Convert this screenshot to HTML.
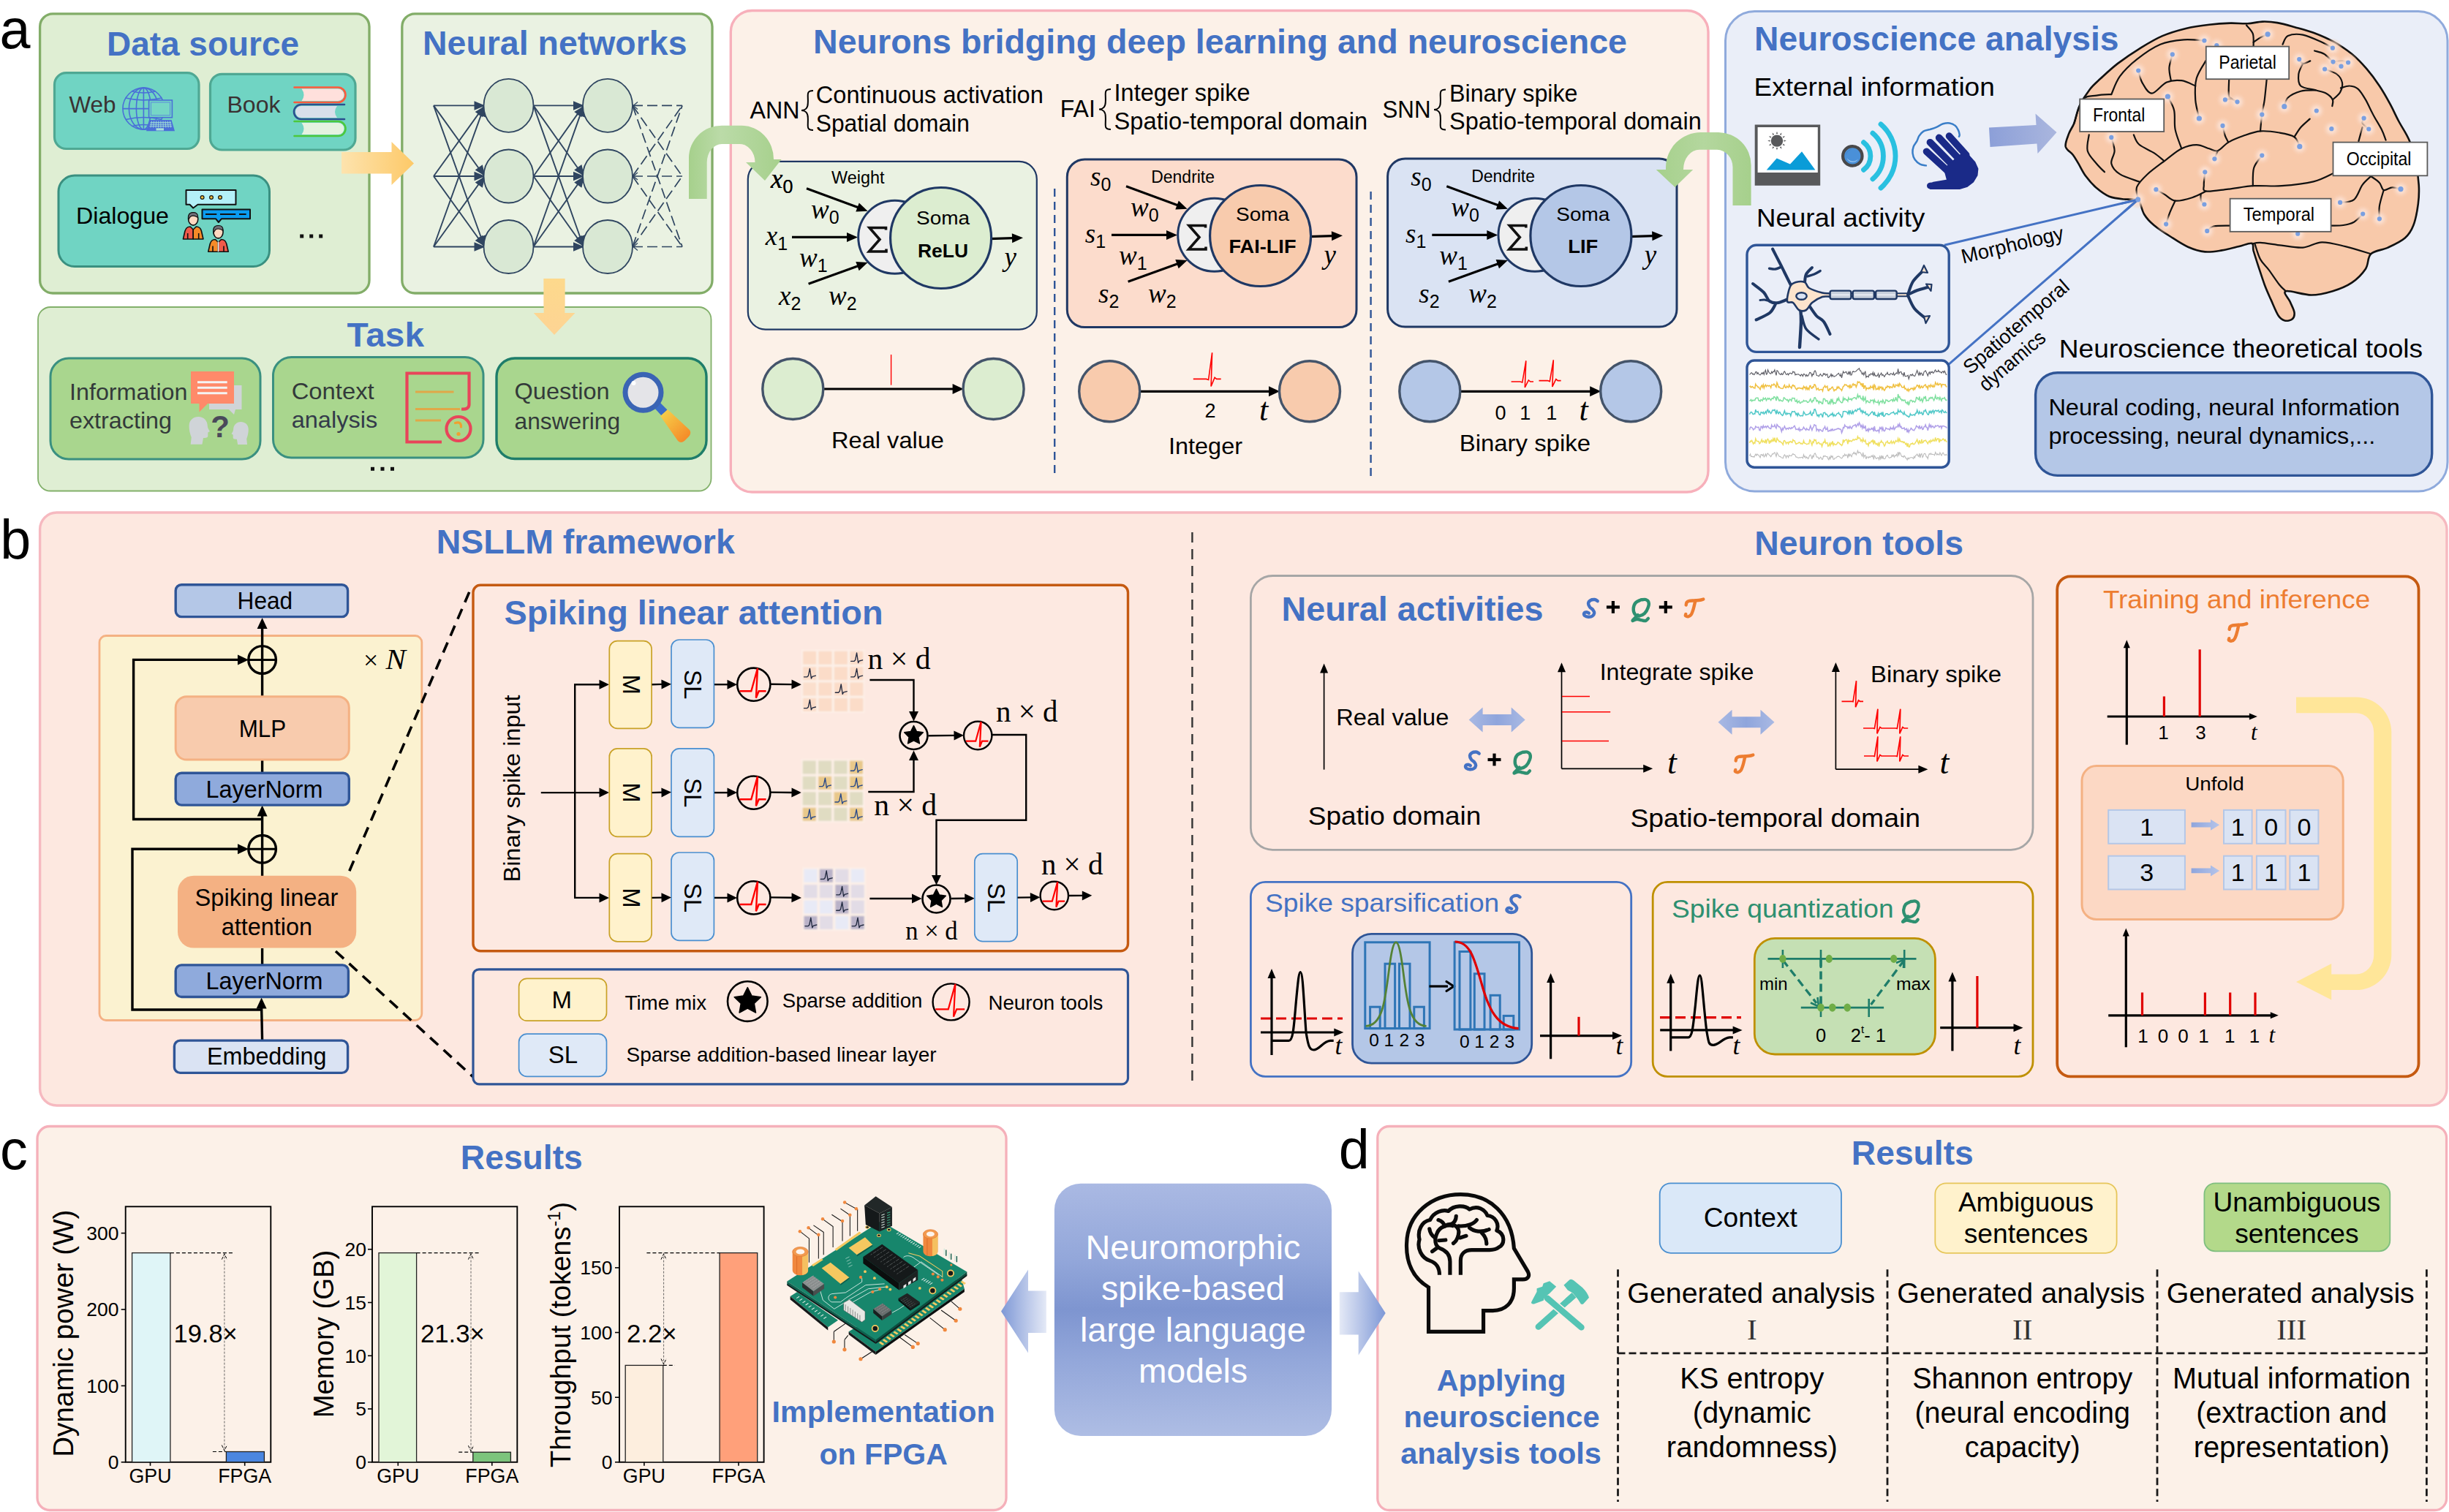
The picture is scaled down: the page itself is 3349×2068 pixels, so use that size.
<!DOCTYPE html>
<html><head><meta charset="utf-8"><title>figure</title>
<style>html,body{margin:0;padding:0;background:#fff;overflow:hidden}svg{display:block}text{white-space:pre}</style></head><body>
<svg width="3349" height="2068" viewBox="0 0 3349 2068" font-family="Liberation Sans, sans-serif">
<defs>
<linearGradient id="gOr" x1="0" x2="1" y1="0" y2="0"><stop offset="0" stop-color="#fde3ae"/><stop offset="1" stop-color="#fdc968"/></linearGradient>
<linearGradient id="gOd" x1="0" x2="0" y1="0" y2="1"><stop offset="0" stop-color="#fdd98c"/><stop offset="1" stop-color="#fdd494"/></linearGradient>
<linearGradient id="gHandle" gradientUnits="userSpaceOnUse" x1="905" y1="563" x2="940" y2="600"><stop offset="0" stop-color="#f6d04a"/><stop offset="1" stop-color="#f58a28"/></linearGradient>
<linearGradient id="gBl" x1="0" x2="1" y1="0" y2="0"><stop offset="0" stop-color="#8c9fd8"/><stop offset="1" stop-color="#aab6de"/></linearGradient>
<radialGradient id="gDot"><stop offset="0" stop-color="#fdeadf" stop-opacity="1"/><stop offset="0.45" stop-color="#fbdccb" stop-opacity="0.85"/><stop offset="1" stop-color="#f8c9aa" stop-opacity="0"/></radialGradient>
<linearGradient id="gGr1" gradientUnits="userSpaceOnUse" x1="942" x2="1068" y1="0" y2="0"><stop offset="0" stop-color="#a6d08c"/><stop offset="0.35" stop-color="#bbdba8"/><stop offset="1" stop-color="#a6d08c"/></linearGradient>
<linearGradient id="gGr2" gradientUnits="userSpaceOnUse" x1="2265" x2="2395" y1="0" y2="0"><stop offset="0" stop-color="#a6d08c"/><stop offset="0.5" stop-color="#b4d79e"/><stop offset="1" stop-color="#a6d08c"/></linearGradient>
<filter id="blr" x="-20%" y="-20%" width="140%" height="140%"><feGaussianBlur stdDeviation="0.9"/></filter>
<linearGradient id="gDA" x1="0" x2="1"><stop offset="0" stop-color="#a9b9e3"/><stop offset="0.5" stop-color="#8fa5dc"/><stop offset="1" stop-color="#a9b9e3"/></linearGradient>
<linearGradient id="gSA" x1="0" x2="1"><stop offset="0" stop-color="#8fa5dc"/><stop offset="1" stop-color="#b4c4ea"/></linearGradient>
<linearGradient id="gCB" x1="0" x2="0" y1="0" y2="1"><stop offset="0" stop-color="#aab9e3"/><stop offset="0.3" stop-color="#93a7da"/><stop offset="0.5" stop-color="#7e95d0"/><stop offset="0.7" stop-color="#93a7da"/><stop offset="1" stop-color="#aebde4"/></linearGradient>
<linearGradient id="gAL" x1="0" x2="1"><stop offset="0" stop-color="#7e98d6"/><stop offset="0.55" stop-color="#b7c5e8"/><stop offset="1" stop-color="#e4e9f6"/></linearGradient>
<linearGradient id="gAR" x1="0" x2="1"><stop offset="0" stop-color="#e4e9f6"/><stop offset="0.45" stop-color="#b7c5e8"/><stop offset="1" stop-color="#7e98d6"/></linearGradient>
</defs>
<text x="-0.5" y="65.8" font-size="75.5" fill="#000">a</text>
<rect x="54.6" y="18.9" width="450.4" height="382.1" fill="#dfeed3" rx="17.5" stroke="#82ad68" stroke-width="3.3"/>
<text x="146.0" y="75.7" font-size="46.5" fill="#4472c4" font-weight="bold" textLength="263.0" lengthAdjust="spacingAndGlyphs">Data source</text>
<rect x="74.5" y="99.7" width="197.5" height="103.8" fill="#70d4c3" rx="16" stroke="#4fa893" stroke-width="3.2"/>
<text x="94.5" y="154.0" font-size="32" fill="#3a3232" textLength="64.0" lengthAdjust="spacingAndGlyphs">Web</text>
<g fill="none" stroke="#4a6fd8" stroke-width="1.6">
<circle cx="196.4" cy="148.6" r="28.5" fill="none"/>
<ellipse cx="196.4" cy="148.6" rx="10.0" ry="28.5" fill="none"/>
<ellipse cx="196.4" cy="148.6" rx="20.0" ry="28.5" fill="none"/>
<line x1="196.4" y1="120.1" x2="196.4" y2="177.1" stroke="#4a6fd8" stroke-width="1.6"/>
<line x1="168.0" y1="148.6" x2="225.0" y2="148.6" stroke="#4a6fd8" stroke-width="1.6"/>
<path d="M172,134 Q196.4,140 221,134" fill="none"/>
<path d="M172,163.5 Q196.4,157.5 221,163.5" fill="none"/>
<path d="M181,125 Q196.4,129 212,125" fill="none"/>
<path d="M181,172.5 Q196.4,168.5 212,172.5" fill="none"/>
</g>
<rect x="203.6" y="137.0" width="31.8" height="23.7" fill="#70d4c3" stroke="#4a6fd8" stroke-width="1.6"/>
<rect x="206.6" y="140.0" width="25.8" height="17.7" fill="#76d6c6" stroke="#5a7fe0" stroke-width="0.8"/>
<polygon points="205.0,164.0 234.5,164.0 239.0,179.3 200.0,179.3" fill="#4a6fd8"/>
<g stroke="#9fdcd6" stroke-width="0.9">
<line x1="207.5" y1="165.5" x2="206.1" y2="174.5" stroke="#9fdcd6" stroke-width="0.9"/>
<line x1="210.6" y1="165.5" x2="209.5" y2="174.5" stroke="#9fdcd6" stroke-width="0.9"/>
<line x1="213.7" y1="165.5" x2="213.0" y2="174.5" stroke="#9fdcd6" stroke-width="0.9"/>
<line x1="216.8" y1="165.5" x2="216.5" y2="174.5" stroke="#9fdcd6" stroke-width="0.9"/>
<line x1="219.9" y1="165.5" x2="219.9" y2="174.5" stroke="#9fdcd6" stroke-width="0.9"/>
<line x1="223.0" y1="165.5" x2="223.3" y2="174.5" stroke="#9fdcd6" stroke-width="0.9"/>
<line x1="226.1" y1="165.5" x2="226.8" y2="174.5" stroke="#9fdcd6" stroke-width="0.9"/>
<line x1="229.2" y1="165.5" x2="230.2" y2="174.5" stroke="#9fdcd6" stroke-width="0.9"/>
<line x1="232.3" y1="165.5" x2="233.7" y2="174.5" stroke="#9fdcd6" stroke-width="0.9"/>
<line x1="205.5" y1="167.5" x2="234.0" y2="167.5" stroke="#9fdcd6" stroke-width="0.9"/>
<line x1="204.9" y1="170.1" x2="234.6" y2="170.1" stroke="#9fdcd6" stroke-width="0.9"/>
<line x1="204.3" y1="172.7" x2="235.2" y2="172.7" stroke="#9fdcd6" stroke-width="0.9"/>
</g>
<rect x="213.5" y="175.3" width="10.5" height="3.2" fill="#a8e0d8"/>
<rect x="287.5" y="101.3" width="198.5" height="103.7" fill="#70d4c3" rx="16" stroke="#4fa893" stroke-width="3.2"/>
<text x="310.5" y="154.3" font-size="32" fill="#3a3232" textLength="73.0" lengthAdjust="spacingAndGlyphs">Book</text>
<path d="M412.5,121.5 Q418.5,129.75 412.5,138 L462.25,138 A8.25,8.25 0 0 0 462.25,121.5 Z" fill="#ffe0dc"/>
<path d="M402.5,119.5 L462.25,119.5 A10.25,10.25 0 0 1 462.25,140 L402.5,140" fill="none" stroke="#ff5a3c" stroke-width="2.6" stroke-linecap="round"/>
<path d="M461,145 Q455,153.0 461,161 L412.0,161 A8.0,8.0 0 0 1 412.0,145 Z" fill="#d8dfea"/>
<path d="M471,143 L412.0,143 A10.0,10.0 0 0 0 412.0,163 L471,163" fill="none" stroke="#2a4f8f" stroke-width="2.6" stroke-linecap="round"/>
<path d="M412.5,168 Q418.5,176.0 412.5,184 L462.5,184 A8.0,8.0 0 0 0 462.5,168 Z" fill="#e4f2e0"/>
<path d="M402.5,166 L462.5,166 A10.0,10.0 0 0 1 462.5,186 L402.5,186" fill="none" stroke="#4cc83c" stroke-width="2.6" stroke-linecap="round"/>
<rect x="80.0" y="240.0" width="288.5" height="124.5" fill="#70d4c3" rx="22" stroke="#3a9080" stroke-width="3"/>
<text x="104.0" y="305.5" font-size="32" fill="#000" textLength="127.0" lengthAdjust="spacingAndGlyphs">Dialogue</text>
<path d="M254.5,260 H322.5 V279.8 H270.5 L264.2,284.5 L259.5,279.8 H254.5 Z" fill="#b4f0f8" stroke="#111" stroke-width="2" stroke-linejoin="round"/>
<circle cx="276.6" cy="270.0" r="2.4" fill="#f8c040" stroke="#111" stroke-width="1.2"/>
<circle cx="289.0" cy="270.0" r="2.4" fill="#f8c040" stroke="#111" stroke-width="1.2"/>
<circle cx="301.0" cy="270.0" r="2.4" fill="#f8c040" stroke="#111" stroke-width="1.2"/>
<path d="M276.5,286.5 H342 V299.2 H303 L298.9,304 L295,299.2 H276.5 Z" fill="#0a9cf0" stroke="#111" stroke-width="2" stroke-linejoin="round"/>
<line x1="281.0" y1="293.0" x2="296.3" y2="293.0" stroke="#111" stroke-width="2"/>
<line x1="301.0" y1="293.0" x2="322.3" y2="293.0" stroke="#111" stroke-width="2"/>
<line x1="327.0" y1="293.0" x2="336.6" y2="293.0" stroke="#111" stroke-width="2"/>
<path d="M250.45,327 L252.95,316 Q254.45,310 260.2,310 L264.2,314 L264.2,327 Z" fill="#f05a4a" stroke="#111" stroke-width="1.6" stroke-linejoin="round"/>
<path d="M277.95,327 L275.45,316 Q273.95,310 268.2,310 L264.2,314 L264.2,327 Z" fill="#f58a28" stroke="#111" stroke-width="1.6" stroke-linejoin="round"/>
<line x1="256.7" y1="327.0" x2="256.7" y2="319.0" stroke="#111" stroke-width="1.6"/>
<line x1="271.7" y1="327.0" x2="271.7" y2="319.0" stroke="#111" stroke-width="1.6"/>
<ellipse cx="264.2" cy="299.5" rx="6.6" ry="8.6" fill="#ffd8c0" stroke="#111" stroke-width="1.6"/>
<path d="M257.59999999999997,300.5 Q256.2,290.5 264.2,290.7 Q271.2,290.5 270.59999999999997,297.5 Q264.2,293.5 260.2,296.5 Z" fill="#707078" stroke="#111" stroke-width="1.2"/>
<path d="M284.75,344.3 L287.25,333.5 Q288.75,327.5 294.5,327.5 L298.5,331.5 L298.5,344.3 Z" fill="#f58a28" stroke="#111" stroke-width="1.6" stroke-linejoin="round"/>
<path d="M312.25,344.3 L309.75,333.5 Q308.25,327.5 302.5,327.5 L298.5,331.5 L298.5,344.3 Z" fill="#f05a4a" stroke="#111" stroke-width="1.6" stroke-linejoin="round"/>
<line x1="291.0" y1="344.3" x2="291.0" y2="336.5" stroke="#111" stroke-width="1.6"/>
<line x1="306.0" y1="344.3" x2="306.0" y2="336.5" stroke="#111" stroke-width="1.6"/>
<line x1="298.5" y1="330.5" x2="298.5" y2="344.3" stroke="#e8f4f4" stroke-width="1.6"/>
<ellipse cx="298.5" cy="317.3" rx="6.6" ry="8.6" fill="#ffd8c0" stroke="#111" stroke-width="1.6"/>
<path d="M291.9,318.3 Q290.5,308.3 298.5,308.5 Q305.5,308.3 304.9,315.3 Q298.5,311.3 294.5,314.3 Z" fill="#707078" stroke="#111" stroke-width="1.2"/>
<rect x="410.2" y="320.5" width="5.0" height="5.0" fill="#111"/>
<rect x="423.2" y="320.5" width="5.0" height="5.0" fill="#111"/>
<rect x="436.2" y="320.5" width="5.0" height="5.0" fill="#111"/>
<rect x="549.8" y="18.9" width="424.2" height="382.1" fill="#eaf2e2" rx="17.5" stroke="#82ad68" stroke-width="3.3"/>
<text x="578.0" y="74.5" font-size="46.5" fill="#4472c4" font-weight="bold" textLength="361.5" lengthAdjust="spacingAndGlyphs">Neural networks</text>
<polygon points="467.0,208.0 535.5,208.0 535.5,194.0 566.0,223.5 535.5,253.0 535.5,237.5 467.0,237.5" fill="url(#gOr)"/>
<g stroke="#2f4560" stroke-width="1.5" fill="none">
<line x1="593.0" y1="144.4" x2="662.5" y2="144.4" stroke="#2f4560" stroke-width="1.9"/>
<line x1="729.5" y1="144.4" x2="798.0" y2="144.4" stroke="#2f4560" stroke-width="1.9"/>
<line x1="865.0" y1="144.4" x2="933.0" y2="144.4" stroke="#2f4560" stroke-width="1.7" stroke-dasharray="14 6"/>
<line x1="593.0" y1="144.4" x2="662.5" y2="241.0" stroke="#2f4560" stroke-width="1.9"/>
<line x1="729.5" y1="144.4" x2="798.0" y2="241.0" stroke="#2f4560" stroke-width="1.9"/>
<line x1="865.0" y1="144.4" x2="933.0" y2="241.0" stroke="#2f4560" stroke-width="1.7" stroke-dasharray="14 6"/>
<line x1="593.0" y1="144.4" x2="662.5" y2="337.5" stroke="#2f4560" stroke-width="1.9"/>
<line x1="729.5" y1="144.4" x2="798.0" y2="337.5" stroke="#2f4560" stroke-width="1.9"/>
<line x1="865.0" y1="144.4" x2="933.0" y2="337.5" stroke="#2f4560" stroke-width="1.7" stroke-dasharray="14 6"/>
<line x1="593.0" y1="241.0" x2="662.5" y2="144.4" stroke="#2f4560" stroke-width="1.9"/>
<line x1="729.5" y1="241.0" x2="798.0" y2="144.4" stroke="#2f4560" stroke-width="1.9"/>
<line x1="865.0" y1="241.0" x2="933.0" y2="144.4" stroke="#2f4560" stroke-width="1.7" stroke-dasharray="14 6"/>
<line x1="593.0" y1="241.0" x2="662.5" y2="241.0" stroke="#2f4560" stroke-width="1.9"/>
<line x1="729.5" y1="241.0" x2="798.0" y2="241.0" stroke="#2f4560" stroke-width="1.9"/>
<line x1="865.0" y1="241.0" x2="933.0" y2="241.0" stroke="#2f4560" stroke-width="1.7" stroke-dasharray="14 6"/>
<line x1="593.0" y1="241.0" x2="662.5" y2="337.5" stroke="#2f4560" stroke-width="1.9"/>
<line x1="729.5" y1="241.0" x2="798.0" y2="337.5" stroke="#2f4560" stroke-width="1.9"/>
<line x1="865.0" y1="241.0" x2="933.0" y2="337.5" stroke="#2f4560" stroke-width="1.7" stroke-dasharray="14 6"/>
<line x1="593.0" y1="337.5" x2="662.5" y2="144.4" stroke="#2f4560" stroke-width="1.9"/>
<line x1="729.5" y1="337.5" x2="798.0" y2="144.4" stroke="#2f4560" stroke-width="1.9"/>
<line x1="865.0" y1="337.5" x2="933.0" y2="144.4" stroke="#2f4560" stroke-width="1.7" stroke-dasharray="14 6"/>
<line x1="593.0" y1="337.5" x2="662.5" y2="241.0" stroke="#2f4560" stroke-width="1.9"/>
<line x1="729.5" y1="337.5" x2="798.0" y2="241.0" stroke="#2f4560" stroke-width="1.9"/>
<line x1="865.0" y1="337.5" x2="933.0" y2="241.0" stroke="#2f4560" stroke-width="1.7" stroke-dasharray="14 6"/>
<line x1="593.0" y1="337.5" x2="662.5" y2="337.5" stroke="#2f4560" stroke-width="1.9"/>
<line x1="729.5" y1="337.5" x2="798.0" y2="337.5" stroke="#2f4560" stroke-width="1.9"/>
<line x1="865.0" y1="337.5" x2="933.0" y2="337.5" stroke="#2f4560" stroke-width="1.7" stroke-dasharray="14 6"/>
</g>
<polygon points="663.5,144.4 648.5,150.7 648.5,138.2" fill="#2f4560"/>
<polygon points="663.5,144.4 659.8,160.2 649.7,152.9" fill="#2f4560"/>
<polygon points="663.5,144.4 664.3,160.6 652.5,156.4" fill="#2f4560"/>
<ellipse cx="695.5" cy="144.4" rx="34.0" ry="36.5" fill="#d9e8d4" stroke="#2f4560" stroke-width="1.8"/>
<polygon points="663.5,241.0 649.7,232.5 659.8,225.2" fill="#2f4560"/>
<polygon points="663.5,241.0 648.5,247.2 648.5,234.8" fill="#2f4560"/>
<polygon points="663.5,241.0 659.8,256.8 649.7,249.5" fill="#2f4560"/>
<ellipse cx="695.5" cy="241.0" rx="34.0" ry="36.5" fill="#d9e8d4" stroke="#2f4560" stroke-width="1.8"/>
<polygon points="663.5,337.5 652.5,325.5 664.3,321.3" fill="#2f4560"/>
<polygon points="663.5,337.5 649.7,329.0 659.8,321.7" fill="#2f4560"/>
<polygon points="663.5,337.5 648.5,343.8 648.5,331.2" fill="#2f4560"/>
<ellipse cx="695.5" cy="337.5" rx="34.0" ry="36.5" fill="#d9e8d4" stroke="#2f4560" stroke-width="1.8"/>
<polygon points="799.0,144.4 784.0,150.7 784.0,138.2" fill="#2f4560"/>
<polygon points="799.0,144.4 795.4,160.3 785.2,153.0" fill="#2f4560"/>
<polygon points="799.0,144.4 799.9,160.6 788.1,156.4" fill="#2f4560"/>
<ellipse cx="831.0" cy="144.4" rx="34.0" ry="36.5" fill="#d9e8d4" stroke="#2f4560" stroke-width="1.8"/>
<polygon points="799.0,241.0 785.2,232.4 795.4,225.1" fill="#2f4560"/>
<polygon points="799.0,241.0 784.0,247.2 784.0,234.8" fill="#2f4560"/>
<polygon points="799.0,241.0 795.4,256.8 785.2,249.6" fill="#2f4560"/>
<ellipse cx="831.0" cy="241.0" rx="34.0" ry="36.5" fill="#d9e8d4" stroke="#2f4560" stroke-width="1.8"/>
<polygon points="799.0,337.5 788.1,325.5 799.9,321.3" fill="#2f4560"/>
<polygon points="799.0,337.5 785.2,328.9 795.4,321.7" fill="#2f4560"/>
<polygon points="799.0,337.5 784.0,343.8 784.0,331.2" fill="#2f4560"/>
<ellipse cx="831.0" cy="337.5" rx="34.0" ry="36.5" fill="#d9e8d4" stroke="#2f4560" stroke-width="1.8"/>
<path d="M872,139.4 L866,144.4 L872,149.4" fill="none" stroke="#2f4560" stroke-width="1.3"/>
<path d="M872,236 L866,241 L872,246" fill="none" stroke="#2f4560" stroke-width="1.3"/>
<path d="M872,332.5 L866,337.5 L872,342.5" fill="none" stroke="#2f4560" stroke-width="1.3"/>
<polygon points="743.6,381.0 772.4,381.0 772.4,428.0 786.5,428.0 758.0,458.0 729.8,428.0 743.6,428.0" fill="url(#gOd)"/>
<g>
<rect x="52.0" y="420.0" width="920.5" height="251.5" fill="#dfeed3" rx="17" stroke="#82b06a" stroke-width="1.8"/>
</g>
<polygon points="743.6,381.0 772.4,381.0 772.4,428.0 786.5,428.0 758.0,458.0 729.8,428.0 743.6,428.0" fill="url(#gOd)"/>
<text x="474.5" y="474.0" font-size="46.5" fill="#4472c4" font-weight="bold" textLength="105.5" lengthAdjust="spacingAndGlyphs">Task</text>
<rect x="69.0" y="490.0" width="287.0" height="138.0" fill="#a9d68e" rx="25" stroke="#3a9080" stroke-width="3"/>
<text x="95.0" y="546.5" font-size="31.5" fill="#333a3a" textLength="161.5" lengthAdjust="spacingAndGlyphs">Information</text>
<text x="95.0" y="585.5" font-size="31.5" fill="#333a3a" textLength="140.0" lengthAdjust="spacingAndGlyphs">extracting</text>
<polygon points="286.0,527.0 330.5,527.0 330.5,560.0 322.0,560.0 320.0,567.0 313.0,560.0 286.0,560.0" fill="#d0d4d8"/>
<polygon points="261.0,508.0 320.0,508.0 320.0,552.0 284.0,552.0 272.5,563.5 272.5,552.0 261.0,552.0" fill="#ff8a6a"/>
<line x1="270.0" y1="522.7" x2="310.7" y2="522.7" stroke="#f4f4f4" stroke-width="3"/>
<line x1="270.0" y1="530.2" x2="310.7" y2="530.2" stroke="#f4f4f4" stroke-width="3"/>
<line x1="270.0" y1="537.7" x2="310.7" y2="537.7" stroke="#f4f4f4" stroke-width="3"/>
<path transform="translate(256.5,570) scale(1.05,1.05)" d="M2,12 C2,4 8,0 14,0 C21,0 26,5 26,12 C26,14 27,16 29,19 L26.5,20.5 L26.5,25 C26.5,27 25,27.5 22,27.5 L20.5,27.5 L19,36 L4,36 L5,27 C3,22 2,17 2,12 Z" fill="#d0d4d8"/>
<path transform="translate(341.5,577) scale(-0.86,0.86)" d="M2,12 C2,4 8,0 14,0 C21,0 26,5 26,12 C26,14 27,16 29,19 L26.5,20.5 L26.5,25 C26.5,27 25,27.5 22,27.5 L20.5,27.5 L19,36 L4,36 L5,27 C3,22 2,17 2,12 Z" fill="#d0d4d8"/>
<text x="301.0" y="597.5" font-size="42" fill="#4a4a5a" font-weight="bold" text-anchor="middle">?</text>
<rect x="373.5" y="488.5" width="287.5" height="137.5" fill="#a9d68e" rx="25" stroke="#3a9080" stroke-width="3"/>
<text x="398.7" y="546.0" font-size="31.5" fill="#333a3a" textLength="113.0" lengthAdjust="spacingAndGlyphs">Context</text>
<text x="398.7" y="584.7" font-size="31.5" fill="#333a4a" textLength="117.5" lengthAdjust="spacingAndGlyphs">analysis</text>
<path d="M604,604.5 H556.5 V510.5 H641.5 V553 Q641.5,560.5 631,559.5" fill="none" stroke="#e8455a" stroke-width="4.2" stroke-linejoin="miter"/>
<line x1="568.0" y1="536.0" x2="620.5" y2="536.0" stroke="#e0a848" stroke-width="3.2"/>
<line x1="568.0" y1="559.5" x2="629.0" y2="559.5" stroke="#e0a848" stroke-width="3.2"/>
<line x1="568.0" y1="575.0" x2="603.0" y2="575.0" stroke="#e0a848" stroke-width="3.2"/>
<circle cx="627.0" cy="586.5" r="16.5" fill="#a9d68e" stroke="#e8455a" stroke-width="4.2"/>
<path d="M622.5,578.5 Q631,576 630.5,584" fill="none" stroke="#f0a030" stroke-width="3.2" stroke-linecap="round"/>
<circle cx="627.0" cy="593.5" r="2.6" fill="#f0a030"/>
<rect x="507.0" y="638.8" width="5.0" height="5.0" fill="#111"/>
<rect x="520.5" y="638.8" width="5.0" height="5.0" fill="#111"/>
<rect x="534.0" y="638.8" width="5.0" height="5.0" fill="#111"/>
<rect x="679.0" y="490.0" width="287.0" height="137.5" fill="#a9d68e" rx="25" stroke="#1e7d6a" stroke-width="3.4"/>
<text x="703.6" y="546.0" font-size="31.5" fill="#333a3a" textLength="130.0" lengthAdjust="spacingAndGlyphs">Question</text>
<text x="703.6" y="586.5" font-size="31.5" fill="#333a3a" textLength="144.5" lengthAdjust="spacingAndGlyphs">answering</text>
<polygon points="893.0,556.0 901.0,549.0 915.0,563.0 907.0,571.0" fill="#3a6cc8"/>
<path d="M903,569 L913,560 L943,588 Q946,592 942,597 L936,603 Q931,607 927,603 Z" fill="url(#gHandle)"/>
<circle cx="879.5" cy="536.8" r="24.5" fill="#e4e4e8" stroke="#3a64b4" stroke-width="7"/>
<circle cx="866.5" cy="524.0" r="3.0" fill="#fff"/>
<rect x="999.3" y="14.5" width="1336.7" height="658.5" fill="#fcf1e8" rx="29" stroke="#f7b0bb" stroke-width="3.4"/>
<text x="1112.0" y="73.1" font-size="46.5" fill="#4472c4" font-weight="bold" textLength="1113.0" lengthAdjust="spacingAndGlyphs">Neurons bridging deep learning and neuroscience</text>
<text x="1025.5" y="162.0" font-size="32.5" fill="#000" textLength="68.0" lengthAdjust="spacingAndGlyphs">ANN</text>
<path d="M1112,124 C1101.6,124 1105.6,130 1104.8,141.0 C1104.8,148.0 1100.8,151.0 1096,151.0 C1100.8,151.0 1104.8,154.0 1104.8,161.0 C1105.6,172 1101.6,178 1112,178" fill="none" stroke="#000" stroke-width="2"/>
<text x="1115.8" y="141.3" font-size="32.5" fill="#000" textLength="311.0" lengthAdjust="spacingAndGlyphs">Continuous activation</text>
<text x="1115.8" y="180.3" font-size="32.5" fill="#000" textLength="210.0" lengthAdjust="spacingAndGlyphs">Spatial domain</text>
<text x="1449.8" y="159.5" font-size="32.5" fill="#000" textLength="48.0" lengthAdjust="spacingAndGlyphs">FAI</text>
<path d="M1519,122 C1508.6,122 1512.6,128 1511.8,139.5 C1511.8,146.5 1507.8,149.5 1503,149.5 C1507.8,149.5 1511.8,152.5 1511.8,159.5 C1512.6,171 1508.6,177 1519,177" fill="none" stroke="#000" stroke-width="2"/>
<text x="1523.6" y="138.0" font-size="32.5" fill="#000" textLength="186.0" lengthAdjust="spacingAndGlyphs">Integer spike</text>
<text x="1523.6" y="177.4" font-size="32.5" fill="#000" textLength="346.5" lengthAdjust="spacingAndGlyphs">Spatio-temporal domain</text>
<text x="1890.5" y="160.7" font-size="32.5" fill="#000" textLength="66.0" lengthAdjust="spacingAndGlyphs">SNN</text>
<path d="M1977,122.5 C1966.6,122.5 1970.6,128.5 1969.8,140.0 C1969.8,147.0 1965.8,150.0 1961,150.0 C1965.8,150.0 1969.8,153.0 1969.8,160.0 C1970.6,171.5 1966.6,177.5 1977,177.5" fill="none" stroke="#000" stroke-width="2"/>
<text x="1982.0" y="138.6" font-size="32.5" fill="#000" textLength="175.5" lengthAdjust="spacingAndGlyphs">Binary spike</text>
<text x="1982.0" y="177.4" font-size="32.5" fill="#000" textLength="344.7" lengthAdjust="spacingAndGlyphs">Spatio-temporal domain</text>
<g transform="translate(0,3)">
<rect x="1022.8" y="217.9" width="395.0" height="229.7" fill="#eaf2e2" rx="24" stroke="#1f3864" stroke-width="2.2"/>
<line x1="1103.0" y1="254.8" x2="1173.5" y2="280.8" stroke="#000" stroke-width="3.2"/>
<polygon points="1186.6,285.7 1170.3,286.6 1174.8,274.4" fill="#000"/>
<line x1="1083.0" y1="321.4" x2="1159.0" y2="321.4" stroke="#000" stroke-width="3.2"/>
<polygon points="1173.0,321.4 1158.0,327.9 1158.0,314.9" fill="#000"/>
<line x1="1105.6" y1="385.2" x2="1173.4" y2="360.7" stroke="#000" stroke-width="3.2"/>
<polygon points="1186.6,356.0 1174.7,367.2 1170.3,355.0" fill="#000"/>
<line x1="1353.0" y1="323.6" x2="1385.0" y2="322.6" stroke="#000" stroke-width="3.2"/>
<polygon points="1399.0,322.2 1384.2,329.2 1383.8,316.2" fill="#000"/>
<circle cx="1223.7" cy="321.3" r="50.0" fill="#efefef" stroke="#1f3864" stroke-width="3"/>
<circle cx="1286.6" cy="322.5" r="69.0" fill="#dcedd0" stroke="#1f3864" stroke-width="3.2"/>
<path d="M1211.5,311.5 L1211.5,308.5 H1189 L1203,324.5 L1188.5,341 H1212 L1212,337.5" fill="none" stroke="#111" stroke-width="3.6" stroke-linejoin="miter"/>
<text x="1289.5" y="304.0" font-size="26.5" fill="#000" text-anchor="middle" textLength="73.0" lengthAdjust="spacingAndGlyphs">Soma</text>
<text x="1289.5" y="349.0" font-size="25" fill="#000" font-weight="bold" text-anchor="middle" textLength="69.0" lengthAdjust="spacingAndGlyphs">ReLU</text>
<text x="1054.0" y="254.3" font-size="37" fill="#000" font-family="Liberation Serif, serif" font-style="italic">x<tspan font-size="25" dy="7.0" font-style="normal" font-family="Liberation Sans, sans-serif">0</tspan></text>
<text x="1046.8" y="332.0" font-size="37" fill="#000" font-family="Liberation Serif, serif" font-style="italic">x<tspan font-size="25" dy="7.0" font-style="normal" font-family="Liberation Sans, sans-serif">1</tspan></text>
<text x="1065.0" y="414.0" font-size="37" fill="#000" font-family="Liberation Serif, serif" font-style="italic">x<tspan font-size="25" dy="7.0" font-style="normal" font-family="Liberation Sans, sans-serif">2</tspan></text>
<text x="1109.0" y="296.4" font-size="37" fill="#000" font-family="Liberation Serif, serif" font-style="italic">w<tspan font-size="25" dy="7.0" font-style="normal" font-family="Liberation Sans, sans-serif">0</tspan></text>
<text x="1093.0" y="362.0" font-size="37" fill="#000" font-family="Liberation Serif, serif" font-style="italic">w<tspan font-size="25" dy="7.0" font-style="normal" font-family="Liberation Sans, sans-serif">1</tspan></text>
<text x="1133.0" y="414.0" font-size="37" fill="#000" font-family="Liberation Serif, serif" font-style="italic">w<tspan font-size="25" dy="7.0" font-style="normal" font-family="Liberation Sans, sans-serif">2</tspan></text>
<text x="1373.5" y="360.7" font-size="37" fill="#000" font-family="Liberation Serif, serif" font-style="italic">y</text>
</g>
<text x="1137.0" y="251.0" font-size="23.5" fill="#000" textLength="72.5" lengthAdjust="spacingAndGlyphs">Weight</text>
<rect x="1459.3" y="217.9" width="395.7" height="229.7" fill="#fcdccc" rx="24" stroke="#1f3864" stroke-width="3"/>
<line x1="1540.0" y1="254.8" x2="1610.5" y2="280.8" stroke="#000" stroke-width="3.2"/>
<polygon points="1623.6,285.7 1607.3,286.6 1611.8,274.4" fill="#000"/>
<line x1="1520.0" y1="321.4" x2="1596.0" y2="321.4" stroke="#000" stroke-width="3.2"/>
<polygon points="1610.0,321.4 1595.0,327.9 1595.0,314.9" fill="#000"/>
<line x1="1542.6" y1="385.2" x2="1610.4" y2="360.7" stroke="#000" stroke-width="3.2"/>
<polygon points="1623.6,356.0 1611.7,367.2 1607.3,355.0" fill="#000"/>
<line x1="1790.0" y1="323.6" x2="1822.0" y2="322.6" stroke="#000" stroke-width="3.2"/>
<polygon points="1836.0,322.2 1821.2,329.2 1820.8,316.2" fill="#000"/>
<circle cx="1660.7" cy="321.3" r="50.0" fill="#efefef" stroke="#1f3864" stroke-width="3"/>
<circle cx="1723.6" cy="322.5" r="69.0" fill="#f8cbad" stroke="#1f3864" stroke-width="3.2"/>
<path d="M1648.5,311.5 L1648.5,308.5 H1626 L1640,324.5 L1625.5,341 H1649 L1649,337.5" fill="none" stroke="#111" stroke-width="3.6" stroke-linejoin="miter"/>
<text x="1726.5" y="302.4" font-size="26.5" fill="#000" text-anchor="middle" textLength="73.0" lengthAdjust="spacingAndGlyphs">Soma</text>
<text x="1726.5" y="346.4" font-size="26" fill="#000" font-weight="bold" text-anchor="middle" textLength="92.0" lengthAdjust="spacingAndGlyphs">FAI-LIF</text>
<text x="1491.0" y="254.3" font-size="37" fill="#000" font-family="Liberation Serif, serif" font-style="italic">s<tspan font-size="25" dy="7.0" font-style="normal" font-family="Liberation Sans, sans-serif">0</tspan></text>
<text x="1483.8" y="332.0" font-size="37" fill="#000" font-family="Liberation Serif, serif" font-style="italic">s<tspan font-size="25" dy="7.0" font-style="normal" font-family="Liberation Sans, sans-serif">1</tspan></text>
<text x="1502.0" y="414.0" font-size="37" fill="#000" font-family="Liberation Serif, serif" font-style="italic">s<tspan font-size="25" dy="7.0" font-style="normal" font-family="Liberation Sans, sans-serif">2</tspan></text>
<text x="1546.0" y="296.4" font-size="37" fill="#000" font-family="Liberation Serif, serif" font-style="italic">w<tspan font-size="25" dy="7.0" font-style="normal" font-family="Liberation Sans, sans-serif">0</tspan></text>
<text x="1530.0" y="362.0" font-size="37" fill="#000" font-family="Liberation Serif, serif" font-style="italic">w<tspan font-size="25" dy="7.0" font-style="normal" font-family="Liberation Sans, sans-serif">1</tspan></text>
<text x="1570.0" y="414.0" font-size="37" fill="#000" font-family="Liberation Serif, serif" font-style="italic">w<tspan font-size="25" dy="7.0" font-style="normal" font-family="Liberation Sans, sans-serif">2</tspan></text>
<text x="1810.5" y="360.7" font-size="37" fill="#000" font-family="Liberation Serif, serif" font-style="italic">y</text>
<text x="1574.3" y="249.5" font-size="23.5" fill="#000" textLength="86.7" lengthAdjust="spacingAndGlyphs">Dendrite</text>
<rect x="1897.6" y="217.0" width="395.4" height="230.0" fill="#dae3f3" rx="24" stroke="#1f3864" stroke-width="3"/>
<line x1="1978.3" y1="254.8" x2="2048.8" y2="280.8" stroke="#000" stroke-width="3.2"/>
<polygon points="2061.9,285.7 2045.6,286.6 2050.1,274.4" fill="#000"/>
<line x1="1958.3" y1="321.4" x2="2034.3" y2="321.4" stroke="#000" stroke-width="3.2"/>
<polygon points="2048.3,321.4 2033.3,327.9 2033.3,314.9" fill="#000"/>
<line x1="1980.9" y1="385.2" x2="2048.7" y2="360.7" stroke="#000" stroke-width="3.2"/>
<polygon points="2061.9,356.0 2050.0,367.2 2045.6,355.0" fill="#000"/>
<line x1="2228.3" y1="323.6" x2="2260.3" y2="322.6" stroke="#000" stroke-width="3.2"/>
<polygon points="2274.3,322.2 2259.5,329.2 2259.1,316.2" fill="#000"/>
<circle cx="2099.0" cy="321.3" r="50.0" fill="#efefef" stroke="#1f3864" stroke-width="3"/>
<circle cx="2161.9" cy="322.5" r="69.0" fill="#b4c7e7" stroke="#1f3864" stroke-width="3.2"/>
<path d="M2086.8,311.5 L2086.8,308.5 H2064.3 L2078.3,324.5 L2063.8,341 H2087.3 L2087.3,337.5" fill="none" stroke="#111" stroke-width="3.6" stroke-linejoin="miter"/>
<text x="2164.8" y="302.4" font-size="26.5" fill="#000" text-anchor="middle" textLength="73.0" lengthAdjust="spacingAndGlyphs">Soma</text>
<text x="2164.8" y="346.4" font-size="25" fill="#000" font-weight="bold" text-anchor="middle" textLength="41.0" lengthAdjust="spacingAndGlyphs">LIF</text>
<text x="1929.3" y="254.3" font-size="37" fill="#000" font-family="Liberation Serif, serif" font-style="italic">s<tspan font-size="25" dy="7.0" font-style="normal" font-family="Liberation Sans, sans-serif">0</tspan></text>
<text x="1922.1" y="332.0" font-size="37" fill="#000" font-family="Liberation Serif, serif" font-style="italic">s<tspan font-size="25" dy="7.0" font-style="normal" font-family="Liberation Sans, sans-serif">1</tspan></text>
<text x="1940.3" y="414.0" font-size="37" fill="#000" font-family="Liberation Serif, serif" font-style="italic">s<tspan font-size="25" dy="7.0" font-style="normal" font-family="Liberation Sans, sans-serif">2</tspan></text>
<text x="1984.3" y="296.4" font-size="37" fill="#000" font-family="Liberation Serif, serif" font-style="italic">w<tspan font-size="25" dy="7.0" font-style="normal" font-family="Liberation Sans, sans-serif">0</tspan></text>
<text x="1968.3" y="362.0" font-size="37" fill="#000" font-family="Liberation Serif, serif" font-style="italic">w<tspan font-size="25" dy="7.0" font-style="normal" font-family="Liberation Sans, sans-serif">1</tspan></text>
<text x="2008.3" y="414.0" font-size="37" fill="#000" font-family="Liberation Serif, serif" font-style="italic">w<tspan font-size="25" dy="7.0" font-style="normal" font-family="Liberation Sans, sans-serif">2</tspan></text>
<text x="2248.8" y="360.7" font-size="37" fill="#000" font-family="Liberation Serif, serif" font-style="italic">y</text>
<text x="2012.3" y="248.5" font-size="23.5" fill="#000" textLength="86.7" lengthAdjust="spacingAndGlyphs">Dendrite</text>
<line x1="1442.2" y1="258.0" x2="1442.2" y2="650.0" stroke="#2f5597" stroke-width="2.4" stroke-dasharray="11 7"/>
<line x1="1874.6" y1="262.0" x2="1874.6" y2="652.0" stroke="#2f5597" stroke-width="2.4" stroke-dasharray="11 7"/>
<line x1="1126.3" y1="532.0" x2="1303.6" y2="532.0" stroke="#000" stroke-width="3.2"/>
<polygon points="1317.6,532.0 1302.6,539.0 1302.6,525.0" fill="#000"/>
<circle cx="1084.3" cy="532.0" r="41.5" fill="#dcedd0" stroke="#44546a" stroke-width="3.4"/>
<circle cx="1358.6" cy="532.0" r="41.5" fill="#dcedd0" stroke="#44546a" stroke-width="3.4"/>
<line x1="1218.6" y1="485.0" x2="1218.6" y2="526.6" stroke="#ff0000" stroke-width="1.4"/>
<text x="1137.0" y="612.9" font-size="32" fill="#000" textLength="154.0" lengthAdjust="spacingAndGlyphs">Real value</text>
<line x1="1559.2" y1="535.3" x2="1736.0" y2="535.3" stroke="#000" stroke-width="3.2"/>
<polygon points="1750.0,535.3 1735.0,542.3 1735.0,528.3" fill="#000"/>
<circle cx="1517.2" cy="535.3" r="41.5" fill="#f8cbad" stroke="#44546a" stroke-width="3.4"/>
<circle cx="1791.0" cy="535.3" r="41.5" fill="#f8cbad" stroke="#44546a" stroke-width="3.4"/>
<path d="M1631.8,518.4 H1649.6 L1652.6,519.4 L1657.6,482.3 L1656.1,528.5 L1661.1,516.4 L1663.6,518.4 H1669.7" fill="none" stroke="#ff0000" stroke-width="1.6" stroke-linejoin="miter"/>
<text x="1655.0" y="570.5" font-size="27" fill="#000" text-anchor="middle">2</text>
<text x="1722.0" y="575.0" font-size="44" fill="#000" font-family="Liberation Serif, serif" font-style="italic">t</text>
<text x="1598.0" y="621.0" font-size="32" fill="#000" textLength="101.0" lengthAdjust="spacingAndGlyphs">Integer</text>
<line x1="1997.3" y1="535.3" x2="2175.2" y2="535.3" stroke="#000" stroke-width="3.2"/>
<polygon points="2189.2,535.3 2174.2,542.3 2174.2,528.3" fill="#000"/>
<circle cx="1955.3" cy="535.3" r="41.5" fill="#b4c7e7" stroke="#44546a" stroke-width="3.4"/>
<circle cx="2230.2" cy="535.3" r="41.5" fill="#b4c7e7" stroke="#44546a" stroke-width="3.4"/>
<path d="M2066.6,522 H2078.8 L2081.8,523 L2086.8,493.4 L2085.3,530 L2090.3,520 L2092.8,522 H2097" fill="none" stroke="#ff0000" stroke-width="1.6" stroke-linejoin="miter"/>
<path d="M2104.5,520.6 H2116.3 L2119.3,521.6 L2124.3,492.3 L2122.8,529 L2127.8,518.6 L2130.3,520.6 H2134.6" fill="none" stroke="#ff0000" stroke-width="1.6" stroke-linejoin="miter"/>
<text x="2051.9" y="573.9" font-size="27" fill="#000" text-anchor="middle">0</text>
<text x="2085.7" y="573.9" font-size="27" fill="#000" text-anchor="middle">1</text>
<text x="2121.7" y="573.9" font-size="27" fill="#000" text-anchor="middle">1</text>
<text x="2159.5" y="575.0" font-size="44" fill="#000" font-family="Liberation Serif, serif" font-style="italic">t</text>
<text x="1995.7" y="617.2" font-size="32" fill="#000" textLength="179.3" lengthAdjust="spacingAndGlyphs">Binary spike</text>
<rect x="2359.5" y="15.5" width="987.5" height="656.5" fill="#eaeef8" rx="40" stroke="#8faadc" stroke-width="3"/>
<text x="2399.0" y="68.8" font-size="46.5" fill="#4472c4" font-weight="bold" textLength="498.6" lengthAdjust="spacingAndGlyphs">Neuroscience analysis</text>
<text x="2398.5" y="131.3" font-size="34.5" fill="#000" textLength="329.3" lengthAdjust="spacingAndGlyphs">External information</text>
<text x="2402.0" y="310.0" font-size="34.5" fill="#000" textLength="230.3" lengthAdjust="spacingAndGlyphs">Neural activity</text>
<rect x="2399.7" y="170.5" width="89.5" height="83.3" fill="#58595b"/>
<rect x="2403.6" y="174.0" width="82.2" height="62.0" fill="#fff"/>
<polygon points="2415.7,232.5 2429.7,216.4 2448.0,224.5 2464.0,207.3 2482.4,232.5" fill="#0a9cd8"/>
<circle cx="2430.0" cy="192.6" r="8.2" fill="#58595b"/>
<polygon points="2442.8,192.6 2439.5,191.5 2439.5,193.7" fill="#58595b"/>
<polygon points="2441.1,199.0 2438.8,196.4 2437.7,198.4" fill="#58595b"/>
<polygon points="2436.4,203.7 2435.8,200.3 2433.8,201.4" fill="#58595b"/>
<polygon points="2430.0,205.4 2431.1,202.1 2428.9,202.1" fill="#58595b"/>
<polygon points="2423.6,203.7 2426.2,201.4 2424.2,200.3" fill="#58595b"/>
<polygon points="2418.9,199.0 2422.3,198.4 2421.2,196.4" fill="#58595b"/>
<polygon points="2417.2,192.6 2420.5,193.7 2420.5,191.5" fill="#58595b"/>
<polygon points="2418.9,186.2 2421.2,188.8 2422.3,186.8" fill="#58595b"/>
<polygon points="2423.6,181.5 2424.2,184.9 2426.2,183.8" fill="#58595b"/>
<polygon points="2430.0,179.8 2428.9,183.1 2431.1,183.1" fill="#58595b"/>
<polygon points="2436.4,181.5 2433.8,183.8 2435.8,184.9" fill="#58595b"/>
<polygon points="2441.1,186.2 2437.7,186.8 2438.8,188.8" fill="#58595b"/>
<circle cx="2533.3" cy="213.4" r="13.2" fill="#4a90d8" stroke="#48484a" stroke-width="4.2"/>
<path d="M2525.5,216 A8.5,8.5 0 0 0 2541,217.5 A10,10 0 0 1 2525.5,216 Z" fill="#a0c8f0"/>
<path d="M2524,213 A9.5,9.5 0 0 1 2533,204 A12,12 0 0 0 2524,213Z" fill="#3a78c0"/>
<path d="M2548.5,194.7 A23.5,23.5 0 0 1 2548.5,232.3" fill="none" stroke="#29c0e0" stroke-width="6.8" stroke-linecap="round"/>
<path d="M2560.9,182.2 A41,41 0 0 1 2560.9,244.8" fill="none" stroke="#29c0e0" stroke-width="6.8" stroke-linecap="round"/>
<path d="M2572.0,169.9 A57.5,57.5 0 0 1 2572.0,257.1" fill="none" stroke="#29c0e0" stroke-width="6.8" stroke-linecap="round"/>
<g stroke-linecap="round" stroke-linejoin="round">
<line x1="2634.5" y1="207.2" x2="2666.2" y2="236.3" stroke="#1a2a88" stroke-width="9.6" stroke-linecap="round"/>
<line x1="2639.4" y1="194.7" x2="2670.7" y2="226.4" stroke="#1a2a88" stroke-width="9.6" stroke-linecap="round"/>
<line x1="2651.6" y1="188.4" x2="2679.7" y2="218.3" stroke="#1a2a88" stroke-width="9.6" stroke-linecap="round"/>
<line x1="2665.5" y1="186.1" x2="2688.7" y2="212.0" stroke="#1a2a88" stroke-width="9.6" stroke-linecap="round"/>
<line x1="2639.3" y1="254.0" x2="2670.7" y2="251.5" stroke="#1a2a88" stroke-width="8.6" stroke-linecap="round"/>
<polygon points="2659.0,231.3 2673.4,218.3 2685.1,208.4 2692.3,212.9 2700.4,221.9 2704.4,230.9 2703.5,239.8 2698.1,248.8 2689.6,255.1 2679.7,258.1 2640.2,258.1 2636.6,256.0 2643.8,249.7 2663.1,246.4" fill="#1a2a88" stroke="#1a2a88" stroke-width="2"/>
<path d="M2633.9,226.4 C2632.5,226.1 2628.3,225.9 2625.8,224.6 C2623.2,223.2 2620.3,220.8 2618.6,218.3 C2616.9,215.7 2615.8,212.3 2615.5,209.3 C2615.2,206.3 2615.8,203.0 2616.8,200.3 C2617.8,197.6 2620.0,195.5 2621.3,193.1 C2622.6,190.7 2622.9,188.2 2624.4,185.9 C2625.9,183.7 2627.8,181.1 2630.3,179.6 C2632.7,178.2 2636.3,177.9 2639.3,177.0 C2642.3,176.0 2645.3,175.1 2648.2,173.8 C2651.2,172.5 2654.2,170.2 2657.2,169.3 C2660.2,168.4 2663.5,168.0 2666.2,168.4 C2668.9,168.8 2671.5,170.0 2673.4,171.6 C2675.4,173.1 2676.8,175.8 2677.9,177.9 C2678.9,179.9 2679.5,182.6 2679.7,184.1 C2679.9,185.6 2679.1,186.4 2679.0,186.8" fill="none" stroke="#3a7ec8" stroke-width="2.5"/>
</g>
<polygon points="2720.0,174.5 2784.5,171.0 2783.5,155.5 2812.5,181.0 2786.5,210.0 2785.5,196.5 2721.5,201.0" fill="url(#gBl)"/>
<line x1="2923.7" y1="273.0" x2="2658.9" y2="335.3" stroke="#4472c4" stroke-width="3"/>
<line x1="2923.7" y1="273.0" x2="2664.5" y2="498.7" stroke="#4472c4" stroke-width="3"/>
<rect x="2389.0" y="335.3" width="276.2" height="146.1" fill="#eaeef8" rx="13" stroke="#2f5597" stroke-width="3.4"/>
<rect x="2389.0" y="493.0" width="276.2" height="146.2" fill="#ffffff" rx="10" stroke="#2f5597" stroke-width="3.4"/>
<g stroke="#1f3864" fill="none" stroke-linecap="round" stroke-linejoin="round">
<path d="M2450.0,392.0 C2448.3,388.7 2442.8,377.7 2440.0,372.0 C2437.2,366.3 2435.7,363.2 2433.0,358.0 C2430.3,352.8 2425.5,343.4 2424.0,340.5" fill="none" stroke="#1f3864" stroke-width="4"/>
<path d="M2436.0,365.0 C2434.7,365.5 2430.8,367.6 2428.0,368.0 C2425.2,368.4 2420.9,367.3 2419.5,367.2" fill="none" stroke="#1f3864" stroke-width="3.4"/>
<path d="M2468.0,386.0 C2468.3,384.2 2468.3,378.3 2470.0,375.0 C2471.7,371.7 2476.7,367.5 2478.0,366.0" fill="none" stroke="#1f3864" stroke-width="4"/>
<path d="M2472.0,378.0 C2473.5,377.5 2478.1,376.2 2481.0,375.0 C2483.9,373.8 2487.8,371.3 2489.2,370.6" fill="none" stroke="#1f3864" stroke-width="3.4"/>
<path d="M2447.0,408.0 C2444.5,409.0 2436.5,413.3 2432.0,414.0 C2427.5,414.7 2423.3,414.3 2420.0,412.0 C2416.7,409.7 2415.8,404.0 2412.0,400.0 C2408.2,396.0 2399.5,390.0 2397.0,388.0" fill="none" stroke="#1f3864" stroke-width="4"/>
<path d="M2420.0,412.0 C2418.8,411.7 2415.2,410.2 2413.0,410.0 C2410.8,409.8 2408.0,410.4 2407.0,410.5" fill="none" stroke="#1f3864" stroke-width="3"/>
<path d="M2428.0,416.0 C2426.7,418.0 2424.4,424.4 2420.0,428.0 C2415.6,431.6 2404.6,435.8 2401.5,437.4" fill="none" stroke="#1f3864" stroke-width="4"/>
<path d="M2462.0,420.0 C2462.2,423.3 2463.2,430.8 2463.0,440.0 C2462.8,449.2 2461.3,469.2 2461.0,475.0" fill="none" stroke="#1f3864" stroke-width="4.4"/>
<path d="M2464.0,432.0 C2465.0,435.0 2466.2,444.7 2470.0,450.0 C2473.8,455.3 2484.2,461.6 2487.0,463.9" fill="none" stroke="#1f3864" stroke-width="3.4"/>
<path d="M2474.0,418.0 C2475.7,420.3 2480.7,428.3 2484.0,432.0 C2487.3,435.7 2490.9,435.8 2494.0,440.0 C2497.1,444.2 2501.2,454.2 2502.6,457.0" fill="none" stroke="#1f3864" stroke-width="4"/>
</g>
<path d="M2448.0,392.0 C2450.0,387.7 2452.7,387.0 2456.0,386.0 C2459.3,385.0 2465.0,384.7 2468.0,386.0 C2471.0,387.3 2470.0,391.6 2474.0,394.0 C2478.0,396.4 2487.2,399.2 2492.0,400.5 C2496.8,401.8 2501.2,400.7 2503.0,401.5 C2504.8,402.3 2504.8,404.8 2503.0,405.5 C2501.2,406.2 2496.2,404.6 2492.0,406.0 C2487.8,407.4 2481.7,411.0 2478.0,414.0 C2474.3,417.0 2473.0,422.3 2470.0,424.0 C2467.0,425.7 2463.0,425.7 2460.0,424.0 C2457.0,422.3 2454.7,416.0 2452.0,414.0 C2449.3,412.0 2444.7,415.7 2444.0,412.0 C2443.3,408.3 2446.0,396.3 2448.0,392.0 Z" fill="#fce4cc" stroke="#1f3864" stroke-width="2.6"/>
<ellipse cx="2463.5" cy="405.0" rx="7.2" ry="4.8" fill="#dae3f3" stroke="#1f3864" stroke-width="2.4"/>
<line x1="2503.0" y1="403.3" x2="2611.0" y2="403.3" stroke="#1f3864" stroke-width="6"/>
<line x1="2503.0" y1="403.3" x2="2611.0" y2="403.3" stroke="#fce4cc" stroke-width="2"/>
<rect x="2502.6" y="397.6" width="28.8" height="11.4" fill="#c8d0dc" rx="2.5" stroke="#1f3864" stroke-width="2.4"/>
<line x1="2504.6" y1="403.3" x2="2529.4" y2="403.3" stroke="#eef1f6" stroke-width="1.6"/>
<rect x="2533.7" y="397.6" width="29.2" height="11.4" fill="#c8d0dc" rx="2.5" stroke="#1f3864" stroke-width="2.4"/>
<line x1="2535.7" y1="403.3" x2="2560.9" y2="403.3" stroke="#eef1f6" stroke-width="1.6"/>
<rect x="2565.1" y="397.6" width="28.6" height="11.4" fill="#c8d0dc" rx="2.5" stroke="#1f3864" stroke-width="2.4"/>
<line x1="2567.1" y1="403.3" x2="2591.7" y2="403.3" stroke="#eef1f6" stroke-width="1.6"/>
<g stroke="#1f3864" fill="none" stroke-linecap="round" stroke-linejoin="round">
<path d="M2609.0,403.0 C2610.2,400.0 2612.5,390.5 2616.0,385.0 C2619.5,379.5 2627.7,372.5 2630.0,370.0" fill="none" stroke="#1f3864" stroke-width="4"/>
<path d="M2611.0,402.0 C2612.8,401.2 2617.8,398.5 2622.0,397.0 C2626.2,395.5 2633.7,393.7 2636.0,393.0" fill="none" stroke="#1f3864" stroke-width="4"/>
<path d="M2609.0,404.0 C2610.5,407.0 2613.8,416.7 2618.0,422.0 C2622.2,427.3 2631.3,433.7 2634.0,436.0" fill="none" stroke="#1f3864" stroke-width="4"/>
</g>
<polygon points="2627.0,372.0 2631.0,363.0 2636.0,373.0" fill="#fce4cc" stroke="#1f3864" stroke-width="2.2" stroke-linejoin="round"/>
<polygon points="2634.0,388.5 2641.5,389.0 2640.5,398.0" fill="#fce4cc" stroke="#1f3864" stroke-width="2.2" stroke-linejoin="round"/>
<polygon points="2631.0,433.0 2639.0,432.0 2633.5,442.0" fill="#fce4cc" stroke="#1f3864" stroke-width="2.2" stroke-linejoin="round"/>
<polyline points="2392.5,512.3 2393.5,511.4 2394.6,510.0 2395.6,509.9 2396.7,512.0 2397.7,511.2 2398.8,512.6 2399.8,511.2 2400.8,508.7 2401.9,508.5 2402.9,511.5 2404.0,509.7 2405.0,511.5 2406.0,512.6 2407.1,512.8 2408.1,511.6 2409.2,510.0 2410.2,511.4 2411.3,509.2 2412.3,512.3 2413.3,508.7 2414.4,506.1 2415.4,512.1 2416.5,511.4 2417.5,505.7 2418.5,508.2 2419.6,510.1 2420.6,510.7 2421.7,511.3 2422.7,508.4 2423.8,510.3 2424.8,508.1 2425.8,508.5 2426.9,505.8 2427.9,509.8 2429.0,513.4 2430.0,506.7 2431.0,507.3 2432.1,508.9 2433.1,511.3 2434.2,511.8 2435.2,512.5 2436.3,510.6 2437.3,512.4 2438.3,511.8 2439.4,508.8 2440.4,507.9 2441.5,510.0 2442.5,512.3 2443.5,512.3 2444.6,510.9 2445.6,512.8 2446.7,511.0 2447.7,510.3 2448.8,510.3 2449.8,511.4 2450.8,511.1 2451.9,508.0 2452.9,509.1 2454.0,508.8 2455.0,512.9 2456.0,511.7 2457.1,512.6 2458.1,511.7 2459.2,511.7 2460.2,512.5 2461.3,513.2 2462.3,514.3 2463.3,512.1 2464.4,512.7 2465.4,514.6 2466.5,511.5 2467.5,511.7 2468.5,512.5 2469.6,514.8 2470.6,512.5 2471.7,514.4 2472.7,514.1 2473.8,511.8 2474.8,509.4 2475.8,509.6 2476.9,511.1 2477.9,514.7 2479.0,511.5 2480.0,512.4 2481.0,508.1 2482.1,506.9 2483.1,508.6 2484.2,513.3 2485.2,513.7 2486.3,513.9 2487.3,514.6 2488.3,513.0 2489.4,511.4 2490.4,513.1 2491.5,514.3 2492.5,514.1 2493.5,510.8 2494.6,512.1 2495.6,511.0 2496.7,513.5 2497.7,512.2 2498.8,511.6 2499.8,516.3 2500.8,516.6 2501.9,514.7 2502.9,514.3 2504.0,511.5 2505.0,515.0 2506.0,512.6 2507.1,514.3 2508.1,515.3 2509.2,514.3 2510.2,514.3 2511.3,513.3 2512.3,511.9 2513.3,511.6 2514.4,510.4 2515.4,512.8 2516.5,514.4 2517.5,511.8 2518.5,516.8 2519.6,511.9 2520.6,508.0 2521.7,510.1 2522.7,509.7 2523.8,508.8 2524.8,508.4 2525.8,511.1 2526.9,511.9 2527.9,508.7 2529.0,511.9 2530.0,507.7 2531.0,513.1 2532.1,512.8 2533.1,508.8 2534.2,507.8 2535.2,508.7 2536.3,508.5 2537.3,508.3 2538.3,507.6 2539.4,506.5 2540.4,505.2 2541.5,504.8 2542.5,503.8 2543.5,506.9 2544.6,507.1 2545.6,509.9 2546.7,511.9 2547.7,509.6 2548.8,513.0 2549.8,510.2 2550.8,507.6 2551.9,516.1 2552.9,514.6 2554.0,514.5 2555.0,515.8 2556.0,512.4 2557.1,513.1 2558.1,511.0 2559.2,511.2 2560.2,512.6 2561.3,509.2 2562.3,514.3 2563.3,510.4 2564.4,514.3 2565.4,513.8 2566.5,514.5 2567.5,513.4 2568.5,511.0 2569.6,516.7 2570.6,513.0 2571.7,512.0 2572.7,510.2 2573.8,513.6 2574.8,512.4 2575.8,513.4 2576.9,515.3 2577.9,513.4 2579.0,511.6 2580.0,511.7 2581.0,509.3 2582.1,512.3 2583.1,512.5 2584.2,512.8 2585.2,510.8 2586.3,511.1 2587.3,511.6 2588.3,512.6 2589.4,509.8 2590.4,513.3 2591.5,512.2 2592.5,510.7 2593.5,509.9 2594.6,511.1 2595.6,504.3 2596.7,511.2 2597.7,509.2 2598.8,508.7 2599.8,508.4 2600.8,511.7 2601.9,511.2 2602.9,514.2 2604.0,509.2 2605.0,514.1 2606.0,514.9 2607.1,514.3 2608.1,514.2 2609.2,513.3 2610.2,518.4 2611.3,515.1 2612.3,512.6 2613.3,512.4 2614.4,513.8 2615.4,511.7 2616.5,513.7 2617.5,514.1 2618.5,514.6 2619.6,512.1 2620.6,509.4 2621.7,506.5 2622.7,510.2 2623.8,513.0 2624.8,509.3 2625.8,512.9 2626.9,510.2 2627.9,510.3 2629.0,513.3 2630.0,513.2 2631.0,508.7 2632.1,507.9 2633.1,506.9 2634.2,509.1 2635.2,511.3 2636.3,514.0 2637.3,510.8 2638.3,508.9 2639.4,511.7 2640.4,508.5 2641.5,509.5 2642.5,508.3 2643.5,510.4 2644.6,509.7 2645.6,507.2 2646.7,505.9 2647.7,508.7 2648.8,507.8 2649.8,508.4 2650.8,506.3 2651.9,508.6 2652.9,508.5 2654.0,508.9 2655.0,510.3 2656.0,508.5 2657.1,507.8 2658.1,509.9 2659.2,507.4 2660.2,509.4 2661.3,512.5 2662.3,511.9" fill="none" stroke="#5a5a62" stroke-width="1.1"/>
<polyline points="2392.5,529.1 2393.5,528.2 2394.6,530.0 2395.6,529.0 2396.7,528.7 2397.7,530.5 2398.8,530.4 2399.8,531.0 2400.8,525.3 2401.9,527.5 2402.9,527.9 2404.0,529.6 2405.0,529.3 2406.0,531.2 2407.1,532.8 2408.1,528.9 2409.2,527.1 2410.2,529.7 2411.3,526.2 2412.3,530.7 2413.3,527.9 2414.4,526.3 2415.4,528.7 2416.5,527.3 2417.5,527.2 2418.5,528.2 2419.6,527.2 2420.6,527.9 2421.7,530.3 2422.7,526.2 2423.8,526.6 2424.8,526.8 2425.8,525.1 2426.9,525.9 2427.9,528.2 2429.0,529.6 2430.0,523.2 2431.0,525.5 2432.1,529.8 2433.1,529.0 2434.2,530.7 2435.2,530.9 2436.3,531.3 2437.3,531.5 2438.3,531.2 2439.4,528.1 2440.4,526.6 2441.5,530.4 2442.5,530.5 2443.5,528.1 2444.6,529.2 2445.6,530.0 2446.7,526.4 2447.7,529.1 2448.8,529.2 2449.8,531.1 2450.8,527.7 2451.9,526.5 2452.9,528.0 2454.0,527.5 2455.0,530.5 2456.0,531.7 2457.1,532.9 2458.1,530.7 2459.2,531.2 2460.2,530.2 2461.3,531.2 2462.3,530.9 2463.3,531.6 2464.4,530.8 2465.4,532.2 2466.5,528.5 2467.5,530.3 2468.5,529.4 2469.6,532.4 2470.6,529.4 2471.7,532.7 2472.7,530.9 2473.8,532.9 2474.8,527.8 2475.8,527.5 2476.9,530.8 2477.9,531.3 2479.0,528.9 2480.0,529.7 2481.0,525.9 2482.1,526.1 2483.1,528.6 2484.2,533.0 2485.2,532.0 2486.3,531.0 2487.3,533.6 2488.3,533.5 2489.4,532.6 2490.4,532.4 2491.5,532.7 2492.5,534.8 2493.5,530.0 2494.6,529.3 2495.6,527.4 2496.7,530.0 2497.7,529.0 2498.8,528.1 2499.8,533.9 2500.8,534.4 2501.9,531.7 2502.9,532.5 2504.0,531.4 2505.0,529.6 2506.0,529.2 2507.1,532.2 2508.1,534.6 2509.2,532.9 2510.2,533.6 2511.3,532.7 2512.3,529.1 2513.3,530.9 2514.4,529.0 2515.4,530.9 2516.5,532.0 2517.5,532.4 2518.5,534.2 2519.6,531.5 2520.6,528.5 2521.7,528.0 2522.7,525.9 2523.8,526.6 2524.8,526.2 2525.8,527.4 2526.9,528.9 2527.9,527.7 2529.0,530.1 2530.0,525.9 2531.0,530.2 2532.1,529.5 2533.1,526.1 2534.2,524.8 2535.2,527.0 2536.3,525.7 2537.3,526.2 2538.3,529.4 2539.4,526.6 2540.4,522.0 2541.5,523.2 2542.5,522.3 2543.5,523.1 2544.6,526.0 2545.6,524.9 2546.7,529.0 2547.7,524.0 2548.8,531.9 2549.8,527.8 2550.8,527.7 2551.9,533.0 2552.9,530.5 2554.0,531.1 2555.0,531.8 2556.0,530.0 2557.1,531.4 2558.1,528.1 2559.2,530.1 2560.2,530.3 2561.3,527.7 2562.3,533.5 2563.3,526.4 2564.4,528.1 2565.4,532.8 2566.5,531.9 2567.5,532.3 2568.5,529.5 2569.6,533.6 2570.6,529.0 2571.7,530.4 2572.7,529.2 2573.8,532.6 2574.8,530.2 2575.8,532.7 2576.9,534.1 2577.9,532.5 2579.0,529.5 2580.0,530.1 2581.0,527.9 2582.1,529.0 2583.1,528.5 2584.2,530.7 2585.2,528.8 2586.3,529.3 2587.3,530.3 2588.3,528.9 2589.4,524.9 2590.4,529.5 2591.5,529.5 2592.5,526.2 2593.5,526.8 2594.6,527.8 2595.6,525.6 2596.7,529.2 2597.7,524.4 2598.8,526.2 2599.8,527.5 2600.8,529.6 2601.9,529.7 2602.9,530.0 2604.0,527.8 2605.0,531.8 2606.0,531.3 2607.1,532.9 2608.1,534.3 2609.2,531.8 2610.2,535.0 2611.3,532.6 2612.3,532.7 2613.3,531.1 2614.4,531.7 2615.4,531.1 2616.5,533.3 2617.5,530.1 2618.5,532.4 2619.6,530.2 2620.6,528.6 2621.7,526.7 2622.7,527.5 2623.8,529.7 2624.8,526.3 2625.8,530.9 2626.9,529.5 2627.9,528.0 2629.0,530.4 2630.0,529.7 2631.0,527.6 2632.1,526.6 2633.1,526.1 2634.2,529.5 2635.2,528.8 2636.3,532.0 2637.3,527.2 2638.3,527.2 2639.4,529.3 2640.4,526.1 2641.5,528.1 2642.5,529.1 2643.5,526.9 2644.6,529.4 2645.6,528.4 2646.7,523.0 2647.7,525.0 2648.8,526.4 2649.8,524.1 2650.8,526.6 2651.9,525.9 2652.9,524.5 2654.0,525.4 2655.0,528.8 2656.0,525.6 2657.1,525.7 2658.1,526.0 2659.2,526.4 2660.2,526.0 2661.3,528.5 2662.3,529.4" fill="none" stroke="#f0c040" stroke-width="1.5"/>
<polyline points="2392.5,548.5 2393.5,547.6 2394.6,546.5 2395.6,548.8 2396.7,547.4 2397.7,547.6 2398.8,547.2 2399.8,547.5 2400.8,544.9 2401.9,544.3 2402.9,544.3 2404.0,544.2 2405.0,547.9 2406.0,547.8 2407.1,548.9 2408.1,546.5 2409.2,547.1 2410.2,548.1 2411.3,544.4 2412.3,546.2 2413.3,545.4 2414.4,544.4 2415.4,547.7 2416.5,546.1 2417.5,544.6 2418.5,546.1 2419.6,544.8 2420.6,546.1 2421.7,547.6 2422.7,545.3 2423.8,544.6 2424.8,545.4 2425.8,542.7 2426.9,543.0 2427.9,544.2 2429.0,548.0 2430.0,542.6 2431.0,543.3 2432.1,546.6 2433.1,548.1 2434.2,546.7 2435.2,548.0 2436.3,548.1 2437.3,548.9 2438.3,548.1 2439.4,543.9 2440.4,544.4 2441.5,545.9 2442.5,546.2 2443.5,547.5 2444.6,546.5 2445.6,549.4 2446.7,547.5 2447.7,546.0 2448.8,546.7 2449.8,548.3 2450.8,544.5 2451.9,544.6 2452.9,544.7 2454.0,544.6 2455.0,548.8 2456.0,549.3 2457.1,547.1 2458.1,550.8 2459.2,549.5 2460.2,548.4 2461.3,551.4 2462.3,551.5 2463.3,549.7 2464.4,549.8 2465.4,549.7 2466.5,547.5 2467.5,548.5 2468.5,548.7 2469.6,548.1 2470.6,548.5 2471.7,550.4 2472.7,550.3 2473.8,549.6 2474.8,547.3 2475.8,545.7 2476.9,548.8 2477.9,550.3 2479.0,547.7 2480.0,548.3 2481.0,544.0 2482.1,543.7 2483.1,545.2 2484.2,548.9 2485.2,547.7 2486.3,549.0 2487.3,551.6 2488.3,548.9 2489.4,550.3 2490.4,550.0 2491.5,552.3 2492.5,552.3 2493.5,545.5 2494.6,545.3 2495.6,545.9 2496.7,548.8 2497.7,547.9 2498.8,547.9 2499.8,551.9 2500.8,552.4 2501.9,549.4 2502.9,552.0 2504.0,545.7 2505.0,549.8 2506.0,547.0 2507.1,552.2 2508.1,550.6 2509.2,551.5 2510.2,551.6 2511.3,549.2 2512.3,545.6 2513.3,547.5 2514.4,544.3 2515.4,547.7 2516.5,548.9 2517.5,550.2 2518.5,550.9 2519.6,550.5 2520.6,544.1 2521.7,547.0 2522.7,544.9 2523.8,545.8 2524.8,547.3 2525.8,546.8 2526.9,548.8 2527.9,543.9 2529.0,546.5 2530.0,546.3 2531.0,545.2 2532.1,547.3 2533.1,545.3 2534.2,544.7 2535.2,544.0 2536.3,543.8 2537.3,544.4 2538.3,545.8 2539.4,543.7 2540.4,539.8 2541.5,543.5 2542.5,541.7 2543.5,541.2 2544.6,545.0 2545.6,545.2 2546.7,546.9 2547.7,541.4 2548.8,547.9 2549.8,546.0 2550.8,543.5 2551.9,550.6 2552.9,548.4 2554.0,548.2 2555.0,549.9 2556.0,550.5 2557.1,550.6 2558.1,547.0 2559.2,548.0 2560.2,547.4 2561.3,547.2 2562.3,550.8 2563.3,546.7 2564.4,549.7 2565.4,550.1 2566.5,550.2 2567.5,550.6 2568.5,548.3 2569.6,553.1 2570.6,550.5 2571.7,548.7 2572.7,548.5 2573.8,550.8 2574.8,547.1 2575.8,549.1 2576.9,551.8 2577.9,551.0 2579.0,546.8 2580.0,547.6 2581.0,547.3 2582.1,549.2 2583.1,549.3 2584.2,548.4 2585.2,547.7 2586.3,546.7 2587.3,546.8 2588.3,548.8 2589.4,545.6 2590.4,548.4 2591.5,547.5 2592.5,543.1 2593.5,547.0 2594.6,548.5 2595.6,539.0 2596.7,543.4 2597.7,542.6 2598.8,545.8 2599.8,545.8 2600.8,547.9 2601.9,546.7 2602.9,548.2 2604.0,547.2 2605.0,547.1 2606.0,550.7 2607.1,550.6 2608.1,552.2 2609.2,548.8 2610.2,554.4 2611.3,550.8 2612.3,547.6 2613.3,547.4 2614.4,547.8 2615.4,549.7 2616.5,548.5 2617.5,549.0 2618.5,550.0 2619.6,548.3 2620.6,543.5 2621.7,543.8 2622.7,545.8 2623.8,546.7 2624.8,542.4 2625.8,548.2 2626.9,547.5 2627.9,545.4 2629.0,549.7 2630.0,546.7 2631.0,543.4 2632.1,544.7 2633.1,541.8 2634.2,548.3 2635.2,547.3 2636.3,547.8 2637.3,547.7 2638.3,544.4 2639.4,545.0 2640.4,543.4 2641.5,544.6 2642.5,543.6 2643.5,545.5 2644.6,547.7 2645.6,545.5 2646.7,541.0 2647.7,544.6 2648.8,545.9 2649.8,543.5 2650.8,543.8 2651.9,546.6 2652.9,543.4 2654.0,546.1 2655.0,548.1 2656.0,544.7 2657.1,544.9 2658.1,544.9 2659.2,543.6 2660.2,546.3 2661.3,547.6 2662.3,546.6" fill="none" stroke="#80e0a0" stroke-width="1.5"/>
<polyline points="2392.5,566.7 2393.5,564.4 2394.6,563.5 2395.6,563.8 2396.7,566.2 2397.7,566.6 2398.8,565.8 2399.8,566.0 2400.8,560.2 2401.9,563.4 2402.9,563.6 2404.0,562.7 2405.0,565.3 2406.0,567.3 2407.1,567.5 2408.1,563.8 2409.2,563.9 2410.2,565.3 2411.3,563.7 2412.3,566.3 2413.3,564.9 2414.4,562.9 2415.4,565.3 2416.5,561.3 2417.5,560.3 2418.5,563.9 2419.6,562.2 2420.6,564.4 2421.7,565.6 2422.7,563.8 2423.8,561.2 2424.8,560.9 2425.8,561.5 2426.9,560.3 2427.9,563.1 2429.0,566.4 2430.0,560.7 2431.0,564.5 2432.1,565.8 2433.1,563.4 2434.2,563.8 2435.2,566.5 2436.3,566.8 2437.3,568.4 2438.3,567.7 2439.4,564.6 2440.4,561.7 2441.5,565.7 2442.5,567.0 2443.5,564.8 2444.6,566.4 2445.6,565.5 2446.7,565.4 2447.7,565.7 2448.8,568.9 2449.8,565.1 2450.8,562.7 2451.9,563.2 2452.9,563.3 2454.0,562.6 2455.0,564.3 2456.0,567.1 2457.1,565.5 2458.1,568.6 2459.2,565.3 2460.2,567.2 2461.3,568.7 2462.3,569.0 2463.3,568.4 2464.4,568.8 2465.4,568.7 2466.5,563.1 2467.5,564.6 2468.5,566.4 2469.6,567.7 2470.6,567.0 2471.7,567.0 2472.7,566.6 2473.8,566.0 2474.8,565.2 2475.8,563.0 2476.9,567.5 2477.9,568.3 2479.0,564.6 2480.0,565.1 2481.0,559.9 2482.1,559.7 2483.1,562.2 2484.2,566.2 2485.2,568.8 2486.3,567.4 2487.3,569.8 2488.3,567.5 2489.4,566.5 2490.4,566.2 2491.5,567.9 2492.5,571.0 2493.5,564.7 2494.6,564.6 2495.6,564.2 2496.7,567.0 2497.7,566.2 2498.8,567.4 2499.8,570.0 2500.8,569.8 2501.9,567.9 2502.9,567.9 2504.0,566.3 2505.0,567.4 2506.0,565.0 2507.1,569.1 2508.1,566.9 2509.2,568.9 2510.2,568.8 2511.3,566.9 2512.3,565.6 2513.3,565.5 2514.4,564.3 2515.4,566.7 2516.5,566.8 2517.5,568.9 2518.5,570.9 2519.6,569.4 2520.6,562.7 2521.7,562.8 2522.7,562.6 2523.8,563.0 2524.8,563.0 2525.8,563.9 2526.9,566.0 2527.9,562.5 2529.0,565.8 2530.0,561.1 2531.0,565.2 2532.1,566.1 2533.1,562.2 2534.2,565.5 2535.2,562.8 2536.3,562.0 2537.3,560.7 2538.3,562.7 2539.4,561.8 2540.4,559.2 2541.5,559.7 2542.5,559.8 2543.5,558.4 2544.6,562.6 2545.6,561.5 2546.7,564.8 2547.7,561.9 2548.8,564.1 2549.8,564.7 2550.8,563.2 2551.9,567.0 2552.9,566.3 2554.0,566.3 2555.0,568.7 2556.0,567.7 2557.1,566.8 2558.1,565.1 2559.2,564.3 2560.2,563.0 2561.3,564.3 2562.3,567.9 2563.3,563.1 2564.4,568.0 2565.4,568.2 2566.5,568.0 2567.5,569.4 2568.5,565.6 2569.6,569.9 2570.6,565.7 2571.7,566.4 2572.7,564.6 2573.8,568.5 2574.8,563.3 2575.8,569.4 2576.9,569.3 2577.9,567.8 2579.0,565.8 2580.0,565.8 2581.0,565.7 2582.1,567.2 2583.1,567.3 2584.2,566.6 2585.2,565.7 2586.3,564.6 2587.3,564.4 2588.3,564.5 2589.4,563.4 2590.4,565.6 2591.5,566.8 2592.5,565.0 2593.5,564.6 2594.6,566.1 2595.6,560.6 2596.7,563.3 2597.7,563.6 2598.8,561.3 2599.8,563.6 2600.8,563.5 2601.9,565.3 2602.9,566.8 2604.0,563.5 2605.0,567.0 2606.0,567.5 2607.1,567.9 2608.1,569.3 2609.2,569.0 2610.2,570.6 2611.3,569.6 2612.3,566.0 2613.3,567.7 2614.4,567.5 2615.4,567.9 2616.5,567.3 2617.5,567.0 2618.5,568.1 2619.6,565.0 2620.6,565.2 2621.7,561.0 2622.7,564.0 2623.8,566.0 2624.8,562.9 2625.8,565.2 2626.9,565.0 2627.9,563.9 2629.0,567.2 2630.0,566.7 2631.0,562.0 2632.1,562.4 2633.1,560.5 2634.2,563.4 2635.2,565.1 2636.3,567.1 2637.3,567.2 2638.3,562.7 2639.4,564.5 2640.4,562.3 2641.5,564.9 2642.5,562.5 2643.5,561.2 2644.6,565.1 2645.6,562.5 2646.7,561.2 2647.7,561.4 2648.8,562.6 2649.8,561.7 2650.8,560.9 2651.9,563.9 2652.9,563.0 2654.0,561.9 2655.0,564.5 2656.0,560.5 2657.1,561.8 2658.1,564.0 2659.2,564.4 2660.2,562.7 2661.3,564.1 2662.3,564.9" fill="none" stroke="#50c8c8" stroke-width="1.5"/>
<polyline points="2392.5,587.9 2393.5,584.3 2394.6,584.0 2395.6,585.0 2396.7,585.7 2397.7,587.9 2398.8,586.6 2399.8,586.5 2400.8,583.1 2401.9,584.1 2402.9,584.6 2404.0,584.3 2405.0,584.3 2406.0,588.5 2407.1,588.6 2408.1,583.3 2409.2,583.5 2410.2,585.7 2411.3,582.2 2412.3,584.8 2413.3,583.9 2414.4,582.9 2415.4,585.0 2416.5,583.1 2417.5,582.6 2418.5,584.4 2419.6,585.3 2420.6,586.3 2421.7,586.5 2422.7,581.4 2423.8,583.6 2424.8,583.4 2425.8,583.5 2426.9,581.0 2427.9,584.1 2429.0,585.8 2430.0,580.5 2431.0,581.7 2432.1,583.6 2433.1,583.5 2434.2,584.3 2435.2,586.7 2436.3,590.3 2437.3,585.8 2438.3,587.9 2439.4,585.2 2440.4,583.0 2441.5,585.7 2442.5,587.3 2443.5,585.8 2444.6,585.8 2445.6,586.9 2446.7,584.8 2447.7,585.5 2448.8,586.6 2449.8,584.8 2450.8,585.8 2451.9,584.8 2452.9,583.6 2454.0,582.4 2455.0,584.7 2456.0,587.5 2457.1,587.1 2458.1,586.9 2459.2,588.0 2460.2,585.6 2461.3,589.3 2462.3,587.3 2463.3,587.9 2464.4,587.7 2465.4,586.5 2466.5,584.1 2467.5,586.0 2468.5,587.1 2469.6,588.4 2470.6,586.0 2471.7,587.5 2472.7,587.7 2473.8,588.3 2474.8,585.4 2475.8,582.4 2476.9,585.7 2477.9,588.4 2479.0,585.1 2480.0,583.9 2481.0,580.9 2482.1,581.5 2483.1,581.6 2484.2,588.9 2485.2,587.1 2486.3,587.4 2487.3,589.8 2488.3,587.4 2489.4,587.6 2490.4,588.6 2491.5,589.9 2492.5,590.0 2493.5,586.3 2494.6,585.6 2495.6,583.4 2496.7,587.7 2497.7,587.1 2498.8,584.9 2499.8,589.9 2500.8,589.8 2501.9,588.5 2502.9,589.3 2504.0,587.3 2505.0,589.0 2506.0,586.8 2507.1,588.7 2508.1,588.5 2509.2,587.2 2510.2,587.7 2511.3,587.2 2512.3,586.1 2513.3,586.7 2514.4,586.0 2515.4,586.9 2516.5,586.7 2517.5,587.7 2518.5,592.0 2519.6,589.2 2520.6,584.7 2521.7,585.4 2522.7,581.3 2523.8,583.1 2524.8,583.4 2525.8,583.4 2526.9,585.8 2527.9,584.0 2529.0,585.6 2530.0,583.0 2531.0,585.0 2532.1,586.1 2533.1,583.7 2534.2,582.3 2535.2,582.0 2536.3,581.5 2537.3,580.8 2538.3,583.8 2539.4,582.0 2540.4,579.7 2541.5,581.8 2542.5,578.1 2543.5,580.1 2544.6,583.6 2545.6,581.9 2546.7,585.6 2547.7,581.6 2548.8,585.5 2549.8,585.1 2550.8,582.0 2551.9,589.3 2552.9,589.1 2554.0,586.9 2555.0,589.8 2556.0,586.3 2557.1,587.9 2558.1,587.7 2559.2,585.7 2560.2,587.1 2561.3,585.6 2562.3,590.2 2563.3,583.0 2564.4,589.0 2565.4,589.0 2566.5,589.7 2567.5,588.7 2568.5,588.2 2569.6,590.9 2570.6,584.9 2571.7,586.3 2572.7,584.5 2573.8,588.5 2574.8,585.0 2575.8,588.8 2576.9,589.7 2577.9,588.5 2579.0,585.2 2580.0,586.2 2581.0,586.8 2582.1,586.5 2583.1,587.0 2584.2,587.9 2585.2,584.5 2586.3,586.7 2587.3,585.6 2588.3,586.9 2589.4,583.3 2590.4,587.5 2591.5,586.0 2592.5,583.9 2593.5,583.9 2594.6,583.9 2595.6,580.7 2596.7,583.3 2597.7,579.8 2598.8,584.2 2599.8,583.3 2600.8,586.1 2601.9,585.8 2602.9,586.0 2604.0,585.0 2605.0,587.8 2606.0,587.2 2607.1,586.2 2608.1,591.4 2609.2,587.6 2610.2,591.1 2611.3,588.4 2612.3,588.0 2613.3,585.6 2614.4,586.6 2615.4,588.1 2616.5,588.3 2617.5,588.8 2618.5,586.8 2619.6,585.5 2620.6,582.4 2621.7,583.4 2622.7,584.0 2623.8,585.7 2624.8,581.9 2625.8,586.1 2626.9,585.2 2627.9,583.5 2629.0,587.4 2630.0,587.0 2631.0,583.8 2632.1,583.6 2633.1,581.0 2634.2,584.4 2635.2,584.4 2636.3,588.9 2637.3,584.9 2638.3,580.6 2639.4,584.0 2640.4,581.5 2641.5,584.6 2642.5,582.9 2643.5,583.0 2644.6,585.1 2645.6,584.6 2646.7,582.1 2647.7,582.9 2648.8,582.6 2649.8,581.9 2650.8,582.3 2651.9,584.4 2652.9,583.0 2654.0,582.5 2655.0,585.7 2656.0,582.7 2657.1,582.5 2658.1,582.7 2659.2,583.1 2660.2,583.8 2661.3,584.0 2662.3,585.6" fill="none" stroke="#b0a0e8" stroke-width="1.5"/>
<polyline points="2392.5,605.7 2393.5,603.3 2394.6,603.8 2395.6,602.5 2396.7,604.9 2397.7,607.2 2398.8,605.3 2399.8,606.2 2400.8,600.1 2401.9,602.8 2402.9,603.5 2404.0,603.6 2405.0,603.7 2406.0,606.8 2407.1,605.9 2408.1,603.9 2409.2,601.2 2410.2,604.7 2411.3,602.9 2412.3,604.5 2413.3,605.3 2414.4,601.2 2415.4,606.6 2416.5,601.9 2417.5,600.4 2418.5,602.2 2419.6,606.7 2420.6,603.0 2421.7,604.6 2422.7,601.9 2423.8,603.5 2424.8,600.0 2425.8,603.7 2426.9,598.6 2427.9,604.1 2429.0,604.7 2430.0,598.5 2431.0,601.8 2432.1,601.9 2433.1,604.2 2434.2,603.5 2435.2,604.9 2436.3,605.2 2437.3,606.5 2438.3,608.2 2439.4,602.8 2440.4,602.5 2441.5,604.0 2442.5,606.8 2443.5,605.2 2444.6,605.0 2445.6,607.1 2446.7,604.2 2447.7,604.8 2448.8,603.6 2449.8,604.8 2450.8,605.4 2451.9,601.4 2452.9,602.8 2454.0,602.8 2455.0,605.1 2456.0,607.3 2457.1,607.0 2458.1,606.2 2459.2,606.1 2460.2,604.9 2461.3,605.4 2462.3,607.0 2463.3,606.2 2464.4,607.5 2465.4,606.6 2466.5,602.7 2467.5,606.1 2468.5,606.2 2469.6,607.0 2470.6,607.7 2471.7,607.3 2472.7,606.9 2473.8,606.9 2474.8,601.6 2475.8,602.4 2476.9,605.9 2477.9,608.8 2479.0,604.1 2480.0,605.3 2481.0,601.3 2482.1,602.4 2483.1,601.7 2484.2,607.1 2485.2,606.8 2486.3,605.3 2487.3,605.1 2488.3,607.1 2489.4,607.5 2490.4,606.8 2491.5,610.6 2492.5,607.5 2493.5,604.7 2494.6,605.2 2495.6,601.8 2496.7,606.5 2497.7,605.9 2498.8,605.5 2499.8,610.3 2500.8,609.7 2501.9,606.4 2502.9,609.6 2504.0,605.8 2505.0,607.3 2506.0,603.4 2507.1,608.8 2508.1,606.5 2509.2,608.1 2510.2,608.3 2511.3,607.8 2512.3,606.5 2513.3,604.7 2514.4,605.7 2515.4,605.9 2516.5,608.0 2517.5,607.9 2518.5,609.4 2519.6,608.0 2520.6,601.2 2521.7,604.4 2522.7,602.5 2523.8,601.8 2524.8,601.2 2525.8,602.1 2526.9,607.3 2527.9,601.9 2529.0,603.8 2530.0,602.5 2531.0,603.3 2532.1,603.8 2533.1,602.4 2534.2,601.0 2535.2,602.0 2536.3,601.5 2537.3,600.5 2538.3,601.3 2539.4,601.2 2540.4,597.1 2541.5,599.5 2542.5,598.8 2543.5,599.3 2544.6,603.1 2545.6,601.7 2546.7,604.2 2547.7,600.1 2548.8,603.5 2549.8,603.9 2550.8,602.1 2551.9,607.0 2552.9,607.6 2554.0,606.7 2555.0,609.6 2556.0,605.1 2557.1,606.2 2558.1,604.9 2559.2,603.1 2560.2,604.3 2561.3,601.3 2562.3,607.9 2563.3,602.4 2564.4,605.9 2565.4,607.8 2566.5,606.6 2567.5,608.7 2568.5,606.2 2569.6,610.7 2570.6,605.2 2571.7,605.3 2572.7,602.8 2573.8,605.0 2574.8,605.2 2575.8,607.3 2576.9,610.1 2577.9,608.6 2579.0,605.0 2580.0,604.8 2581.0,603.3 2582.1,606.2 2583.1,605.6 2584.2,606.6 2585.2,605.0 2586.3,603.1 2587.3,606.5 2588.3,605.1 2589.4,603.6 2590.4,606.6 2591.5,604.9 2592.5,602.6 2593.5,603.7 2594.6,604.0 2595.6,599.8 2596.7,603.6 2597.7,600.4 2598.8,603.8 2599.8,603.5 2600.8,604.6 2601.9,603.9 2602.9,605.5 2604.0,604.4 2605.0,605.8 2606.0,607.9 2607.1,606.4 2608.1,610.8 2609.2,606.3 2610.2,611.3 2611.3,611.2 2612.3,607.6 2613.3,606.8 2614.4,607.3 2615.4,606.0 2616.5,607.5 2617.5,607.6 2618.5,606.8 2619.6,604.8 2620.6,603.3 2621.7,601.1 2622.7,604.9 2623.8,606.9 2624.8,602.1 2625.8,605.7 2626.9,606.2 2627.9,600.9 2629.0,605.8 2630.0,605.1 2631.0,602.7 2632.1,603.0 2633.1,602.1 2634.2,603.4 2635.2,605.2 2636.3,606.9 2637.3,604.3 2638.3,603.1 2639.4,605.3 2640.4,602.0 2641.5,603.9 2642.5,603.1 2643.5,600.9 2644.6,603.2 2645.6,603.0 2646.7,598.5 2647.7,602.8 2648.8,601.1 2649.8,599.9 2650.8,600.0 2651.9,605.2 2652.9,601.1 2654.0,602.9 2655.0,602.1 2656.0,601.6 2657.1,600.0 2658.1,600.8 2659.2,602.8 2660.2,601.4 2661.3,603.6 2662.3,604.6" fill="none" stroke="#f0e060" stroke-width="1.5"/>
<polyline points="2392.5,623.6 2393.5,620.9 2394.6,624.6 2395.6,624.2 2396.7,624.8 2397.7,624.4 2398.8,625.3 2399.8,623.1 2400.8,621.2 2401.9,623.0 2402.9,621.0 2404.0,622.3 2405.0,622.3 2406.0,624.1 2407.1,625.9 2408.1,621.7 2409.2,621.8 2410.2,623.4 2411.3,621.2 2412.3,625.1 2413.3,623.8 2414.4,620.9 2415.4,624.2 2416.5,620.9 2417.5,620.0 2418.5,621.6 2419.6,622.3 2420.6,623.3 2421.7,624.7 2422.7,622.8 2423.8,620.7 2424.8,621.0 2425.8,619.9 2426.9,618.9 2427.9,621.1 2429.0,624.3 2430.0,619.0 2431.0,620.7 2432.1,622.8 2433.1,624.2 2434.2,624.4 2435.2,624.9 2436.3,626.1 2437.3,626.3 2438.3,626.8 2439.4,623.6 2440.4,621.9 2441.5,623.2 2442.5,626.3 2443.5,623.2 2444.6,623.4 2445.6,625.7 2446.7,622.5 2447.7,623.0 2448.8,623.5 2449.8,623.6 2450.8,621.8 2451.9,620.6 2452.9,621.7 2454.0,621.5 2455.0,622.7 2456.0,625.1 2457.1,625.1 2458.1,625.8 2459.2,626.4 2460.2,625.8 2461.3,625.9 2462.3,626.0 2463.3,625.3 2464.4,625.7 2465.4,626.6 2466.5,621.9 2467.5,625.2 2468.5,624.0 2469.6,626.6 2470.6,625.0 2471.7,626.3 2472.7,627.5 2473.8,625.1 2474.8,622.6 2475.8,622.1 2476.9,624.1 2477.9,627.8 2479.0,623.3 2480.0,625.1 2481.0,620.7 2482.1,619.9 2483.1,621.6 2484.2,625.1 2485.2,625.1 2486.3,625.5 2487.3,627.8 2488.3,627.0 2489.4,625.2 2490.4,626.1 2491.5,628.3 2492.5,628.0 2493.5,623.7 2494.6,624.5 2495.6,623.2 2496.7,624.2 2497.7,624.7 2498.8,624.4 2499.8,627.4 2500.8,628.8 2501.9,625.0 2502.9,627.7 2504.0,623.3 2505.0,625.3 2506.0,623.8 2507.1,628.3 2508.1,628.3 2509.2,626.4 2510.2,626.2 2511.3,626.1 2512.3,624.4 2513.3,624.4 2514.4,623.9 2515.4,624.6 2516.5,625.7 2517.5,626.4 2518.5,626.8 2519.6,625.7 2520.6,623.1 2521.7,623.9 2522.7,621.1 2523.8,623.3 2524.8,622.2 2525.8,622.1 2526.9,626.5 2527.9,620.3 2529.0,623.8 2530.0,621.3 2531.0,623.0 2532.1,624.6 2533.1,620.7 2534.2,620.7 2535.2,618.6 2536.3,620.7 2537.3,619.6 2538.3,622.2 2539.4,619.8 2540.4,616.3 2541.5,619.6 2542.5,618.4 2543.5,619.0 2544.6,619.9 2545.6,622.2 2546.7,624.2 2547.7,618.9 2548.8,625.5 2549.8,622.8 2550.8,622.4 2551.9,627.9 2552.9,624.7 2554.0,625.1 2555.0,626.5 2556.0,624.5 2557.1,625.5 2558.1,625.1 2559.2,623.3 2560.2,624.7 2561.3,622.7 2562.3,628.5 2563.3,623.2 2564.4,625.0 2565.4,627.1 2566.5,627.1 2567.5,626.0 2568.5,625.9 2569.6,628.6 2570.6,624.3 2571.7,627.6 2572.7,622.8 2573.8,627.6 2574.8,623.5 2575.8,627.4 2576.9,627.7 2577.9,627.4 2579.0,624.6 2580.0,623.5 2581.0,622.5 2582.1,624.8 2583.1,626.0 2584.2,626.3 2585.2,625.5 2586.3,625.4 2587.3,622.3 2588.3,624.3 2589.4,622.1 2590.4,625.2 2591.5,623.0 2592.5,623.5 2593.5,621.4 2594.6,624.0 2595.6,618.2 2596.7,622.5 2597.7,618.8 2598.8,620.1 2599.8,622.7 2600.8,624.3 2601.9,624.2 2602.9,625.5 2604.0,623.3 2605.0,624.4 2606.0,626.7 2607.1,626.7 2608.1,629.1 2609.2,626.2 2610.2,627.8 2611.3,626.3 2612.3,626.0 2613.3,625.7 2614.4,625.7 2615.4,626.0 2616.5,627.3 2617.5,624.3 2618.5,626.2 2619.6,622.9 2620.6,622.5 2621.7,621.1 2622.7,623.2 2623.8,624.6 2624.8,620.1 2625.8,626.1 2626.9,621.4 2627.9,620.5 2629.0,625.6 2630.0,624.0 2631.0,620.9 2632.1,620.1 2633.1,621.0 2634.2,624.9 2635.2,624.8 2636.3,627.5 2637.3,622.8 2638.3,620.4 2639.4,621.6 2640.4,620.0 2641.5,621.5 2642.5,621.2 2643.5,621.5 2644.6,621.8 2645.6,622.7 2646.7,618.5 2647.7,620.4 2648.8,622.2 2649.8,620.6 2650.8,621.7 2651.9,622.2 2652.9,619.1 2654.0,621.5 2655.0,623.1 2656.0,620.5 2657.1,619.1 2658.1,620.8 2659.2,622.5 2660.2,622.4 2661.3,621.4 2662.3,622.9" fill="none" stroke="#bbbbbb" stroke-width="1.1"/>
<text x="0.0" y="0.0" font-size="27.5" fill="#000" textLength="143.0" lengthAdjust="spacingAndGlyphs" transform="translate(2684.5,360.5) rotate(-13.4)">Morphology</text>
<text x="0.0" y="0.0" font-size="27.5" fill="#000" textLength="181.0" lengthAdjust="spacingAndGlyphs" transform="translate(2694.5,513) rotate(-40.7)">Spatiotemporal</text>
<text x="0.0" y="0.0" font-size="27.5" fill="#000" textLength="110.0" lengthAdjust="spacingAndGlyphs" transform="translate(2716,536.5) rotate(-40.7)">dynamics</text>
<text x="2815.8" y="489.3" font-size="34.6" fill="#000" textLength="497.4" lengthAdjust="spacingAndGlyphs">Neuroscience theoretical tools</text>
<rect x="2783.6" y="509.7" width="542.1" height="140.7" fill="#b4c7e7" rx="30" stroke="#2f5597" stroke-width="3.4"/>
<text x="2801.4" y="567.5" font-size="30.5" fill="#000" textLength="480.5" lengthAdjust="spacingAndGlyphs">Neural coding, neural Information</text>
<text x="2801.4" y="607.2" font-size="30.5" fill="#000" textLength="446.8" lengthAdjust="spacingAndGlyphs">processing, neural dynamics,...</text>
<path d="M2824.7,200.4 C2823.8,195.5 2827.2,188.3 2829.1,182.9 C2831.0,177.6 2833.9,174.7 2836.4,168.4 C2838.8,162.1 2840.0,152.9 2843.6,145.1 C2847.3,137.4 2853.3,128.1 2858.2,121.8 C2863.0,115.5 2866.4,113.1 2872.7,107.3 C2879.0,101.5 2886.8,94.0 2896.0,86.9 C2905.2,79.9 2917.8,71.4 2928.0,65.1 C2938.2,58.8 2946.9,53.5 2957.1,49.1 C2967.3,44.7 2978.5,41.5 2989.1,38.9 C2999.8,36.3 3010.9,34.9 3021.1,33.7 C3031.3,32.5 3041.5,31.9 3050.2,31.6 C3058.9,31.4 3066.2,32.6 3073.5,32.2 C3080.8,31.9 3087.1,29.8 3093.9,29.6 C3100.6,29.4 3107.0,29.8 3114.2,31.1 C3121.5,32.3 3129.3,34.6 3137.5,36.9 C3145.7,39.2 3155.0,41.5 3163.7,44.7 C3172.4,48.0 3181.1,51.5 3189.9,56.4 C3198.6,61.2 3208.3,67.5 3216.1,73.8 C3223.8,80.1 3230.1,86.9 3236.4,94.2 C3242.7,101.5 3248.6,109.5 3253.9,117.5 C3259.2,125.5 3264.1,134.2 3268.4,142.2 C3272.8,150.2 3275.7,157.2 3280.1,165.5 C3284.4,173.7 3290.7,182.4 3294.6,191.7 C3298.5,200.9 3301.2,210.6 3303.3,220.8 C3305.5,230.9 3307.1,243.1 3307.7,252.8 C3308.3,262.5 3308.0,269.7 3306.8,278.9 C3305.6,288.2 3303.4,300.3 3300.4,308.0 C3297.4,315.8 3294.6,320.4 3288.8,325.5 C3283.0,330.6 3273.3,335.0 3265.5,338.6 C3257.8,342.2 3247.3,342.5 3242.2,347.3 C3237.2,352.2 3239.3,361.1 3235.0,367.7 C3230.6,374.2 3223.6,381.5 3216.1,386.6 C3208.5,391.7 3199.1,395.4 3189.9,398.2 C3180.7,401.0 3171.4,403.5 3160.8,403.5 C3150.1,403.5 3130.7,396.7 3125.9,398.2 C3121.0,399.8 3129.7,407.9 3131.7,412.8 C3133.6,417.6 3137.0,423.4 3137.5,427.3 C3138.0,431.3 3136.8,434.8 3134.6,436.6 C3132.4,438.5 3127.6,439.2 3124.4,438.4 C3121.3,437.6 3118.8,436.4 3115.7,431.7 C3112.5,426.9 3108.7,416.9 3105.5,409.9 C3102.3,402.8 3099.7,397.3 3096.8,389.5 C3093.9,381.7 3090.6,371.1 3088.0,363.3 C3085.5,355.6 3083.1,348.0 3081.6,343.0 C3080.2,337.9 3082.6,333.7 3079.3,332.8 C3076.0,331.8 3068.6,335.5 3061.9,337.1 C3055.1,338.7 3046.3,341.2 3038.6,342.4 C3030.8,343.6 3023.1,345.2 3015.3,344.4 C3007.5,343.6 2999.8,341.1 2992.0,337.7 C2984.3,334.3 2976.5,329.0 2968.8,324.0 C2961.0,319.1 2951.5,313.1 2945.5,308.0 C2939.4,303.0 2935.5,298.6 2932.4,293.5 C2929.2,288.4 2928.0,281.0 2926.6,277.5 C2925.1,274.0 2927.3,273.4 2923.7,272.5 C2920.0,271.7 2911.3,273.2 2904.7,272.5 C2898.2,271.9 2890.7,271.3 2884.4,268.8 C2878.1,266.2 2872.3,261.7 2866.9,257.1 C2861.6,252.5 2856.5,246.7 2852.4,241.1 C2848.2,235.5 2845.1,228.5 2842.2,223.7 C2839.3,218.8 2837.8,215.9 2834.9,212.0 C2832.0,208.1 2825.7,205.2 2824.7,200.4 Z" fill="#f8c9aa" stroke="#111" stroke-width="2.6" stroke-linejoin="round"/>
<g fill="none" stroke="#111" stroke-width="2.2" stroke-linecap="round" stroke-linejoin="round">
<path d="M3079.9,333.6 C3081.7,333.4 3084.3,331.6 3091.0,331.9 C3097.6,332.2 3110.3,334.6 3120.0,335.7 C3129.7,336.8 3139.9,339.3 3149.1,338.6 C3158.4,337.9 3165.6,331.6 3175.3,331.3 C3185.0,331.1 3196.2,334.5 3207.3,337.1 C3218.5,339.8 3236.4,345.6 3242.2,347.3" fill="none"/>
<path d="M3083.7,334.2 C3084.9,337.6 3087.8,348.8 3091.0,354.6 C3094.1,360.4 3098.2,363.3 3102.6,369.1 C3107.0,375.0 3113.3,384.7 3117.1,389.5 C3121.0,394.4 3124.4,396.8 3125.9,398.2" fill="none"/>
<path d="M2923.7,272.5 C2923.4,269.7 2920.0,261.4 2922.2,255.7 C2924.4,249.9 2930.0,244.5 2936.7,238.2 C2943.5,231.9 2955.2,223.7 2962.9,217.8 C2970.7,212.0 2976.5,206.6 2983.3,203.3 C2990.1,200.0 2997.4,198.1 3003.7,198.1 C3010.0,198.1 3016.3,201.9 3021.1,203.3 C3026.0,204.7 3028.4,207.7 3032.8,206.2 C3037.1,204.8 3041.5,198.0 3047.3,194.6 C3053.1,191.2 3060.4,188.4 3067.7,185.8 C3074.9,183.3 3082.7,180.2 3091.0,179.4 C3099.2,178.7 3109.4,180.2 3117.1,181.5 C3124.9,182.8 3132.9,184.1 3137.5,187.3 C3142.1,190.4 3143.6,198.2 3144.8,200.4" fill="none"/>
<path d="M3028.4,217.3 C3029.1,215.4 3032.0,208.1 3032.8,206.2" fill="none"/>
<path d="M3015.3,235.3 C3015.1,238.2 3013.6,248.4 3013.8,252.8 C3014.1,257.1 3011.2,260.5 3016.8,261.5 C3022.3,262.5 3036.4,259.8 3047.3,258.6 C3058.2,257.4 3070.1,254.9 3082.2,254.2 C3094.3,253.5 3106.5,255.2 3120.0,254.2 C3133.6,253.2 3151.8,251.3 3163.7,248.4 C3175.6,245.5 3186.7,238.7 3191.3,236.8" fill="none"/>
<path d="M3016.8,261.5 C3013.6,262.9 3004.9,268.0 2997.8,270.2 C2990.8,272.4 2980.9,275.3 2974.6,274.6 C2968.3,273.9 2964.4,268.4 2960.0,265.9 C2955.7,263.3 2950.3,260.3 2948.4,259.2" fill="none"/>
<path d="M2974.6,274.6 C2973.4,277.2 2969.4,285.3 2967.3,290.6 C2965.2,295.9 2962.9,303.9 2962.1,306.6" fill="none"/>
<path d="M3009.5,265.9 C3009.6,267.3 3009.2,272.3 3010.1,274.6 C3010.9,276.9 3013.7,278.7 3014.4,279.5" fill="none"/>
<path d="M3093.3,212.6 C3091.4,215.4 3084.3,222.6 3082.2,229.5 C3080.1,236.4 3081.0,250.1 3080.8,254.2" fill="none"/>
<path d="M3018.2,315.9 C3019.7,314.8 3021.6,310.7 3026.9,309.5 C3032.3,308.3 3046.3,308.8 3050.2,308.6" fill="none"/>
<path d="M3231.2,292.6 C3229.2,294.5 3223.4,301.1 3219.0,303.7 C3214.5,306.2 3209.8,307.2 3204.4,308.0 C3199.1,308.9 3189.9,308.5 3187.0,308.6" fill="none"/>
<path d="M3242.2,241.1 C3240.3,243.1 3234.5,247.4 3230.6,252.8 C3226.7,258.1 3224.1,269.1 3219.0,273.1 C3213.9,277.2 3203.2,276.3 3200.1,276.9" fill="none"/>
<path d="M3242.2,241.1 C3244.2,242.6 3251.0,246.7 3253.9,249.9 C3256.8,253.0 3256.8,259.0 3259.7,260.0 C3262.6,261.1 3267.5,256.5 3271.3,256.3 C3275.2,256.0 3281.0,258.2 3283.0,258.6" fill="none"/>
<path d="M3259.7,260.0 C3258.7,263.7 3254.9,275.3 3253.9,281.9 C3252.9,288.4 3253.9,296.4 3253.9,299.3" fill="none"/>
<path d="M2887.3,187.9 C2888.0,190.9 2891.6,200.2 2891.6,206.2 C2891.6,212.2 2886.1,218.3 2887.3,223.7 C2888.5,229.0 2892.6,234.1 2898.9,238.2 C2905.2,242.3 2920.7,246.7 2925.1,248.4" fill="none"/>
<path d="M2856.7,184.4 C2856.4,188.0 2853.0,199.7 2854.7,206.2 C2856.4,212.8 2863.0,218.8 2866.9,223.7 C2870.8,228.5 2876.1,233.4 2878.0,235.3" fill="none"/>
<path d="M2917.8,184.4 C2919.0,186.6 2920.5,193.4 2925.1,197.5 C2929.7,201.6 2939.9,205.5 2945.5,209.1 C2951.1,212.8 2956.4,217.6 2958.6,219.3" fill="none"/>
<path d="M2836.4,168.4 C2838.3,163.1 2842.9,142.7 2848.0,136.4 C2853.1,130.1 2860.4,131.8 2866.9,130.6 C2873.5,129.3 2883.9,129.3 2887.3,129.1" fill="none"/>
<path d="M2887.3,129.1 C2889.2,125.0 2893.1,112.4 2898.9,104.4 C2904.7,96.4 2913.0,88.4 2922.2,81.1 C2931.4,73.8 2943.5,65.2 2954.2,60.7 C2964.9,56.3 2976.2,55.2 2986.2,54.3 C2996.2,53.5 3009.7,55.3 3014.4,55.5" fill="none"/>
<path d="M2924.2,96.5 C2925.1,99.3 2926.4,107.9 2929.5,113.1 C2932.5,118.3 2937.0,127.7 2942.6,127.7 C2948.1,127.6 2956.1,115.4 2962.9,112.5 C2969.7,109.6 2976.8,109.4 2983.3,110.2 C2989.8,111.0 2999.1,116.3 3002.2,117.5" fill="none"/>
<path d="M2970.8,74.4 C2970.1,77.5 2966.8,86.8 2966.4,92.7 C2966.1,98.7 2968.4,107.3 2968.8,110.2" fill="none"/>
<path d="M2964.4,132.0 C2965.8,135.2 2971.4,143.4 2973.1,150.9 C2974.8,158.4 2972.9,168.4 2974.6,177.1 C2976.3,185.8 2981.8,198.9 2983.3,203.3" fill="none"/>
<path d="M3016.8,82.6 C3014.6,86.7 3006.1,98.3 3003.7,107.3 C3001.2,116.3 3001.6,127.3 3002.2,136.4 C3002.8,145.5 3006.6,157.7 3007.4,162.0" fill="none"/>
<path d="M3048.2,108.7 C3048.1,112.4 3047.3,126.2 3047.9,130.6 C3048.5,134.9 3049.7,133.5 3051.7,134.9 C3053.6,136.4 3058.2,138.6 3059.5,139.3" fill="none"/>
<path d="M3051.7,134.9 C3050.2,135.2 3044.4,136.1 3042.9,136.4" fill="none"/>
<path d="M3099.7,108.7 C3099.2,113.3 3097.8,128.4 3096.8,136.4 C3095.7,144.4 3094.2,149.6 3093.3,156.7 C3092.3,163.9 3091.3,175.7 3091.0,179.4" fill="none"/>
<path d="M3039.5,171.9 C3040.0,174.2 3041.6,182.1 3042.9,185.8 C3044.3,189.6 3046.6,193.1 3047.3,194.6" fill="none"/>
<path d="M3072.0,34.5 C3073.5,36.5 3079.2,41.3 3080.8,46.2 C3082.4,51.0 3081.5,60.7 3081.6,63.6" fill="none"/>
<path d="M3081.6,57.8 C3083.2,56.8 3087.7,53.3 3091.0,51.4 C3094.2,49.6 3099.4,47.5 3101.1,46.8" fill="none"/>
<path d="M3121.5,60.7 C3122.7,58.8 3124.2,51.3 3128.8,49.1 C3133.4,46.9 3141.4,46.2 3149.1,47.6 C3156.9,49.1 3168.5,54.8 3175.3,57.8 C3182.1,60.8 3187.5,64.4 3189.9,65.7" fill="none"/>
<path d="M3165.1,69.5 C3167.3,70.2 3174.0,71.3 3178.2,73.8 C3182.5,76.3 3186.6,81.8 3190.5,84.6 C3194.3,87.4 3199.7,89.7 3201.5,90.7" fill="none"/>
<path d="M3190.5,84.6 C3192.5,84.4 3199.5,83.3 3203.0,83.4 C3206.4,83.6 3209.8,85.1 3211.1,85.5" fill="none"/>
<path d="M3144.2,81.1 C3145.0,82.1 3146.6,86.5 3149.1,86.9 C3151.7,87.3 3157.6,84.0 3159.3,83.4" fill="none"/>
<path d="M3149.1,86.9 C3148.2,89.3 3143.8,96.4 3143.3,101.5 C3142.8,106.6 3142.4,113.8 3146.2,117.5 C3150.1,121.1 3160.8,121.6 3166.6,123.3 C3172.4,125.0 3177.3,125.5 3181.1,127.7 C3185.0,129.8 3188.5,133.5 3189.9,136.4 C3191.2,139.3 3189.4,143.7 3189.3,145.1" fill="none"/>
<path d="M3179.1,94.5 C3181.9,95.6 3191.7,98.4 3195.7,101.5 C3199.7,104.6 3202.2,109.0 3203.0,113.1 C3203.7,117.2 3202.2,122.3 3200.1,126.2 C3197.9,130.1 3191.6,134.7 3189.9,136.4" fill="none"/>
<path d="M3123.8,145.7 C3124.7,143.7 3125.0,137.0 3128.8,133.5 C3132.5,130.0 3139.9,126.4 3146.2,124.7 C3152.5,123.0 3163.2,123.5 3166.6,123.3" fill="none"/>
<path d="M3200.9,120.4 C3203.0,119.9 3209.2,117.2 3213.2,117.5 C3217.1,117.7 3221.2,118.7 3224.8,121.8 C3228.4,125.0 3231.6,130.6 3235.0,136.4 C3238.4,142.2 3241.5,150.0 3245.2,156.7 C3248.8,163.5 3253.9,171.3 3256.8,177.1 C3259.7,182.9 3261.6,189.2 3262.6,191.7" fill="none"/>
<path d="M3232.6,161.7 C3232.3,162.8 3229.5,165.9 3230.6,168.4 C3231.7,170.9 3237.9,175.2 3239.3,176.5" fill="none"/>
<path d="M3230.6,174.2 C3229.7,177.4 3226.2,190.0 3225.4,193.1" fill="none"/>
<path d="M3158.7,162.6 C3156.7,164.5 3149.8,170.1 3146.2,174.2 C3142.7,178.3 3139.0,185.1 3137.5,187.3" fill="none"/>
</g>
<circle cx="3014.4" cy="55.5" r="13.5" fill="url(#gDot)"/>
<circle cx="3031.3" cy="62.2" r="13.5" fill="url(#gDot)"/>
<circle cx="3101.1" cy="46.8" r="13.5" fill="url(#gDot)"/>
<circle cx="3189.9" cy="65.7" r="13.5" fill="url(#gDot)"/>
<circle cx="3190.5" cy="84.6" r="13.5" fill="url(#gDot)"/>
<circle cx="3201.5" cy="90.7" r="13.5" fill="url(#gDot)"/>
<circle cx="3211.1" cy="85.5" r="13.5" fill="url(#gDot)"/>
<circle cx="3144.2" cy="81.1" r="13.5" fill="url(#gDot)"/>
<circle cx="3179.1" cy="94.5" r="13.5" fill="url(#gDot)"/>
<circle cx="2924.2" cy="96.5" r="13.5" fill="url(#gDot)"/>
<circle cx="2970.8" cy="74.4" r="13.5" fill="url(#gDot)"/>
<circle cx="2964.4" cy="132.0" r="13.5" fill="url(#gDot)"/>
<circle cx="3007.4" cy="162.0" r="13.5" fill="url(#gDot)"/>
<circle cx="3042.9" cy="136.4" r="13.5" fill="url(#gDot)"/>
<circle cx="3059.5" cy="139.3" r="13.5" fill="url(#gDot)"/>
<circle cx="3093.3" cy="156.7" r="13.5" fill="url(#gDot)"/>
<circle cx="3123.8" cy="145.7" r="13.5" fill="url(#gDot)"/>
<circle cx="3167.8" cy="151.5" r="13.5" fill="url(#gDot)"/>
<circle cx="3188.4" cy="176.2" r="13.5" fill="url(#gDot)"/>
<circle cx="3039.5" cy="171.9" r="13.5" fill="url(#gDot)"/>
<circle cx="3144.8" cy="200.4" r="13.5" fill="url(#gDot)"/>
<circle cx="3232.6" cy="161.7" r="13.5" fill="url(#gDot)"/>
<circle cx="3239.3" cy="176.5" r="13.5" fill="url(#gDot)"/>
<circle cx="2887.3" cy="187.9" r="13.5" fill="url(#gDot)"/>
<circle cx="3028.4" cy="217.3" r="13.5" fill="url(#gDot)"/>
<circle cx="3015.3" cy="235.3" r="13.5" fill="url(#gDot)"/>
<circle cx="3093.3" cy="212.6" r="13.5" fill="url(#gDot)"/>
<circle cx="2948.4" cy="259.2" r="13.5" fill="url(#gDot)"/>
<circle cx="3014.4" cy="279.5" r="13.5" fill="url(#gDot)"/>
<circle cx="2962.1" cy="306.6" r="13.5" fill="url(#gDot)"/>
<circle cx="3018.2" cy="315.9" r="13.5" fill="url(#gDot)"/>
<circle cx="3142.2" cy="319.7" r="13.5" fill="url(#gDot)"/>
<circle cx="3200.1" cy="276.9" r="13.5" fill="url(#gDot)"/>
<circle cx="3231.2" cy="292.6" r="13.5" fill="url(#gDot)"/>
<circle cx="3253.9" cy="299.3" r="13.5" fill="url(#gDot)"/>
<circle cx="3283.0" cy="258.6" r="13.5" fill="url(#gDot)"/>
<circle cx="2923.7" cy="272.5" r="13.5" fill="url(#gDot)"/>
<circle cx="3014.4" cy="55.5" r="3.1" fill="#7a9fe0"/>
<circle cx="3031.3" cy="62.2" r="3.1" fill="#7a9fe0"/>
<circle cx="3101.1" cy="46.8" r="3.6" fill="#7a9fe0"/>
<circle cx="3189.9" cy="65.7" r="3.1" fill="#7a9fe0"/>
<circle cx="3190.5" cy="84.6" r="3.1" fill="#7a9fe0"/>
<circle cx="3201.5" cy="90.7" r="3.1" fill="#7a9fe0"/>
<circle cx="3211.1" cy="85.5" r="3.1" fill="#7a9fe0"/>
<circle cx="3144.2" cy="81.1" r="3.1" fill="#7a9fe0"/>
<circle cx="3179.1" cy="94.5" r="3.1" fill="#7a9fe0"/>
<circle cx="2924.2" cy="96.5" r="3.1" fill="#7a9fe0"/>
<circle cx="2970.8" cy="74.4" r="3.1" fill="#7a9fe0"/>
<circle cx="2964.4" cy="132.0" r="3.6" fill="#7a9fe0"/>
<circle cx="3007.4" cy="162.0" r="3.6" fill="#7a9fe0"/>
<circle cx="3042.9" cy="136.4" r="3.1" fill="#7a9fe0"/>
<circle cx="3059.5" cy="139.3" r="3.1" fill="#7a9fe0"/>
<circle cx="3093.3" cy="156.7" r="3.1" fill="#7a9fe0"/>
<circle cx="3123.8" cy="145.7" r="3.6" fill="#7a9fe0"/>
<circle cx="3167.8" cy="151.5" r="3.1" fill="#7a9fe0"/>
<circle cx="3188.4" cy="176.2" r="3.1" fill="#7a9fe0"/>
<circle cx="3039.5" cy="171.9" r="3.1" fill="#7a9fe0"/>
<circle cx="3144.8" cy="200.4" r="3.6" fill="#7a9fe0"/>
<circle cx="3232.6" cy="161.7" r="3.1" fill="#7a9fe0"/>
<circle cx="3239.3" cy="176.5" r="3.1" fill="#7a9fe0"/>
<circle cx="2887.3" cy="187.9" r="3.1" fill="#7a9fe0"/>
<circle cx="3028.4" cy="217.3" r="3.1" fill="#7a9fe0"/>
<circle cx="3015.3" cy="235.3" r="3.1" fill="#7a9fe0"/>
<circle cx="3093.3" cy="212.6" r="3.1" fill="#7a9fe0"/>
<circle cx="2948.4" cy="259.2" r="3.1" fill="#7a9fe0"/>
<circle cx="3014.4" cy="279.5" r="3.1" fill="#7a9fe0"/>
<circle cx="2962.1" cy="306.6" r="3.1" fill="#7a9fe0"/>
<circle cx="3018.2" cy="315.9" r="3.1" fill="#7a9fe0"/>
<circle cx="3142.2" cy="319.7" r="3.1" fill="#7a9fe0"/>
<circle cx="3200.1" cy="276.9" r="3.1" fill="#7a9fe0"/>
<circle cx="3231.2" cy="292.6" r="3.1" fill="#7a9fe0"/>
<circle cx="3253.9" cy="299.3" r="3.1" fill="#7a9fe0"/>
<circle cx="3283.0" cy="258.6" r="3.6" fill="#7a9fe0"/>
<circle cx="2923.7" cy="272.5" r="3.1" fill="#7a9fe0"/>
<rect x="2844.2" y="135.5" width="115.0" height="44.5" fill="#fff" stroke="#5a5a5a" stroke-width="1.8"/>
<text x="2862.0" y="165.5" font-size="25.5" fill="#000" textLength="71.3" lengthAdjust="spacingAndGlyphs">Frontal</text>
<rect x="3016.8" y="63.6" width="113.4" height="44.6" fill="#fff" stroke="#5a5a5a" stroke-width="1.8"/>
<text x="3034.2" y="94.0" font-size="25.5" fill="#000" textLength="78.6" lengthAdjust="spacingAndGlyphs">Parietal</text>
<rect x="3190.5" y="194.6" width="128.9" height="45.7" fill="#fff" stroke="#5a5a5a" stroke-width="1.8"/>
<text x="3208.8" y="225.7" font-size="25.5" fill="#000" textLength="88.7" lengthAdjust="spacingAndGlyphs">Occipital</text>
<rect x="3049.6" y="271.7" width="138.0" height="45.1" fill="#fff" stroke="#5a5a5a" stroke-width="1.8"/>
<text x="3067.7" y="301.6" font-size="25.5" fill="#000" textLength="97.4" lengthAdjust="spacingAndGlyphs">Temporal</text>
<line x1="2923.7" y1="273.0" x2="2900.0" y2="278.6" stroke="#4472c4" stroke-width="3"/>
<line x1="2923.7" y1="273.0" x2="2905.0" y2="289.3" stroke="#4472c4" stroke-width="3"/>
<circle cx="2923.7" cy="273.0" r="3.4" fill="#7a9fe0"/>
<path d="M942,272 L942,216 A45,44.3 0 0 1 987,171.7 L1014,171.7 A44,46 0 0 1 1058,218 L1068.6,218 L1046,247 L1020,222 L1032.5,222 A21,25 0 0 0 1011.7,197 L987,197 A20.3,25 0 0 0 966.7,222 L966.7,272 Z" fill="url(#gGr1)"/>
<path d="M2394.6,281 L2394.6,226 A45,45 0 0 0 2350,181 L2326,181 A48,48 0 0 0 2278,229 L2278,232 L2264.8,232 L2290.5,256 L2315.2,232 L2302,232 A22,27 0 0 1 2324,204.8 L2348,204.8 A21.5,24 0 0 1 2369.5,229 L2369.5,281 Z" fill="url(#gGr2)"/>
<text x="1054.0" y="257.3" font-size="37" fill="#000" font-family="Liberation Serif, serif" font-style="italic">x<tspan font-size="25" dy="7.0" font-style="normal" font-family="Liberation Sans, sans-serif">0</tspan></text>
<text x="0.2" y="763.7" font-size="75.5" fill="#000">b</text>
<rect x="54.6" y="701.0" width="3291.4" height="811.0" fill="#fde8e0" rx="23" stroke="#f6b9c0" stroke-width="3.4"/>
<text x="596.8" y="756.8" font-size="46.5" fill="#4472c4" font-weight="bold" textLength="408.0" lengthAdjust="spacingAndGlyphs">NSLLM framework</text>
<rect x="136.0" y="869.5" width="440.8" height="526.0" fill="#fbf2d0" rx="9" stroke="#f4b183" stroke-width="2.8"/>
<line x1="358.6" y1="1423.0" x2="357.6" y2="1376.0" stroke="#000" stroke-width="3.4"/>
<polygon points="357.6,1364.5 364.6,1379.5 350.6,1379.5" fill="#000"/>
<line x1="358.6" y1="1320.0" x2="358.6" y2="1297.0" stroke="#000" stroke-width="3.4"/>
<line x1="358.6" y1="1198.0" x2="358.6" y2="1180.0" stroke="#000" stroke-width="3.4"/>
<line x1="358.6" y1="1142.5" x2="358.6" y2="1113.0" stroke="#000" stroke-width="3.4"/>
<polygon points="358.6,1101.5 365.6,1116.5 351.6,1116.5" fill="#000"/>
<line x1="358.6" y1="1057.0" x2="358.6" y2="1039.0" stroke="#000" stroke-width="3.4"/>
<line x1="358.6" y1="953.0" x2="358.6" y2="921.0" stroke="#000" stroke-width="3.4"/>
<line x1="358.6" y1="883.5" x2="358.6" y2="857.0" stroke="#000" stroke-width="3.4"/>
<polygon points="358.6,845.0 365.6,860.0 351.6,860.0" fill="#000"/>
<path d="M358.6,1381 H181 V1161.3 H326" fill="none" stroke="#000" stroke-width="3.4" stroke-linejoin="miter"/>
<polygon points="340.0,1161.3 325.0,1168.3 325.0,1154.3" fill="#000"/>
<path d="M358.6,1120.5 H182.6 V902.4 H326" fill="none" stroke="#000" stroke-width="3.4" stroke-linejoin="miter"/>
<polygon points="340.0,902.4 325.0,909.4 325.0,895.4" fill="#000"/>
<circle cx="358.6" cy="902.4" r="18.8" fill="none" stroke="#000" stroke-width="3.4"/>
<line x1="339.8" y1="902.4" x2="377.4" y2="902.4" stroke="#000" stroke-width="3"/>
<line x1="358.6" y1="883.6" x2="358.6" y2="921.2" stroke="#000" stroke-width="3.4"/>
<circle cx="358.6" cy="1161.3" r="18.8" fill="none" stroke="#000" stroke-width="3.4"/>
<line x1="339.8" y1="1161.3" x2="377.4" y2="1161.3" stroke="#000" stroke-width="3"/>
<line x1="358.6" y1="1142.5" x2="358.6" y2="1180.1" stroke="#000" stroke-width="3.4"/>
<rect x="240.2" y="799.7" width="235.4" height="43.9" fill="#b4c7e7" rx="8" stroke="#2f5597" stroke-width="3.4"/>
<text x="362.4" y="833.2" font-size="32.5" fill="#000" text-anchor="middle" textLength="75.6" lengthAdjust="spacingAndGlyphs">Head</text>
<rect x="240.2" y="952.7" width="237.1" height="86.4" fill="#f8cbad" rx="15" stroke="#f4b183" stroke-width="3"/>
<text x="359.0" y="1007.7" font-size="33" fill="#000" text-anchor="middle" textLength="64.6" lengthAdjust="spacingAndGlyphs">MLP</text>
<rect x="240.2" y="1057.2" width="237.1" height="43.9" fill="#8faadc" rx="8" stroke="#2f5597" stroke-width="3.4"/>
<text x="361.5" y="1090.9" font-size="33" fill="#000" text-anchor="middle" textLength="160.0" lengthAdjust="spacingAndGlyphs">LayerNorm</text>
<rect x="243.0" y="1197.7" width="244.2" height="98.9" fill="#f4b183" rx="22"/>
<text x="364.5" y="1239.0" font-size="33" fill="#000" text-anchor="middle" textLength="196.0" lengthAdjust="spacingAndGlyphs">Spiking linear</text>
<text x="364.8" y="1278.5" font-size="33" fill="#000" text-anchor="middle" textLength="124.3" lengthAdjust="spacingAndGlyphs">attention</text>
<rect x="240.2" y="1319.9" width="236.2" height="43.6" fill="#8faadc" rx="8" stroke="#2f5597" stroke-width="3.4"/>
<text x="361.5" y="1353.3" font-size="33" fill="#000" text-anchor="middle" textLength="160.0" lengthAdjust="spacingAndGlyphs">LayerNorm</text>
<rect x="238.4" y="1423.1" width="237.2" height="44.3" fill="#dae3f3" rx="8" stroke="#2f5597" stroke-width="3.4"/>
<text x="364.7" y="1456.0" font-size="33" fill="#000" text-anchor="middle" textLength="163.5" lengthAdjust="spacingAndGlyphs">Embedding</text>
<text x="497.0" y="914.5" font-size="36" fill="#000" font-family="Liberation Serif, serif">×</text>
<text x="527.5" y="914.6" font-size="41" fill="#000" font-family="Liberation Serif, serif" font-style="italic">N</text>
<line x1="641.7" y1="809.9" x2="475.0" y2="1197.7" stroke="#000" stroke-width="3.6" stroke-dasharray="15 10"/>
<line x1="459.0" y1="1301.0" x2="646.6" y2="1472.6" stroke="#000" stroke-width="3.6" stroke-dasharray="15 10"/>
<line x1="1630.4" y1="728.0" x2="1630.4" y2="1479.0" stroke="#333" stroke-width="2.4" stroke-dasharray="14 9"/>
<rect x="647.0" y="800.3" width="895.5" height="500.5" fill="#fde9e1" rx="10" stroke="#c55a11" stroke-width="3.4"/>
<text x="689.6" y="853.6" font-size="47" fill="#4472c4" font-weight="bold" textLength="518.0" lengthAdjust="spacingAndGlyphs">Spiking linear attention</text>
<text x="0.0" y="0.0" font-size="32" fill="#000" textLength="256.0" lengthAdjust="spacingAndGlyphs" transform="translate(710.5,1206.5) rotate(-90)">Binary spike input</text>
<line x1="739.8" y1="1084.1" x2="820.0" y2="1084.1" stroke="#000" stroke-width="2.4"/>
<polygon points="833.0,1084.1 819.5,1090.6 819.5,1077.6" fill="#000"/>
<path d="M820,936.2 H786.2 V1227.9 H820" fill="none" stroke="#000" stroke-width="2.4"/>
<polygon points="833.0,936.2 819.5,942.7 819.5,929.7" fill="#000"/>
<polygon points="833.0,1227.9 819.5,1234.4 819.5,1221.4" fill="#000"/>
<rect x="833.3" y="876.7" width="57.8" height="119.7" fill="#fff2cc" rx="11" stroke="#c9a227" stroke-width="1.7"/>
<rect x="918.0" y="875.0" width="58.4" height="120.4" fill="#dfe9f7" rx="11" stroke="#4a8fd0" stroke-width="1.7"/>
<text x="0.0" y="0.0" font-size="33" fill="#000" text-anchor="middle" transform="translate(851.5,936.2) rotate(90)">M</text>
<text x="0.0" y="0.0" font-size="33" fill="#000" text-anchor="middle" transform="translate(936,936.2) rotate(90)">SL</text>
<line x1="891.5" y1="936.2" x2="905.5" y2="935.9" stroke="#000" stroke-width="2.4"/>
<polygon points="918.0,935.7 904.6,942.5 904.4,929.5" fill="#000"/>
<line x1="977.0" y1="936.2" x2="995.5" y2="936.2" stroke="#000" stroke-width="2.4"/>
<polygon points="1008.0,936.2 994.5,942.7 994.5,929.7" fill="#000"/>
<line x1="1053.5" y1="935.7" x2="1083.5" y2="936.1" stroke="#000" stroke-width="2.4"/>
<polygon points="1096.0,936.2 1082.4,942.5 1082.6,929.5" fill="#000"/>
<circle cx="1030.8" cy="936.2" r="22.6" fill="none" stroke="#000" stroke-width="2.6"/>
<path d="M1011.6,945.3 H1027.3 L1036.0,914.0 L1033.9,954.5 L1037.7,945.3 H1047.6" fill="none" stroke="#ff0000" stroke-width="2.4" stroke-linejoin="miter"/>
<rect x="833.3" y="1023.9" width="57.8" height="120.4" fill="#fff2cc" rx="11" stroke="#c9a227" stroke-width="1.7"/>
<rect x="918.0" y="1023.9" width="58.4" height="120.4" fill="#dfe9f7" rx="11" stroke="#4a8fd0" stroke-width="1.7"/>
<text x="0.0" y="0.0" font-size="33" fill="#000" text-anchor="middle" transform="translate(851.5,1084.1) rotate(90)">M</text>
<text x="0.0" y="0.0" font-size="33" fill="#000" text-anchor="middle" transform="translate(936,1084.1) rotate(90)">SL</text>
<line x1="891.5" y1="1084.1" x2="905.5" y2="1083.8" stroke="#000" stroke-width="2.4"/>
<polygon points="918.0,1083.6 904.6,1090.4 904.4,1077.4" fill="#000"/>
<line x1="977.0" y1="1084.1" x2="995.5" y2="1084.1" stroke="#000" stroke-width="2.4"/>
<polygon points="1008.0,1084.1 994.5,1090.6 994.5,1077.6" fill="#000"/>
<line x1="1053.5" y1="1083.6" x2="1083.5" y2="1084.0" stroke="#000" stroke-width="2.4"/>
<polygon points="1096.0,1084.1 1082.4,1090.4 1082.6,1077.4" fill="#000"/>
<circle cx="1030.8" cy="1084.1" r="22.6" fill="none" stroke="#000" stroke-width="2.6"/>
<path d="M1011.6,1093.2 H1027.3 L1036.0,1061.9 L1033.9,1102.4 L1037.7,1093.2 H1047.6" fill="none" stroke="#ff0000" stroke-width="2.4" stroke-linejoin="miter"/>
<rect x="833.3" y="1167.7" width="57.8" height="120.1" fill="#fff2cc" rx="11" stroke="#c9a227" stroke-width="1.7"/>
<rect x="918.0" y="1166.0" width="58.4" height="120.4" fill="#dfe9f7" rx="11" stroke="#4a8fd0" stroke-width="1.7"/>
<text x="0.0" y="0.0" font-size="33" fill="#000" text-anchor="middle" transform="translate(851.5,1227.9) rotate(90)">M</text>
<text x="0.0" y="0.0" font-size="33" fill="#000" text-anchor="middle" transform="translate(936,1227.9) rotate(90)">SL</text>
<line x1="891.5" y1="1227.9" x2="905.5" y2="1227.6" stroke="#000" stroke-width="2.4"/>
<polygon points="918.0,1227.4 904.6,1234.2 904.4,1221.2" fill="#000"/>
<line x1="977.0" y1="1227.9" x2="995.5" y2="1227.9" stroke="#000" stroke-width="2.4"/>
<polygon points="1008.0,1227.9 994.5,1234.4 994.5,1221.4" fill="#000"/>
<line x1="1053.5" y1="1227.4" x2="1083.5" y2="1227.8" stroke="#000" stroke-width="2.4"/>
<polygon points="1096.0,1227.9 1082.4,1234.2 1082.6,1221.2" fill="#000"/>
<circle cx="1030.8" cy="1227.9" r="22.6" fill="none" stroke="#000" stroke-width="2.6"/>
<path d="M1011.6,1237.0 H1027.3 L1036.0,1205.7 L1033.9,1246.2 L1037.7,1237.0 H1047.6" fill="none" stroke="#ff0000" stroke-width="2.4" stroke-linejoin="miter"/>
<g filter="url(#blr)">
<rect x="1096.0" y="888.6" width="86.4" height="86.4" fill="#fdf0e8"/>
<rect x="1098.0" y="890.6" width="18.2" height="18.2" fill="#fbdcc8"/>
<rect x="1119.4" y="890.6" width="18.2" height="18.2" fill="#fbdcc8"/>
<rect x="1140.8" y="890.6" width="18.2" height="18.2" fill="#fbdcc8"/>
<rect x="1162.2" y="890.6" width="18.2" height="18.2" fill="#fbdcc8"/>
<rect x="1098.0" y="912.0" width="18.2" height="18.2" fill="#fbdcc8"/>
<rect x="1119.4" y="912.0" width="18.2" height="18.2" fill="#fbdcc8"/>
<rect x="1140.8" y="912.0" width="18.2" height="18.2" fill="#fbdcc8"/>
<rect x="1162.2" y="912.0" width="18.2" height="18.2" fill="#fbdcc8"/>
<rect x="1098.0" y="933.4" width="18.2" height="18.2" fill="#fbdfcd"/>
<rect x="1119.4" y="933.4" width="18.2" height="18.2" fill="#fbdcc8"/>
<rect x="1140.8" y="933.4" width="18.2" height="18.2" fill="#fbdcc8"/>
<rect x="1162.2" y="933.4" width="18.2" height="18.2" fill="#fbdcc8"/>
<rect x="1098.0" y="954.8" width="18.2" height="18.2" fill="#fbdcc8"/>
<rect x="1119.4" y="954.8" width="18.2" height="18.2" fill="#fbdcc8"/>
<rect x="1140.8" y="954.8" width="18.2" height="18.2" fill="#fbdcc8"/>
<rect x="1162.2" y="954.8" width="18.2" height="18.2" fill="#fbdcc8"/>
</g>
<path d="M1142.3,947.2 H1146.6 L1148.2,945.6 L1150.2,935.8 L1152.2,949.4 L1153.6,946.8 L1158.2,945.6" fill="none" stroke="#222a40" stroke-width="1.35" stroke-linejoin="round" stroke-linecap="round"/>
<path d="M1099.5,925.8000000000001 H1103.8 L1105.4,924.2 L1107.4,914.4 L1109.4,928.0 L1110.8,925.4 L1115.4,924.2" fill="none" stroke="#222a40" stroke-width="1.35" stroke-linejoin="round" stroke-linecap="round"/>
<path d="M1163.7,904.4000000000001 H1168.0 L1169.6000000000001,902.8000000000001 L1171.6000000000001,893.0 L1173.6000000000001,906.6 L1175.0,904.0 L1179.6000000000001,902.8000000000001" fill="none" stroke="#222a40" stroke-width="1.35" stroke-linejoin="round" stroke-linecap="round"/>
<path d="M1163.7,925.8000000000001 H1168.0 L1169.6000000000001,924.2 L1171.6000000000001,914.4 L1173.6000000000001,928.0 L1175.0,925.4 L1179.6000000000001,924.2" fill="none" stroke="#222a40" stroke-width="1.35" stroke-linejoin="round" stroke-linecap="round"/>
<path d="M1099.5,968.6 H1103.8 L1105.4,967.0 L1107.4,957.1999999999999 L1109.4,970.8 L1110.8,968.1999999999999 L1115.4,967.0" fill="none" stroke="#222a40" stroke-width="1.35" stroke-linejoin="round" stroke-linecap="round"/>
<g filter="url(#blr)">
<rect x="1095.6" y="1038.4" width="86.4" height="86.4" fill="#fdf0e8"/>
<rect x="1097.6" y="1040.4" width="18.2" height="18.2" fill="#e0dcc2"/>
<rect x="1119.0" y="1040.4" width="18.2" height="18.2" fill="#e0dcc2"/>
<rect x="1140.4" y="1040.4" width="18.2" height="18.2" fill="#e0dcc2"/>
<rect x="1161.8" y="1040.4" width="18.2" height="18.2" fill="#e8c88a"/>
<rect x="1097.6" y="1061.8" width="18.2" height="18.2" fill="#e0dcc2"/>
<rect x="1119.0" y="1061.8" width="18.2" height="18.2" fill="#e8c88a"/>
<rect x="1140.4" y="1061.8" width="18.2" height="18.2" fill="#e0dcc2"/>
<rect x="1161.8" y="1061.8" width="18.2" height="18.2" fill="#e8c88a"/>
<rect x="1097.6" y="1083.2" width="18.2" height="18.2" fill="#e0dcc2"/>
<rect x="1119.0" y="1083.2" width="18.2" height="18.2" fill="#e0dcc2"/>
<rect x="1140.4" y="1083.2" width="18.2" height="18.2" fill="#e8c88a"/>
<rect x="1161.8" y="1083.2" width="18.2" height="18.2" fill="#e0dcc2"/>
<rect x="1097.6" y="1104.6" width="18.2" height="18.2" fill="#e8c88a"/>
<rect x="1119.0" y="1104.6" width="18.2" height="18.2" fill="#e0dcc2"/>
<rect x="1140.4" y="1104.6" width="18.2" height="18.2" fill="#e0dcc2"/>
<rect x="1161.8" y="1104.6" width="18.2" height="18.2" fill="#e8c88a"/>
</g>
<path d="M1163.3,1118.4 H1167.6 L1169.2,1116.8 L1171.2,1107.0 L1173.2,1120.6000000000001 L1174.6,1118.0 L1179.2,1116.8" fill="none" stroke="#2a4a8a" stroke-width="1.35" stroke-linejoin="round" stroke-linecap="round"/>
<path d="M1141.8999999999999,1097.0 H1146.1999999999998 L1147.8,1095.3999999999999 L1149.8,1085.6 L1151.8,1099.2 L1153.1999999999998,1096.6 L1157.8,1095.3999999999999" fill="none" stroke="#2a4a8a" stroke-width="1.35" stroke-linejoin="round" stroke-linecap="round"/>
<path d="M1120.5,1075.6000000000001 H1124.8 L1126.4,1074.0 L1128.4,1064.2 L1130.4,1077.8000000000002 L1131.8,1075.2 L1136.4,1074.0" fill="none" stroke="#2a4a8a" stroke-width="1.35" stroke-linejoin="round" stroke-linecap="round"/>
<path d="M1163.3,1054.2 H1167.6 L1169.2,1052.6 L1171.2,1042.8 L1173.2,1056.4 L1174.6,1053.8 L1179.2,1052.6" fill="none" stroke="#2a4a8a" stroke-width="1.35" stroke-linejoin="round" stroke-linecap="round"/>
<path d="M1163.3,1075.6000000000001 H1167.6 L1169.2,1074.0 L1171.2,1064.2 L1173.2,1077.8000000000002 L1174.6,1075.2 L1179.2,1074.0" fill="none" stroke="#2a4a8a" stroke-width="1.35" stroke-linejoin="round" stroke-linecap="round"/>
<path d="M1099.1,1118.4 H1103.3999999999999 L1105.0,1116.8 L1107.0,1107.0 L1109.0,1120.6000000000001 L1110.3999999999999,1118.0 L1115.0,1116.8" fill="none" stroke="#2a4a8a" stroke-width="1.35" stroke-linejoin="round" stroke-linecap="round"/>
<g filter="url(#blr)">
<rect x="1097.4" y="1186.6" width="86.4" height="86.4" fill="#fdf0e8"/>
<rect x="1099.4" y="1188.6" width="18.2" height="18.2" fill="#e8eaf6"/>
<rect x="1120.8" y="1188.6" width="18.2" height="18.2" fill="#b9b2c8"/>
<rect x="1142.2" y="1188.6" width="18.2" height="18.2" fill="#e2dce6"/>
<rect x="1163.6" y="1188.6" width="18.2" height="18.2" fill="#e8eaf6"/>
<rect x="1099.4" y="1210.0" width="18.2" height="18.2" fill="#e2dce6"/>
<rect x="1120.8" y="1210.0" width="18.2" height="18.2" fill="#e2dce6"/>
<rect x="1142.2" y="1210.0" width="18.2" height="18.2" fill="#b9b2c8"/>
<rect x="1163.6" y="1210.0" width="18.2" height="18.2" fill="#e2dce6"/>
<rect x="1099.4" y="1231.4" width="18.2" height="18.2" fill="#e8eaf6"/>
<rect x="1120.8" y="1231.4" width="18.2" height="18.2" fill="#e8eaf6"/>
<rect x="1142.2" y="1231.4" width="18.2" height="18.2" fill="#b9b2c8"/>
<rect x="1163.6" y="1231.4" width="18.2" height="18.2" fill="#e2dce6"/>
<rect x="1099.4" y="1252.8" width="18.2" height="18.2" fill="#b9b2c8"/>
<rect x="1120.8" y="1252.8" width="18.2" height="18.2" fill="#e2dce6"/>
<rect x="1142.2" y="1252.8" width="18.2" height="18.2" fill="#e8eaf6"/>
<rect x="1163.6" y="1252.8" width="18.2" height="18.2" fill="#b9b2c8"/>
</g>
<path d="M1122.3000000000002,1202.3999999999999 H1126.6000000000001 L1128.2000000000003,1200.7999999999997 L1130.2000000000003,1190.9999999999998 L1132.2000000000003,1204.6 L1133.6000000000001,1201.9999999999998 L1138.2000000000003,1200.7999999999997" fill="none" stroke="#222a40" stroke-width="1.35" stroke-linejoin="round" stroke-linecap="round"/>
<path d="M1143.7,1223.8 H1148.0 L1149.6000000000001,1222.1999999999998 L1151.6000000000001,1212.3999999999999 L1153.6000000000001,1226.0 L1155.0,1223.3999999999999 L1159.6000000000001,1222.1999999999998" fill="none" stroke="#222a40" stroke-width="1.35" stroke-linejoin="round" stroke-linecap="round"/>
<path d="M1165.1000000000001,1266.6 H1169.4 L1171.0000000000002,1264.9999999999998 L1173.0000000000002,1255.1999999999998 L1175.0000000000002,1268.8 L1176.4,1266.1999999999998 L1181.0000000000002,1264.9999999999998" fill="none" stroke="#222a40" stroke-width="1.35" stroke-linejoin="round" stroke-linecap="round"/>
<path d="M1143.7,1245.1999999999998 H1148.0 L1149.6000000000001,1243.5999999999997 L1151.6000000000001,1233.7999999999997 L1153.6000000000001,1247.3999999999999 L1155.0,1244.7999999999997 L1159.6000000000001,1243.5999999999997" fill="none" stroke="#222a40" stroke-width="1.35" stroke-linejoin="round" stroke-linecap="round"/>
<path d="M1100.9,1266.6 H1105.2 L1106.8000000000002,1264.9999999999998 L1108.8000000000002,1255.1999999999998 L1110.8000000000002,1268.8 L1112.2,1266.1999999999998 L1116.8000000000002,1264.9999999999998" fill="none" stroke="#222a40" stroke-width="1.35" stroke-linejoin="round" stroke-linecap="round"/>
<text x="1186.6" y="914.5" font-size="42" fill="#000" font-family="Liberation Serif, serif" textLength="86.0" lengthAdjust="spacingAndGlyphs">n × d</text>
<text x="1195.2" y="1115.0" font-size="42" fill="#000" font-family="Liberation Serif, serif" textLength="86.0" lengthAdjust="spacingAndGlyphs">n × d</text>
<text x="1362.0" y="987.0" font-size="42" fill="#000" font-family="Liberation Serif, serif" textLength="84.5" lengthAdjust="spacingAndGlyphs">n × d</text>
<text x="1238.2" y="1285.2" font-size="35" fill="#000" font-family="Liberation Serif, serif" textLength="71.5" lengthAdjust="spacingAndGlyphs">n × d</text>
<text x="1423.9" y="1195.8" font-size="42" fill="#000" font-family="Liberation Serif, serif" textLength="84.5" lengthAdjust="spacingAndGlyphs">n × d</text>
<path d="M1189.4,930 H1249.5 V974" fill="none" stroke="#000" stroke-width="2.4"/>
<polygon points="1249.5,986.5 1243.0,973.0 1256.0,973.0" fill="#000"/>
<path d="M1187.3,1083 H1249.5 V1039" fill="none" stroke="#000" stroke-width="2.4"/>
<polygon points="1249.5,1026.5 1256.0,1040.0 1243.0,1040.0" fill="#000"/>
<circle cx="1249.5" cy="1006.0" r="19.0" fill="none" stroke="#000" stroke-width="2.6"/>
<polygon points="1249.5,992.5 1253.5,1000.5 1262.3,1001.8 1255.9,1008.1 1257.4,1016.9 1249.5,1012.8 1241.6,1016.9 1243.1,1008.1 1236.7,1001.8 1245.5,1000.5" fill="#000" stroke="#000" stroke-width="1.5" stroke-linejoin="round"/>
<line x1="1269.5" y1="1006.3" x2="1305.5" y2="1005.9" stroke="#000" stroke-width="2.4"/>
<polygon points="1318.0,1005.8 1304.6,1012.4 1304.4,999.4" fill="#000"/>
<circle cx="1337.2" cy="1006.0" r="19.2" fill="none" stroke="#000" stroke-width="2.4"/>
<path d="M1320.9,1013.7 H1334.2 L1341.6,987.1 L1339.8,1021.5 L1343.0,1013.7 H1351.5" fill="none" stroke="#ff0000" stroke-width="2.2" stroke-linejoin="miter"/>
<path d="M1356.5,1005 H1403.2 V1121.8 H1280.5 V1198" fill="none" stroke="#000" stroke-width="2.4"/>
<polygon points="1280.5,1210.5 1274.0,1197.0 1287.0,1197.0" fill="#000"/>
<line x1="1189.4" y1="1229.0" x2="1248.0" y2="1229.0" stroke="#000" stroke-width="2.4"/>
<polygon points="1260.5,1229.0 1247.0,1235.5 1247.0,1222.5" fill="#000"/>
<circle cx="1280.5" cy="1229.5" r="19.0" fill="none" stroke="#000" stroke-width="2.6"/>
<polygon points="1280.5,1216.0 1284.5,1224.0 1293.3,1225.3 1286.9,1231.6 1288.4,1240.4 1280.5,1236.2 1272.6,1240.4 1274.1,1231.6 1267.7,1225.3 1276.5,1224.0" fill="#000" stroke="#000" stroke-width="1.5" stroke-linejoin="round"/>
<line x1="1300.5" y1="1229.0" x2="1320.3" y2="1228.8" stroke="#000" stroke-width="2.4"/>
<polygon points="1332.8,1228.7 1319.4,1235.3 1319.2,1222.3" fill="#000"/>
<rect x="1332.8" y="1167.6" width="58.4" height="120.0" fill="#dfe9f7" rx="11" stroke="#4a8fd0" stroke-width="1.7"/>
<text x="0.0" y="0.0" font-size="33" fill="#000" text-anchor="middle" transform="translate(1350.5,1228) rotate(90)">SL</text>
<line x1="1391.5" y1="1227.6" x2="1409.9" y2="1227.4" stroke="#000" stroke-width="2.4"/>
<polygon points="1422.4,1227.2 1409.0,1233.9 1408.8,1220.9" fill="#000"/>
<circle cx="1441.8" cy="1225.0" r="19.2" fill="none" stroke="#000" stroke-width="2.4"/>
<path d="M1425.5,1232.7 H1438.8 L1446.2,1206.1 L1444.4,1240.5 L1447.6,1232.7 H1456.1" fill="none" stroke="#ff0000" stroke-width="2.2" stroke-linejoin="miter"/>
<line x1="1461.0" y1="1225.0" x2="1480.8" y2="1224.9" stroke="#000" stroke-width="2.4"/>
<polygon points="1493.3,1224.8 1479.8,1231.4 1479.8,1218.4" fill="#000"/>
<rect x="647.0" y="1325.8" width="895.5" height="157.0" fill="none" rx="8" stroke="#2f5597" stroke-width="3.2"/>
<rect x="709.6" y="1338.3" width="119.9" height="57.9" fill="#fff2cc" rx="11" stroke="#c9a227" stroke-width="1.7"/>
<text x="768.3" y="1378.7" font-size="33" fill="#000" text-anchor="middle">M</text>
<rect x="709.6" y="1414.1" width="119.9" height="58.3" fill="#dfe9f7" rx="11" stroke="#4a8fd0" stroke-width="1.7"/>
<text x="770.0" y="1453.7" font-size="33" fill="#000" text-anchor="middle">SL</text>
<text x="854.5" y="1380.8" font-size="28" fill="#000" textLength="111.6" lengthAdjust="spacingAndGlyphs">Time mix</text>
<circle cx="1022.3" cy="1369.6" r="27.3" fill="none" stroke="#000" stroke-width="2.6"/>
<polygon points="1022.3,1350.6 1027.9,1361.9 1040.4,1363.7 1031.3,1372.5 1033.5,1385.0 1022.3,1379.1 1011.1,1385.0 1013.3,1372.5 1004.2,1363.7 1016.7,1361.9" fill="#000" stroke="#000" stroke-width="1.5" stroke-linejoin="round"/>
<text x="1069.8" y="1377.9" font-size="28" fill="#000" textLength="191.6" lengthAdjust="spacingAndGlyphs">Sparse addition</text>
<circle cx="1300.6" cy="1370.4" r="25.0" fill="none" stroke="#000" stroke-width="2.4"/>
<path d="M1279.3,1380.4 H1296.8 L1306.4,1345.8 L1304.0,1390.6 L1308.2,1380.4 H1319.2" fill="none" stroke="#ff0000" stroke-width="2.2" stroke-linejoin="miter"/>
<text x="1351.4" y="1380.8" font-size="28" fill="#000" textLength="157.0" lengthAdjust="spacingAndGlyphs">Neuron tools</text>
<text x="856.6" y="1451.6" font-size="28" fill="#000" textLength="424.0" lengthAdjust="spacingAndGlyphs">Sparse addition-based linear layer</text>
<text x="2399.3" y="758.9" font-size="46.5" fill="#4472c4" font-weight="bold" textLength="285.6" lengthAdjust="spacingAndGlyphs">Neuron tools</text>
<rect x="1710.4" y="787.5" width="1069.6" height="374.8" fill="none" rx="30" stroke="#a6a6a6" stroke-width="2.8"/>
<text x="1752.5" y="848.7" font-size="46.5" fill="#4472c4" font-weight="bold" textLength="358.0" lengthAdjust="spacingAndGlyphs">Neural activities</text>
<path d="M2184.7,822.1 C2184.0,821.7 2182.2,820.2 2180.6,820.0 C2178.9,819.9 2176.3,820.2 2174.9,821.1 C2173.4,822.0 2172.1,823.8 2172.0,825.3 C2171.9,826.8 2173.0,828.7 2174.0,830.2 C2175.1,831.7 2177.5,832.9 2178.5,834.3 C2179.6,835.7 2180.3,837.0 2180.2,838.4 C2180.0,839.8 2179.1,841.6 2177.7,842.5 C2176.4,843.4 2173.8,843.8 2172.0,843.7 C2170.2,843.6 2168.1,842.9 2167.1,842.1 C2166.2,841.2 2165.9,839.6 2166.3,838.8 C2166.7,838.0 2168.5,837.2 2169.6,837.2 C2170.6,837.1 2172.3,838.3 2172.8,838.6" fill="none" stroke="#4472c4" stroke-width="4.4" stroke-linecap="round" stroke-linejoin="round"/>
<line x1="2196.9" y1="830.4" x2="2214.9" y2="830.4" stroke="#000" stroke-width="4.2"/>
<line x1="2205.9" y1="822.0" x2="2205.9" y2="838.8" stroke="#000" stroke-width="4.2"/>
<path d="M2243.9,820.4 C2242.7,821.1 2238.3,822.5 2236.6,824.5 C2234.9,826.5 2233.8,830.1 2233.7,832.7 C2233.6,835.3 2234.4,838.4 2235.7,840.0 C2237.0,841.7 2239.3,842.6 2241.5,842.5 C2243.6,842.3 2246.8,841.1 2248.8,839.2 C2250.8,837.3 2252.8,833.6 2253.7,831.0 C2254.7,828.5 2255.1,825.5 2254.5,823.7 C2254.0,821.9 2252.2,820.6 2250.4,820.0 C2248.7,819.5 2245.0,820.4 2243.9,820.4" fill="none" stroke="#2e9070" stroke-width="4.4" stroke-linecap="round" stroke-linejoin="round"/>
<path d="M2239.8,841.2 C2239.1,841.9 2236.9,844.0 2235.7,845.3 C2234.5,846.6 2232.2,848.8 2232.6,849.0 C2233.0,849.2 2236.2,846.9 2238.2,846.7 C2240.2,846.6 2242.7,847.8 2244.7,848.2 C2246.8,848.6 2248.9,849.4 2250.4,849.0 C2252.0,848.6 2253.3,846.4 2253.9,845.9" fill="none" stroke="#2e9070" stroke-width="4.4" stroke-linecap="round" stroke-linejoin="round"/>
<line x1="2268.8" y1="830.4" x2="2286.8" y2="830.4" stroke="#000" stroke-width="4.2"/>
<line x1="2277.8" y1="822.0" x2="2277.8" y2="838.8" stroke="#000" stroke-width="4.2"/>
<path d="M2305.7,827.4 C2305.9,826.8 2305.9,824.8 2306.6,823.9 C2307.4,822.9 2308.3,822.3 2310.1,821.9 C2311.9,821.5 2315.0,821.6 2317.4,821.4 C2319.9,821.2 2322.8,821.1 2324.8,820.8 C2326.7,820.5 2328.5,819.8 2329.3,819.6" fill="none" stroke="#ed7d31" stroke-width="4.4" stroke-linecap="round" stroke-linejoin="round"/>
<path d="M2318.4,821.6 C2318.1,822.8 2317.3,826.3 2316.8,828.6 C2316.2,830.8 2315.7,833.1 2315.0,835.1 C2314.3,837.2 2313.6,839.5 2312.5,840.8 C2311.5,842.2 2309.9,843.1 2308.6,843.3 C2307.3,843.5 2305.5,842.6 2304.9,842.1 C2304.4,841.5 2305.3,840.2 2305.3,839.9" fill="none" stroke="#ed7d31" stroke-width="4.4" stroke-linecap="round" stroke-linejoin="round"/>
<line x1="1810.6" y1="1052.6" x2="1810.6" y2="917.6" stroke="#000" stroke-width="1.7"/>
<polygon points="1810.6,907.6 1816.1,920.6 1805.1,920.6" fill="#000"/>
<text x="1827.3" y="992.3" font-size="31" fill="#000" textLength="154.0" lengthAdjust="spacingAndGlyphs">Real value</text>
<polygon points="2008.6,984.6 2027.6,967.6 2027.6,977.1 2066.7,977.1 2066.7,967.6 2085.7,984.6 2066.7,1001.6 2066.7,992.1 2027.6,992.1 2027.6,1001.6" fill="url(#gDA)"/>
<path d="M2022.7,1030.6 C2022.0,1030.2 2020.2,1028.7 2018.6,1028.5 C2016.9,1028.4 2014.3,1028.7 2012.9,1029.6 C2011.4,1030.5 2010.1,1032.3 2010.0,1033.8 C2009.9,1035.3 2011.0,1037.2 2012.0,1038.7 C2013.1,1040.2 2015.5,1041.4 2016.5,1042.8 C2017.6,1044.2 2018.3,1045.5 2018.2,1046.9 C2018.0,1048.3 2017.1,1050.1 2015.7,1051.0 C2014.4,1051.9 2011.8,1052.3 2010.0,1052.2 C2008.2,1052.1 2006.1,1051.4 2005.1,1050.6 C2004.2,1049.7 2003.9,1048.1 2004.3,1047.3 C2004.7,1046.5 2006.5,1045.7 2007.6,1045.7 C2008.6,1045.6 2010.3,1046.8 2010.8,1047.1" fill="none" stroke="#4472c4" stroke-width="4.4" stroke-linecap="round" stroke-linejoin="round"/>
<line x1="2034.5" y1="1039.0" x2="2052.5" y2="1039.0" stroke="#000" stroke-width="4.2"/>
<line x1="2043.5" y1="1030.6" x2="2043.5" y2="1047.4" stroke="#000" stroke-width="4.2"/>
<path d="M2081.9,1028.9 C2080.7,1029.6 2076.3,1031.0 2074.6,1033.0 C2072.9,1035.0 2071.8,1038.6 2071.7,1041.2 C2071.6,1043.8 2072.4,1046.9 2073.7,1048.5 C2075.0,1050.2 2077.3,1051.1 2079.5,1051.0 C2081.6,1050.8 2084.8,1049.6 2086.8,1047.7 C2088.8,1045.8 2090.8,1042.1 2091.7,1039.5 C2092.7,1037.0 2093.1,1034.0 2092.5,1032.2 C2092.0,1030.4 2090.2,1029.1 2088.4,1028.5 C2086.7,1028.0 2083.0,1028.9 2081.9,1028.9" fill="none" stroke="#2e9070" stroke-width="4.4" stroke-linecap="round" stroke-linejoin="round"/>
<path d="M2077.8,1049.7 C2077.1,1050.4 2074.9,1052.5 2073.7,1053.8 C2072.5,1055.1 2070.2,1057.3 2070.6,1057.5 C2071.0,1057.7 2074.2,1055.4 2076.2,1055.2 C2078.2,1055.1 2080.7,1056.3 2082.7,1056.7 C2084.8,1057.1 2086.9,1057.9 2088.4,1057.5 C2090.0,1057.1 2091.3,1054.9 2091.9,1054.4" fill="none" stroke="#2e9070" stroke-width="4.4" stroke-linecap="round" stroke-linejoin="round"/>
<line x1="2135.5" y1="1051.3" x2="2135.5" y2="916.2" stroke="#000" stroke-width="1.7"/>
<polygon points="2135.5,906.2 2141.0,919.2 2130.0,919.2" fill="#000"/>
<line x1="2135.5" y1="1051.3" x2="2250.2" y2="1051.3" stroke="#000" stroke-width="1.7"/>
<polygon points="2260.2,1051.3 2247.2,1056.8 2247.2,1045.8" fill="#000"/>
<line x1="2136.0" y1="952.5" x2="2174.0" y2="952.5" stroke="#ff0000" stroke-width="1.5"/>
<line x1="2136.0" y1="973.8" x2="2202.2" y2="973.8" stroke="#ff0000" stroke-width="1.5"/>
<line x1="2136.0" y1="1013.6" x2="2200.0" y2="1013.6" stroke="#ff0000" stroke-width="1.5"/>
<text x="2280.0" y="1058.0" font-size="46" fill="#000" font-family="Liberation Serif, serif" font-style="italic">t</text>
<text x="2187.7" y="930.2" font-size="31" fill="#000" textLength="210.7" lengthAdjust="spacingAndGlyphs">Integrate spike</text>
<polygon points="2349.5,987.8 2368.5,970.8 2368.5,980.3 2407.5,980.3 2407.5,970.8 2426.5,987.8 2407.5,1004.8 2407.5,995.3 2368.5,995.3 2368.5,1004.8" fill="url(#gDA)"/>
<path d="M2373.7,1040.4 C2373.9,1039.8 2373.9,1037.8 2374.6,1036.9 C2375.4,1035.9 2376.3,1035.3 2378.1,1034.9 C2379.9,1034.5 2383.0,1034.6 2385.4,1034.4 C2387.9,1034.2 2390.8,1034.1 2392.8,1033.8 C2394.7,1033.5 2396.5,1032.8 2397.3,1032.6" fill="none" stroke="#ed7d31" stroke-width="4.4" stroke-linecap="round" stroke-linejoin="round"/>
<path d="M2386.4,1034.6 C2386.1,1035.8 2385.3,1039.3 2384.8,1041.6 C2384.2,1043.8 2383.7,1046.1 2383.0,1048.1 C2382.3,1050.2 2381.6,1052.5 2380.5,1053.8 C2379.5,1055.2 2377.9,1056.1 2376.6,1056.3 C2375.3,1056.5 2373.5,1055.6 2372.9,1055.1 C2372.4,1054.5 2373.3,1053.2 2373.3,1052.9" fill="none" stroke="#ed7d31" stroke-width="4.4" stroke-linecap="round" stroke-linejoin="round"/>
<line x1="2510.4" y1="1052.2" x2="2510.4" y2="916.0" stroke="#000" stroke-width="1.7"/>
<polygon points="2510.4,906.0 2515.9,919.0 2504.9,919.0" fill="#000"/>
<line x1="2510.4" y1="1052.2" x2="2626.4" y2="1052.2" stroke="#000" stroke-width="1.7"/>
<polygon points="2636.4,1052.2 2623.4,1057.7 2623.4,1046.7" fill="#000"/>
<path d="M2518.5,959.3 H2532.0 L2534.0,959.8 L2538.5,931.2 L2537.5,967.1679999999999 L2541.5,957.8 L2543.5,959.3 H2548" fill="none" stroke="#ff0000" stroke-width="1.7" stroke-linejoin="miter"/>
<path d="M2548,996 H2561.4 L2563.4,996.5 L2567.9,969.7 L2566.9,1003.364 L2570.9,994.5 L2572.9,996 H2580" fill="none" stroke="#ff0000" stroke-width="1.7" stroke-linejoin="miter"/>
<path d="M2580,996 H2592.3 L2594.3,996.5 L2598.8,969.7 L2597.8,1003.364 L2601.8,994.5 L2603.8,996 H2609.2" fill="none" stroke="#ff0000" stroke-width="1.7" stroke-linejoin="miter"/>
<path d="M2549,1034 H2561.4 L2563.4,1034.5 L2567.9,1007.3 L2566.9,1041.476 L2570.9,1032.5 L2572.9,1034 H2580" fill="none" stroke="#ff0000" stroke-width="1.7" stroke-linejoin="miter"/>
<path d="M2580,1034 H2592.3 L2594.3,1034.5 L2598.8,1007.3 L2597.8,1041.476 L2601.8,1032.5 L2603.8,1034 H2610" fill="none" stroke="#ff0000" stroke-width="1.7" stroke-linejoin="miter"/>
<text x="2652.5" y="1058.0" font-size="46" fill="#000" font-family="Liberation Serif, serif" font-style="italic">t</text>
<text x="2558.0" y="933.4" font-size="31" fill="#000" textLength="179.0" lengthAdjust="spacingAndGlyphs">Binary spike</text>
<text x="1788.8" y="1128.3" font-size="34.5" fill="#000" textLength="236.6" lengthAdjust="spacingAndGlyphs">Spatio domain</text>
<text x="2229.4" y="1130.6" font-size="34.5" fill="#000" textLength="396.6" lengthAdjust="spacingAndGlyphs">Spatio-temporal domain</text>
<rect x="1710.4" y="1206.3" width="520.3" height="266.0" fill="none" rx="20" stroke="#4472c4" stroke-width="2.8"/>
<text x="1729.9" y="1247.1" font-size="35" fill="#4472c4" textLength="320.4" lengthAdjust="spacingAndGlyphs">Spike sparsification</text>
<path d="M2078.6,1226.9 C2077.9,1226.6 2076.2,1225.1 2074.6,1224.9 C2073.0,1224.8 2070.5,1225.1 2069.1,1226.0 C2067.7,1226.8 2066.4,1228.6 2066.3,1230.1 C2066.2,1231.6 2067.2,1233.4 2068.3,1234.9 C2069.3,1236.3 2071.7,1237.5 2072.6,1238.8 C2073.6,1240.2 2074.4,1241.5 2074.2,1242.8 C2074.1,1244.1 2073.2,1245.9 2071.8,1246.8 C2070.5,1247.6 2068.0,1248.0 2066.3,1248.0 C2064.6,1247.9 2062.4,1247.2 2061.5,1246.4 C2060.6,1245.6 2060.3,1244.0 2060.7,1243.2 C2061.1,1242.4 2062.8,1241.7 2063.9,1241.6 C2065.0,1241.6 2066.6,1242.7 2067.1,1243.0" fill="none" stroke="#4472c4" stroke-width="4.28" stroke-linecap="round" stroke-linejoin="round"/>
<line x1="1724.0" y1="1393.0" x2="1836.0" y2="1393.0" stroke="#e00000" stroke-width="3.2" stroke-dasharray="14 7"/>
<line x1="1739.0" y1="1443.0" x2="1739.0" y2="1334.0" stroke="#000" stroke-width="3.2"/>
<polygon points="1739.0,1325.0 1744.5,1338.0 1733.5,1338.0" fill="#000"/>
<line x1="1724.0" y1="1412.0" x2="1828.3" y2="1412.0" stroke="#000" stroke-width="3.2"/>
<polygon points="1837.3,1412.0 1824.3,1417.5 1824.3,1406.5" fill="#000"/>
<path d="M1739,1423.4 H1762.5 C1768.5,1423.4 1769.5,1402 1772.4,1369.6 C1775.4,1337.6 1776.4,1329.6 1778.4,1329.6 C1781.4,1329.6 1782.4,1359.6 1786,1412 C1789,1430 1790.5,1436 1796.5,1436 C1804.5,1436 1809,1424.4 1819,1423.4 H1823.7" fill="none" stroke="#000" stroke-width="3.2" stroke-linejoin="round"/>
<text x="1825.5" y="1442.0" font-size="35" fill="#000" font-family="Liberation Serif, serif" font-style="italic">t</text>
<rect x="1849.5" y="1277.4" width="245.2" height="176.8" fill="#b4c7e7" rx="26" stroke="#2f5597" stroke-width="2.8"/>
<rect x="1866.8" y="1288.8" width="88.3" height="117.8" fill="none" stroke="#2e75b6" stroke-width="3"/>
<rect x="1873.6" y="1377.2" width="13.6" height="29.4" fill="none" stroke="#2e75b6" stroke-width="3"/>
<rect x="1894.0" y="1318.2" width="13.6" height="88.4" fill="none" stroke="#2e75b6" stroke-width="3"/>
<rect x="1913.5" y="1318.2" width="14.5" height="88.4" fill="none" stroke="#2e75b6" stroke-width="3"/>
<rect x="1933.8" y="1377.2" width="13.6" height="29.4" fill="none" stroke="#2e75b6" stroke-width="3"/>
<path d="M1867.7,1403.4 C1890,1403 1894,1370 1899,1330 C1903,1298 1906,1288.8 1909,1288.8 C1912,1288.8 1915,1298 1919,1330 C1924,1370 1928,1403 1950.6,1403.4" fill="none" stroke="#548235" stroke-width="2.8"/>
<text x="1879.0" y="1430.6" font-size="24.5" fill="#000" text-anchor="middle">0</text>
<text x="1899.4" y="1430.6" font-size="24.5" fill="#000" text-anchor="middle">1</text>
<text x="1920.2" y="1430.6" font-size="24.5" fill="#000" text-anchor="middle">2</text>
<text x="1941.5" y="1430.6" font-size="24.5" fill="#000" text-anchor="middle">3</text>
<line x1="1954.5" y1="1349.0" x2="1980.0" y2="1349.0" stroke="#000" stroke-width="3.2"/>
<path d="M1978,1342.5 L1988,1349 L1978,1355.5" fill="none" stroke="#000" stroke-width="3.2" stroke-linejoin="miter" stroke-linecap="round"/>
<rect x="1989.1" y="1288.8" width="88.4" height="119.2" fill="none" stroke="#2e75b6" stroke-width="3"/>
<rect x="1996.0" y="1301.5" width="14.9" height="106.5" fill="none" stroke="#2e75b6" stroke-width="3"/>
<rect x="2016.3" y="1331.8" width="13.7" height="76.2" fill="none" stroke="#2e75b6" stroke-width="3"/>
<rect x="2038.1" y="1361.3" width="13.1" height="46.7" fill="none" stroke="#2e75b6" stroke-width="3"/>
<rect x="2056.2" y="1389.4" width="13.6" height="18.6" fill="none" stroke="#2e75b6" stroke-width="3"/>
<path d="M1989.5,1288 C2010,1288 2016,1310 2026,1345 C2036,1382 2048,1405 2076.6,1406.6" fill="none" stroke="#e00000" stroke-width="3.2"/>
<text x="2002.7" y="1432.5" font-size="24.5" fill="#000" text-anchor="middle">0</text>
<text x="2023.1" y="1432.5" font-size="24.5" fill="#000" text-anchor="middle">1</text>
<text x="2043.5" y="1432.5" font-size="24.5" fill="#000" text-anchor="middle">2</text>
<text x="2064.4" y="1432.5" font-size="24.5" fill="#000" text-anchor="middle">3</text>
<line x1="2120.6" y1="1448.3" x2="2120.6" y2="1340.0" stroke="#000" stroke-width="3.2"/>
<polygon points="2120.6,1331.0 2126.1,1344.0 2115.1,1344.0" fill="#000"/>
<line x1="2106.0" y1="1416.6" x2="2209.0" y2="1416.6" stroke="#000" stroke-width="3.2"/>
<polygon points="2218.0,1416.6 2205.0,1422.1 2205.0,1411.1" fill="#000"/>
<line x1="2159.0" y1="1390.8" x2="2159.0" y2="1416.6" stroke="#e00000" stroke-width="3.2"/>
<text x="2209.5" y="1442.0" font-size="35" fill="#000" font-family="Liberation Serif, serif" font-style="italic">t</text>
<rect x="2260.2" y="1206.3" width="519.8" height="266.0" fill="none" rx="20" stroke="#bf9000" stroke-width="2.8"/>
<text x="2286.0" y="1254.8" font-size="35" fill="#2e9070" textLength="303.7" lengthAdjust="spacingAndGlyphs">Spike quantization</text>
<path d="M2613.1,1233.0 C2611.9,1233.7 2607.6,1235.0 2605.9,1237.0 C2604.2,1239.0 2603.3,1242.4 2603.1,1244.9 C2603.0,1247.5 2603.9,1250.5 2605.1,1252.1 C2606.4,1253.7 2608.6,1254.6 2610.7,1254.5 C2612.8,1254.3 2615.8,1253.2 2617.8,1251.3 C2619.8,1249.4 2621.7,1245.9 2622.6,1243.4 C2623.5,1240.8 2623.9,1238.0 2623.4,1236.2 C2622.9,1234.4 2621.1,1233.2 2619.4,1232.6 C2617.7,1232.1 2614.1,1233.0 2613.1,1233.0" fill="none" stroke="#2e9070" stroke-width="4.28" stroke-linecap="round" stroke-linejoin="round"/>
<path d="M2609.1,1253.3 C2608.4,1254.0 2606.3,1256.0 2605.1,1257.3 C2603.9,1258.5 2601.7,1260.6 2602.1,1260.8 C2602.5,1261.1 2605.5,1258.7 2607.5,1258.6 C2609.5,1258.5 2611.9,1259.7 2613.8,1260.0 C2615.8,1260.4 2617.9,1261.2 2619.4,1260.8 C2620.9,1260.5 2622.2,1258.3 2622.7,1257.8" fill="none" stroke="#2e9070" stroke-width="4.28" stroke-linecap="round" stroke-linejoin="round"/>
<line x1="2270.0" y1="1391.7" x2="2381.0" y2="1391.7" stroke="#e00000" stroke-width="3.2" stroke-dasharray="14 7"/>
<line x1="2284.7" y1="1437.4" x2="2284.7" y2="1340.8" stroke="#000" stroke-width="3.2"/>
<polygon points="2284.7,1331.8 2290.2,1344.8 2279.2,1344.8" fill="#000"/>
<line x1="2270.2" y1="1408.9" x2="2373.6" y2="1408.9" stroke="#000" stroke-width="3.2"/>
<polygon points="2382.6,1408.9 2369.6,1414.4 2369.6,1403.4" fill="#000"/>
<path d="M2284.7,1418.9 H2308.7 C2314.7,1418.9 2315.7,1398.9 2318.5,1374.1 C2321.5,1342.1 2322.5,1334.1 2324.5,1334.1 C2327.5,1334.1 2328.5,1364.1 2333.6,1408.9 C2336.6,1426.9 2336.7,1429.3 2342.7,1429.3 C2350.7,1429.3 2355.3,1419.9 2365.3,1418.9 H2369.9" fill="none" stroke="#000" stroke-width="3.2" stroke-linejoin="round"/>
<text x="2369.5" y="1442.0" font-size="35" fill="#000" font-family="Liberation Serif, serif" font-style="italic">t</text>
<rect x="2399.3" y="1283.3" width="247.1" height="158.7" fill="#c5e0b4" rx="28" stroke="#bf9000" stroke-width="2.8"/>
<line x1="2417.5" y1="1311.4" x2="2620.5" y2="1311.4" stroke="#1e7d6a" stroke-width="2.6"/>
<line x1="2462.8" y1="1378.1" x2="2576.1" y2="1378.1" stroke="#1e7d6a" stroke-width="2.6"/>
<line x1="2437.9" y1="1299.0" x2="2437.9" y2="1324.0" stroke="#1e7d6a" stroke-width="2.6"/>
<line x1="2490.0" y1="1299.0" x2="2490.0" y2="1324.0" stroke="#1e7d6a" stroke-width="2.6"/>
<line x1="2604.2" y1="1299.0" x2="2604.2" y2="1324.0" stroke="#1e7d6a" stroke-width="2.6"/>
<line x1="2490.0" y1="1366.0" x2="2490.0" y2="1391.0" stroke="#1e7d6a" stroke-width="2.6"/>
<line x1="2555.7" y1="1366.0" x2="2555.7" y2="1391.0" stroke="#1e7d6a" stroke-width="2.6"/>
<line x1="2490.0" y1="1311.4" x2="2490.0" y2="1378.0" stroke="#1e7d6a" stroke-width="3.6" stroke-dasharray="11 6"/>
<line x1="2437.9" y1="1313.0" x2="2484.0" y2="1372.0" stroke="#1e7d6a" stroke-width="3.3" stroke-dasharray="11 6"/>
<path d="M2476,1371.5 L2487,1376.5 L2485.5,1364" fill="none" stroke="#1e7d6a" stroke-width="2.6"/>
<line x1="2604.2" y1="1313.0" x2="2558.5" y2="1374.0" stroke="#1e7d6a" stroke-width="3.3" stroke-dasharray="11 6"/>
<path d="M2593,1317 L2603.5,1312.5 L2603,1324" fill="none" stroke="#1e7d6a" stroke-width="2.6"/>
<ellipse cx="2437.9" cy="1311.4" rx="4.6" ry="5.6" fill="#70ad47"/>
<ellipse cx="2501.3" cy="1311.4" rx="4.6" ry="5.6" fill="#70ad47"/>
<ellipse cx="2589.7" cy="1311.4" rx="4.6" ry="5.6" fill="#70ad47"/>
<ellipse cx="2490.0" cy="1378.1" rx="4.8" ry="5.6" fill="#70ad47"/>
<ellipse cx="2505.8" cy="1378.1" rx="4.8" ry="5.6" fill="#70ad47"/>
<ellipse cx="2526.2" cy="1378.1" rx="4.8" ry="5.6" fill="#70ad47"/>
<text x="2406.1" y="1353.6" font-size="24.5" fill="#000" textLength="38.6" lengthAdjust="spacingAndGlyphs">min</text>
<text x="2592.9" y="1353.6" font-size="24.5" fill="#000" textLength="46.7" lengthAdjust="spacingAndGlyphs">max</text>
<text x="2490.0" y="1424.8" font-size="25.5" fill="#000" text-anchor="middle">0</text>
<text x="2530.8" y="1424.8" font-size="25.5" fill="#000">2<tspan font-size="15" dy="-12">t</tspan><tspan dy="12">- 1</tspan></text>
<line x1="2669.9" y1="1437.4" x2="2669.9" y2="1338.6" stroke="#000" stroke-width="3.2"/>
<polygon points="2669.9,1329.6 2675.4,1342.6 2664.4,1342.6" fill="#000"/>
<line x1="2653.2" y1="1405.7" x2="2757.5" y2="1405.7" stroke="#000" stroke-width="3.2"/>
<polygon points="2766.5,1405.7 2753.5,1411.2 2753.5,1400.2" fill="#000"/>
<line x1="2703.9" y1="1335.0" x2="2703.9" y2="1405.7" stroke="#e00000" stroke-width="3.2"/>
<text x="2753.5" y="1442.0" font-size="35" fill="#000" font-family="Liberation Serif, serif" font-style="italic">t</text>
<rect x="2813.2" y="788.3" width="494.3" height="684.1" fill="none" rx="18" stroke="#c55a11" stroke-width="3.8"/>
<text x="2875.9" y="831.8" font-size="35" fill="#ed7d31" textLength="365.4" lengthAdjust="spacingAndGlyphs">Training and inference</text>
<path d="M3048.7,860.8 C3048.9,860.2 3048.9,858.2 3049.6,857.3 C3050.4,856.3 3051.3,855.7 3053.1,855.3 C3054.9,854.9 3058.0,855.0 3060.4,854.8 C3062.9,854.6 3065.8,854.5 3067.8,854.2 C3069.7,853.9 3071.5,853.2 3072.3,853.0" fill="none" stroke="#ed7d31" stroke-width="4.4" stroke-linecap="round" stroke-linejoin="round"/>
<path d="M3061.4,855.0 C3061.1,856.2 3060.3,859.7 3059.8,862.0 C3059.2,864.2 3058.7,866.5 3058.0,868.5 C3057.3,870.6 3056.6,872.9 3055.5,874.2 C3054.5,875.6 3052.9,876.5 3051.6,876.7 C3050.3,876.9 3048.5,876.0 3047.9,875.5 C3047.4,874.9 3048.3,873.6 3048.3,873.3" fill="none" stroke="#ed7d31" stroke-width="4.4" stroke-linecap="round" stroke-linejoin="round"/>
<line x1="2908.3" y1="1018.6" x2="2908.3" y2="883.2" stroke="#000" stroke-width="3.2"/>
<polygon points="2908.3,875.2 2912.8,886.2 2903.8,886.2" fill="#000"/>
<line x1="2881.7" y1="980.0" x2="3078.9" y2="980.0" stroke="#000" stroke-width="3.2"/>
<polygon points="3086.9,980.0 3075.9,984.5 3075.9,975.5" fill="#000"/>
<line x1="2959.4" y1="952.5" x2="2959.4" y2="980.0" stroke="#e00000" stroke-width="3.2"/>
<line x1="3008.2" y1="888.3" x2="3008.2" y2="980.0" stroke="#e00000" stroke-width="3.2"/>
<text x="2958.5" y="1011.4" font-size="26" fill="#000" text-anchor="middle">1</text>
<text x="3009.6" y="1011.4" font-size="26" fill="#000" text-anchor="middle">3</text>
<text x="3078.0" y="1012.0" font-size="31" fill="#000" font-family="Liberation Serif, serif" font-style="italic">t</text>
<rect x="2847.0" y="1047.6" width="357.2" height="209.9" fill="#fcd8c4" rx="20" stroke="#f4b183" stroke-width="3"/>
<text x="3028.5" y="1081.4" font-size="26.5" fill="#000" text-anchor="middle" textLength="80.5" lengthAdjust="spacingAndGlyphs">Unfold</text>
<rect x="2883.2" y="1107.9" width="104.7" height="45.9" fill="#dae3f3" stroke="#b4c7e7" stroke-width="2"/>
<text x="2935.8" y="1142.7" font-size="34" fill="#000" text-anchor="middle">1</text>
<rect x="3041.0" y="1107.9" width="38.6" height="45.9" fill="#dae3f3" stroke="#b4c7e7" stroke-width="2"/>
<text x="3060.3" y="1142.7" font-size="34" fill="#000" text-anchor="middle">1</text>
<rect x="3085.9" y="1107.9" width="39.6" height="45.9" fill="#dae3f3" stroke="#b4c7e7" stroke-width="2"/>
<text x="3105.7" y="1142.7" font-size="34" fill="#000" text-anchor="middle">0</text>
<rect x="3131.3" y="1107.9" width="39.1" height="45.9" fill="#dae3f3" stroke="#b4c7e7" stroke-width="2"/>
<text x="3150.9" y="1142.7" font-size="34" fill="#000" text-anchor="middle">0</text>
<polygon points="2996.6,1124.8 3023.0,1124.8 3023.0,1120.7 3035.2,1128.2 3023.0,1135.7 3023.0,1131.6 2996.6,1131.6" fill="url(#gSA)"/>
<rect x="2883.2" y="1170.7" width="104.7" height="45.8" fill="#dae3f3" stroke="#b4c7e7" stroke-width="2"/>
<text x="2935.8" y="1205.4" font-size="34" fill="#000" text-anchor="middle">3</text>
<rect x="3041.0" y="1170.7" width="38.6" height="45.8" fill="#dae3f3" stroke="#b4c7e7" stroke-width="2"/>
<text x="3060.3" y="1205.4" font-size="34" fill="#000" text-anchor="middle">1</text>
<rect x="3085.9" y="1170.7" width="39.6" height="45.8" fill="#dae3f3" stroke="#b4c7e7" stroke-width="2"/>
<text x="3105.7" y="1205.4" font-size="34" fill="#000" text-anchor="middle">1</text>
<rect x="3131.3" y="1170.7" width="39.1" height="45.8" fill="#dae3f3" stroke="#b4c7e7" stroke-width="2"/>
<text x="3150.9" y="1205.4" font-size="34" fill="#000" text-anchor="middle">1</text>
<polygon points="2996.6,1187.5 3023.0,1187.5 3023.0,1183.4 3035.2,1190.9 3023.0,1198.4 3023.0,1194.3 2996.6,1194.3" fill="url(#gSA)"/>
<path d="M3140,953.4 H3222 A48.3,48.3 0 0 1 3270.3,1001.7 V1306 A48.3,48.3 0 0 1 3222,1354.1 H3188.2 V1367.6 L3140,1343 L3188.2,1317.9 V1332.4 H3222 A24.2,26 0 0 0 3246.2,1306 V1001.7 A24.2,26.5 0 0 0 3222,975.2 H3140 Z" fill="#ffe699"/>
<line x1="2907.3" y1="1432.3" x2="2907.3" y2="1277.6" stroke="#000" stroke-width="3.2"/>
<polygon points="2907.3,1269.6 2911.8,1280.6 2902.8,1280.6" fill="#000"/>
<line x1="2883.2" y1="1388.8" x2="3107.8" y2="1388.8" stroke="#000" stroke-width="3.2"/>
<polygon points="3115.8,1388.8 3104.8,1393.3 3104.8,1384.3" fill="#000"/>
<line x1="2929.5" y1="1357.5" x2="2929.5" y2="1388.8" stroke="#e00000" stroke-width="3.2"/>
<line x1="3015.4" y1="1357.5" x2="3015.4" y2="1388.8" stroke="#e00000" stroke-width="3.2"/>
<line x1="3049.7" y1="1357.5" x2="3049.7" y2="1388.8" stroke="#e00000" stroke-width="3.2"/>
<line x1="3084.0" y1="1357.5" x2="3084.0" y2="1388.8" stroke="#e00000" stroke-width="3.2"/>
<text x="2930.5" y="1425.5" font-size="26" fill="#000" text-anchor="middle">1</text>
<text x="2958.0" y="1425.5" font-size="26" fill="#000" text-anchor="middle">0</text>
<text x="2985.5" y="1425.5" font-size="26" fill="#000" text-anchor="middle">0</text>
<text x="3013.5" y="1425.5" font-size="26" fill="#000" text-anchor="middle">1</text>
<text x="3049.2" y="1425.5" font-size="26" fill="#000" text-anchor="middle">1</text>
<text x="3083.0" y="1425.5" font-size="26" fill="#000" text-anchor="middle">1</text>
<text x="3102.5" y="1426.0" font-size="31" fill="#000" font-family="Liberation Serif, serif" font-style="italic">t</text>
<text x="0.0" y="1598.5" font-size="75.5" fill="#000">c</text>
<rect x="51.0" y="1540.5" width="1325.0" height="525.0" fill="#fcf1e8" rx="17" stroke="#f5b0ba" stroke-width="3.3"/>
<text x="629.8" y="1599.4" font-size="46.5" fill="#4472c4" font-weight="bold" textLength="167.0" lengthAdjust="spacingAndGlyphs">Results</text>
<rect x="171.7" y="1650.3" width="198.6" height="349.5" fill="none" stroke="#000" stroke-width="1.9"/>
<line x1="165.7" y1="1686.6" x2="171.7" y2="1686.6" stroke="#000" stroke-width="1.6"/>
<text x="162.5" y="1695.9" font-size="26.5" fill="#000" text-anchor="end">300</text>
<line x1="165.7" y1="1791.0" x2="171.7" y2="1791.0" stroke="#000" stroke-width="1.6"/>
<text x="162.5" y="1800.3" font-size="26.5" fill="#000" text-anchor="end">200</text>
<line x1="165.7" y1="1895.4" x2="171.7" y2="1895.4" stroke="#000" stroke-width="1.6"/>
<text x="162.5" y="1904.7" font-size="26.5" fill="#000" text-anchor="end">100</text>
<line x1="165.7" y1="1999.8" x2="171.7" y2="1999.8" stroke="#000" stroke-width="1.6"/>
<text x="162.5" y="2009.1" font-size="26.5" fill="#000" text-anchor="end">0</text>
<rect x="180.6" y="1713.6" width="52.3" height="286.2" fill="#dff5f7" stroke="#222" stroke-width="1.3"/>
<rect x="309.4" y="1985.5" width="52.0" height="14.3" fill="#4a86e0" stroke="#222" stroke-width="1.3"/>
<line x1="205.5" y1="1999.8" x2="205.5" y2="2004.8" stroke="#000" stroke-width="1.6"/>
<text x="205.5" y="2028.3" font-size="26.8" fill="#000" text-anchor="middle">GPU</text>
<line x1="334.7" y1="1999.8" x2="334.7" y2="2004.8" stroke="#000" stroke-width="1.6"/>
<text x="334.7" y="2028.3" font-size="26.8" fill="#000" text-anchor="middle">FPGA</text>
<text x="0.0" y="0.0" font-size="38.5" fill="#000" text-anchor="middle" textLength="338.0" lengthAdjust="spacingAndGlyphs" transform="translate(99.5,1823.7) rotate(-90)">Dynamic power (W)</text>
<text x="237.5" y="1836.0" font-size="35" fill="#000" textLength="87.2" lengthAdjust="spacingAndGlyphs">19.8×</text>
<line x1="232.9" y1="1713.6" x2="320.0" y2="1713.6" stroke="#000" stroke-width="1.2" stroke-dasharray="5 3"/>
<line x1="290.9" y1="1985.5" x2="309.4" y2="1985.5" stroke="#000" stroke-width="1.2" stroke-dasharray="5 3"/>
<line x1="306.9" y1="1713.6" x2="306.9" y2="1985.5" stroke="#444" stroke-width="0.8" stroke-dasharray="3 2"/>
<path d="M303.29999999999995,1722.6 L306.9,1715.1 L310.5,1722.6" fill="none" stroke="#000" stroke-width="1" stroke-dasharray="4 1.5"/>
<path d="M303.29999999999995,1976.5 L306.9,1984.0 L310.5,1976.5" fill="none" stroke="#000" stroke-width="1" stroke-dasharray="4 1.5"/>
<rect x="509.0" y="1650.3" width="198.3" height="349.5" fill="none" stroke="#000" stroke-width="1.9"/>
<line x1="503.0" y1="1708.7" x2="509.0" y2="1708.7" stroke="#000" stroke-width="1.6"/>
<text x="501.0" y="1718.0" font-size="26.5" fill="#000" text-anchor="end">20</text>
<line x1="503.0" y1="1781.5" x2="509.0" y2="1781.5" stroke="#000" stroke-width="1.6"/>
<text x="501.0" y="1790.8" font-size="26.5" fill="#000" text-anchor="end">15</text>
<line x1="503.0" y1="1854.3" x2="509.0" y2="1854.3" stroke="#000" stroke-width="1.6"/>
<text x="501.0" y="1863.6" font-size="26.5" fill="#000" text-anchor="end">10</text>
<line x1="503.0" y1="1927.0" x2="509.0" y2="1927.0" stroke="#000" stroke-width="1.6"/>
<text x="501.0" y="1936.3" font-size="26.5" fill="#000" text-anchor="end">5</text>
<line x1="503.0" y1="1999.8" x2="509.0" y2="1999.8" stroke="#000" stroke-width="1.6"/>
<text x="501.0" y="2009.1" font-size="26.5" fill="#000" text-anchor="end">0</text>
<rect x="518.0" y="1713.6" width="51.6" height="286.2" fill="#e2f5d8" stroke="#222" stroke-width="1.3"/>
<rect x="646.8" y="1986.2" width="51.6" height="13.6" fill="#7cc47c" stroke="#222" stroke-width="1.3"/>
<line x1="544.3" y1="1999.8" x2="544.3" y2="2004.8" stroke="#000" stroke-width="1.6"/>
<text x="544.3" y="2028.3" font-size="26.8" fill="#000" text-anchor="middle">GPU</text>
<line x1="672.8" y1="1999.8" x2="672.8" y2="2004.8" stroke="#000" stroke-width="1.6"/>
<text x="672.8" y="2028.3" font-size="26.8" fill="#000" text-anchor="middle">FPGA</text>
<text x="0.0" y="0.0" font-size="38.5" fill="#000" text-anchor="middle" textLength="229.6" lengthAdjust="spacingAndGlyphs" transform="translate(455.5,1824.5) rotate(-90)">Memory (GB)</text>
<text x="574.9" y="1836.0" font-size="35" fill="#000" textLength="87.9" lengthAdjust="spacingAndGlyphs">21.3×</text>
<line x1="569.6" y1="1713.6" x2="657.5" y2="1713.6" stroke="#000" stroke-width="1.2" stroke-dasharray="5 3"/>
<line x1="627.2" y1="1986.2" x2="646.8" y2="1986.2" stroke="#000" stroke-width="1.2" stroke-dasharray="5 3"/>
<line x1="644.0" y1="1713.6" x2="644.0" y2="1986.2" stroke="#444" stroke-width="0.8" stroke-dasharray="3 2"/>
<path d="M640.4,1722.6 L644,1715.1 L647.6,1722.6" fill="none" stroke="#000" stroke-width="1" stroke-dasharray="4 1.5"/>
<path d="M640.4,1977.2 L644,1984.7 L647.6,1977.2" fill="none" stroke="#000" stroke-width="1" stroke-dasharray="4 1.5"/>
<rect x="847.0" y="1650.3" width="197.6" height="349.5" fill="none" stroke="#000" stroke-width="1.9"/>
<line x1="841.0" y1="1733.9" x2="847.0" y2="1733.9" stroke="#000" stroke-width="1.6"/>
<text x="837.4" y="1743.2" font-size="26.5" fill="#000" text-anchor="end">150</text>
<line x1="841.0" y1="1822.5" x2="847.0" y2="1822.5" stroke="#000" stroke-width="1.6"/>
<text x="837.4" y="1831.8" font-size="26.5" fill="#000" text-anchor="end">100</text>
<line x1="841.0" y1="1911.2" x2="847.0" y2="1911.2" stroke="#000" stroke-width="1.6"/>
<text x="837.4" y="1920.5" font-size="26.5" fill="#000" text-anchor="end">50</text>
<line x1="841.0" y1="1999.8" x2="847.0" y2="1999.8" stroke="#000" stroke-width="1.6"/>
<text x="837.4" y="2009.1" font-size="26.5" fill="#000" text-anchor="end">0</text>
<rect x="855.2" y="1867.4" width="51.6" height="132.4" fill="#fdeede" stroke="#222" stroke-width="1.3"/>
<rect x="984.1" y="1713.6" width="51.6" height="286.2" fill="#ffa07a" stroke="#222" stroke-width="1.3"/>
<line x1="880.9" y1="1999.8" x2="880.9" y2="2004.8" stroke="#000" stroke-width="1.6"/>
<text x="880.9" y="2028.3" font-size="26.8" fill="#000" text-anchor="middle">GPU</text>
<line x1="1010.0" y1="1999.8" x2="1010.0" y2="2004.8" stroke="#000" stroke-width="1.6"/>
<text x="1010.0" y="2028.3" font-size="26.8" fill="#000" text-anchor="middle">FPGA</text>
<text x="0.0" y="0.0" font-size="38.5" fill="#000" text-anchor="middle" textLength="363.0" lengthAdjust="spacingAndGlyphs" transform="translate(779.5,1825.4) rotate(-90)">Throughput (tokens<tspan font-size="24" dy="-14">-1</tspan><tspan dy="14">)</tspan></text>
<text x="857.0" y="1836.0" font-size="35" fill="#000" textLength="68.7" lengthAdjust="spacingAndGlyphs">2.2×</text>
<line x1="884.4" y1="1713.6" x2="984.1" y2="1713.6" stroke="#000" stroke-width="1.2" stroke-dasharray="5 3"/>
<line x1="906.8" y1="1867.4" x2="922.9" y2="1867.4" stroke="#000" stroke-width="1.2" stroke-dasharray="5 3"/>
<line x1="907.6" y1="1713.6" x2="907.6" y2="1867.4" stroke="#444" stroke-width="0.8" stroke-dasharray="3 2"/>
<path d="M904.0,1722.6 L907.6,1715.1 L911.2,1722.6" fill="none" stroke="#000" stroke-width="1" stroke-dasharray="4 1.5"/>
<path d="M904.0,1858.4 L907.6,1865.9 L911.2,1858.4" fill="none" stroke="#000" stroke-width="1" stroke-dasharray="4 1.5"/>
<text x="1055.6" y="1944.6" font-size="41.5" fill="#4472c4" font-weight="bold" textLength="305.0" lengthAdjust="spacingAndGlyphs">Implementation</text>
<text x="1120.4" y="2003.3" font-size="41.5" fill="#4472c4" font-weight="bold" textLength="175.4" lengthAdjust="spacingAndGlyphs">on FPGA</text>
<rect x="1441.9" y="1618.8" width="379.1" height="345.2" fill="url(#gCB)" rx="36"/>
<text x="1631.5" y="1722.2" font-size="46.5" fill="#fff" text-anchor="middle" textLength="294.0" lengthAdjust="spacingAndGlyphs">Neuromorphic</text>
<text x="1631.5" y="1777.9" font-size="46.5" fill="#fff" text-anchor="middle" textLength="250.8" lengthAdjust="spacingAndGlyphs">spike-based</text>
<text x="1631.5" y="1834.7" font-size="46.5" fill="#fff" text-anchor="middle" textLength="309.0" lengthAdjust="spacingAndGlyphs">large language</text>
<text x="1631.5" y="1891.1" font-size="46.5" fill="#fff" text-anchor="middle" textLength="149.0" lengthAdjust="spacingAndGlyphs">models</text>
<polygon points="1369.0,1793.5 1406.0,1736.6 1406.0,1765.4 1430.8,1765.4 1430.8,1822.9 1406.0,1822.9 1406.0,1850.5" fill="url(#gAL)"/>
<g transform="translate(1060,1620) scale(0.172)">
<path d="M197,373 L270,430 L270,620" fill="none" stroke="#111" stroke-width="6"/>
<path d="M265,345 L345,405 L345,590" fill="none" stroke="#111" stroke-width="6"/>
<path d="M305,325 L385,380 L385,560" fill="none" stroke="#111" stroke-width="6"/>
<path d="M378,275 L460,335 L460,500" fill="none" stroke="#111" stroke-width="6"/>
<path d="M450,240 L535,295 L535,450" fill="none" stroke="#111" stroke-width="6"/>
<path d="M520,193 L595,245 L595,410" fill="none" stroke="#111" stroke-width="6"/>
<path d="M553,143 L655,200 L655,370" fill="none" stroke="#111" stroke-width="6"/>
<circle cx="197.0" cy="373.0" r="13.0" fill="#f0883e"/>
<circle cx="265.0" cy="345.0" r="13.0" fill="#f0883e"/>
<circle cx="378.0" cy="275.0" r="13.0" fill="#f0883e"/>
<circle cx="345.0" cy="400.0" r="13.0" fill="#f0883e"/>
<circle cx="553.0" cy="143.0" r="13.0" fill="#f0883e"/>
<circle cx="595.0" cy="243.0" r="13.0" fill="#f0883e"/>
<circle cx="645.0" cy="193.0" r="13.0" fill="#f0883e"/>
<circle cx="535.0" cy="290.0" r="13.0" fill="#f0883e"/>
<line x1="1230.0" y1="1060.0" x2="1350.0" y2="1155.0" stroke="#111" stroke-width="6"/>
<line x1="1320.0" y1="1000.0" x2="1437.0" y2="1083.0" stroke="#111" stroke-width="6"/>
<line x1="1400.0" y1="930.0" x2="1470.0" y2="990.0" stroke="#111" stroke-width="6"/>
<line x1="1030.0" y1="1195.0" x2="1135.0" y2="1265.0" stroke="#111" stroke-width="6"/>
<line x1="990.0" y1="1215.0" x2="1095.0" y2="1293.0" stroke="#111" stroke-width="6"/>
<line x1="560.0" y1="1105.0" x2="467.0" y2="1170.0" stroke="#111" stroke-width="6"/>
<line x1="580.0" y1="1200.0" x2="552.0" y2="1235.0" stroke="#111" stroke-width="6"/>
<line x1="770.0" y1="1330.0" x2="680.0" y2="1388.0" stroke="#111" stroke-width="6"/>
<line x1="467.0" y1="1170.0" x2="467.0" y2="1250.0" stroke="#111" stroke-width="6"/>
<line x1="552.0" y1="1235.0" x2="552.0" y2="1313.0" stroke="#111" stroke-width="6"/>
<circle cx="1470.0" cy="990.0" r="15.0" fill="#f0883e"/>
<circle cx="1437.0" cy="1083.0" r="15.0" fill="#f0883e"/>
<circle cx="1350.0" cy="1155.0" r="15.0" fill="#f0883e"/>
<circle cx="1135.0" cy="1265.0" r="15.0" fill="#f0883e"/>
<circle cx="1095.0" cy="1293.0" r="15.0" fill="#f0883e"/>
<circle cx="467.0" cy="1250.0" r="15.0" fill="#f0883e"/>
<circle cx="552.0" cy="1313.0" r="15.0" fill="#f0883e"/>
<circle cx="680.0" cy="1388.0" r="15.0" fill="#f0883e"/>
<polygon points="120.0,890.0 175.0,855.0 500.0,1080.0 420.0,1135.0" fill="#17866c"/>
<polygon points="120.0,890.0 420.0,1135.0 420.0,1160.0 120.0,915.0" fill="#15191a"/>
<polygon points="585.0,1170.0 700.0,1100.0 1480.0,740.0 1505.0,830.0 800.0,1330.0" fill="#17866c"/>
<polygon points="585.0,1170.0 800.0,1330.0 800.0,1354.0 585.0,1194.0" fill="#15191a"/>
<polygon points="800.0,1330.0 1505.0,830.0 1505.0,854.0 800.0,1354.0" fill="#0b0f0f"/>
<polygon points="824.3,1259.3 838.0,1249.1 868.0,1269.0 854.4,1279.1" fill="#f5c860"/>
<polygon points="852.6,1238.3 866.2,1228.1 896.2,1247.9 882.6,1258.1" fill="#f5c860"/>
<polygon points="880.8,1217.2 894.4,1207.1 924.5,1226.9 910.8,1237.1" fill="#f5c860"/>
<polygon points="909.0,1196.2 922.6,1186.1 952.7,1205.9 939.1,1216.1" fill="#f5c860"/>
<polygon points="937.2,1175.2 950.9,1165.1 980.9,1184.9 967.3,1195.1" fill="#f5c860"/>
<polygon points="965.5,1154.2 979.1,1144.1 1009.2,1163.9 995.5,1174.0" fill="#f5c860"/>
<polygon points="993.7,1133.2 1007.3,1123.0 1037.4,1142.9 1023.8,1153.0" fill="#f5c860"/>
<polygon points="1021.9,1112.2 1035.6,1102.0 1065.6,1121.9 1052.0,1132.0" fill="#f5c860"/>
<polygon points="1050.2,1091.2 1063.8,1081.0 1093.9,1100.8 1080.2,1111.0" fill="#f5c860"/>
<polygon points="1078.4,1070.1 1092.0,1060.0 1122.1,1079.8 1108.5,1090.0" fill="#f5c860"/>
<polygon points="1106.6,1049.1 1120.3,1039.0 1150.3,1058.8 1136.7,1069.0" fill="#f5c860"/>
<polygon points="1134.9,1028.1 1148.5,1018.0 1178.6,1037.8 1164.9,1048.0" fill="#f5c860"/>
<polygon points="1163.1,1007.1 1176.7,997.0 1206.8,1016.8 1193.1,1026.9" fill="#f5c860"/>
<polygon points="1191.3,986.1 1205.0,975.9 1235.0,995.8 1221.4,1005.9" fill="#f5c860"/>
<polygon points="1219.5,965.1 1233.2,954.9 1263.2,974.8 1249.6,984.9" fill="#f5c860"/>
<polygon points="1247.8,944.1 1261.4,933.9 1291.5,953.7 1277.8,963.9" fill="#f5c860"/>
<polygon points="1276.0,923.0 1289.6,912.9 1319.7,932.7 1306.1,942.9" fill="#f5c860"/>
<polygon points="1304.2,902.0 1317.9,891.9 1347.9,911.7 1334.3,921.9" fill="#f5c860"/>
<polygon points="1332.5,881.0 1346.1,870.9 1376.2,890.7 1362.5,900.9" fill="#f5c860"/>
<polygon points="1360.7,860.0 1374.3,849.9 1404.4,869.7 1390.8,879.8" fill="#f5c860"/>
<polygon points="1388.9,839.0 1402.6,828.8 1432.6,848.7 1419.0,858.8" fill="#f5c860"/>
<polygon points="1417.2,818.0 1430.8,807.8 1460.9,827.7 1447.2,837.8" fill="#f5c860"/>
<polygon points="1445.4,797.0 1459.0,786.8 1489.1,806.6 1475.5,816.8" fill="#f5c860"/>
<polygon points="1473.6,775.9 1487.3,765.8 1517.3,785.6 1503.7,795.8" fill="#f5c860"/>
<line x1="170.0" y1="905.0" x2="192.0" y2="891.0" stroke="#e8efe8" stroke-width="6"/>
<line x1="194.0" y1="923.0" x2="216.0" y2="909.0" stroke="#e8efe8" stroke-width="6"/>
<line x1="218.0" y1="941.0" x2="240.0" y2="927.0" stroke="#e8efe8" stroke-width="6"/>
<line x1="242.0" y1="959.0" x2="264.0" y2="945.0" stroke="#e8efe8" stroke-width="6"/>
<line x1="266.0" y1="977.0" x2="288.0" y2="963.0" stroke="#e8efe8" stroke-width="6"/>
<line x1="290.0" y1="995.0" x2="312.0" y2="981.0" stroke="#e8efe8" stroke-width="6"/>
<line x1="314.0" y1="1013.0" x2="336.0" y2="999.0" stroke="#e8efe8" stroke-width="6"/>
<line x1="338.0" y1="1031.0" x2="360.0" y2="1017.0" stroke="#e8efe8" stroke-width="6"/>
<line x1="362.0" y1="1049.0" x2="384.0" y2="1035.0" stroke="#e8efe8" stroke-width="6"/>
<line x1="386.0" y1="1067.0" x2="408.0" y2="1053.0" stroke="#e8efe8" stroke-width="6"/>
<polygon points="95.0,770.0 840.0,290.0 1525.0,695.0 800.0,1235.0" fill="#17866c"/>
<polygon points="95.0,770.0 800.0,1235.0 800.0,1262.0 95.0,797.0" fill="#0e5f4d"/>
<polygon points="800.0,1235.0 1525.0,695.0 1525.0,722.0 800.0,1262.0" fill="#0c4d3e"/>
<polygon points="95.0,790.0 800.0,1255.0 800.0,1268.0 95.0,803.0" fill="#15191a"/>
<polygon points="800.0,1255.0 1525.0,715.0 1525.0,728.0 800.0,1268.0" fill="#15191a"/>
<g fill="none" stroke="#e6f2ee" stroke-width="5" stroke-linejoin="round">
<path d="M690,745 L690,775 L560,860 L450,870 C415,880 415,920 450,935 L520,935 L560,905 L720,800 L870,790" fill="none"/>
<path d="M580,920 L740,830 L880,815" fill="none"/>
<path d="M610,940 L760,855 L840,835" fill="none"/>
<path d="M360,850 L380,920 L470,990 L560,935" fill="none"/>
<path d="M1020,580 C1040,560 1080,565 1110,590 L1300,720" fill="none"/>
<path d="M1100,660 L1160,615 L1330,735" fill="none"/>
<path d="M930,1020 L985,990 L1030,960" fill="none"/>
</g>
<path d="M1060,545 L1150,570 L1330,690 L1330,740" fill="none" stroke="#f5c860" stroke-width="6"/>
<polygon points="475.0,515.0 670.0,375.0 685.0,387.0 487.0,527.0" fill="#f5c860"/>
<polygon points="290.0,640.0 370.0,588.0 382.0,600.0 302.0,652.0" fill="#f5c860"/>
<polygon points="585.0,505.0 715.0,420.0 775.0,480.0 650.0,560.0" fill="#f5c860"/>
<polygon points="370.0,665.0 440.0,620.0 590.0,740.0 520.0,790.0" fill="#f5c860"/>
<polygon points="650.0,560.0 775.0,480.0 775.0,492.0 650.0,572.0" fill="#0e5f4d"/>
<polygon points="520.0,790.0 590.0,740.0 590.0,752.0 520.0,802.0" fill="#0e5f4d"/>
<line x1="965.0" y1="395.0" x2="983.0" y2="383.0" stroke="#dfeee8" stroke-width="6"/>
<line x1="981.0" y1="405.0" x2="999.0" y2="393.0" stroke="#dfeee8" stroke-width="6"/>
<line x1="997.0" y1="415.0" x2="1015.0" y2="403.0" stroke="#dfeee8" stroke-width="6"/>
<line x1="1013.0" y1="425.0" x2="1031.0" y2="413.0" stroke="#dfeee8" stroke-width="6"/>
<line x1="1029.0" y1="435.0" x2="1047.0" y2="423.0" stroke="#dfeee8" stroke-width="6"/>
<line x1="1045.0" y1="445.0" x2="1063.0" y2="433.0" stroke="#dfeee8" stroke-width="6"/>
<line x1="1061.0" y1="455.0" x2="1079.0" y2="443.0" stroke="#dfeee8" stroke-width="6"/>
<line x1="1077.0" y1="465.0" x2="1095.0" y2="453.0" stroke="#dfeee8" stroke-width="6"/>
<line x1="1093.0" y1="475.0" x2="1111.0" y2="463.0" stroke="#dfeee8" stroke-width="6"/>
<line x1="1109.0" y1="485.0" x2="1127.0" y2="473.0" stroke="#dfeee8" stroke-width="6"/>
<line x1="1125.0" y1="495.0" x2="1143.0" y2="483.0" stroke="#dfeee8" stroke-width="6"/>
<line x1="1141.0" y1="505.0" x2="1159.0" y2="493.0" stroke="#dfeee8" stroke-width="6"/>
<line x1="1165.0" y1="760.0" x2="1187.0" y2="745.0" stroke="#dfeee8" stroke-width="6"/>
<line x1="1181.0" y1="769.0" x2="1203.0" y2="754.0" stroke="#dfeee8" stroke-width="6"/>
<line x1="1197.0" y1="778.0" x2="1219.0" y2="763.0" stroke="#dfeee8" stroke-width="6"/>
<line x1="1213.0" y1="787.0" x2="1235.0" y2="772.0" stroke="#dfeee8" stroke-width="6"/>
<line x1="1229.0" y1="796.0" x2="1251.0" y2="781.0" stroke="#dfeee8" stroke-width="6"/>
<circle cx="715.0" cy="693.0" r="11.0" fill="#f5c860"/>
<circle cx="790.0" cy="745.0" r="11.0" fill="#f5c860"/>
<circle cx="888.0" cy="815.0" r="11.0" fill="#f5c860"/>
<circle cx="915.0" cy="835.0" r="11.0" fill="#f5c860"/>
<circle cx="1150.0" cy="825.0" r="11.0" fill="#f5c860"/>
<circle cx="680.0" cy="738.0" r="12.0" fill="#f0883e"/>
<circle cx="478.0" cy="898.0" r="12.0" fill="#f0883e"/>
<circle cx="775.0" cy="855.0" r="12.0" fill="#f0883e"/>
<circle cx="832.0" cy="833.0" r="12.0" fill="#f0883e"/>
<circle cx="1255.0" cy="712.0" r="12.0" fill="#f0883e"/>
<circle cx="1295.0" cy="735.0" r="12.0" fill="#f0883e"/>
<circle cx="1328.0" cy="760.0" r="12.0" fill="#f0883e"/>
<circle cx="1395.0" cy="707.0" r="24.0" fill="#15191a" stroke="#f5c860" stroke-width="10"/>
<circle cx="1252.0" cy="845.0" r="24.0" fill="#15191a" stroke="#f5c860" stroke-width="10"/>
<circle cx="795.0" cy="1145.0" r="24.0" fill="#15191a" stroke="#f5c860" stroke-width="10"/>
<ellipse cx="733.0" cy="340.0" rx="14.0" ry="10.0" fill="#15191a" stroke="#f5c860" stroke-width="6"/>
<ellipse cx="905.0" cy="360.0" rx="14.0" ry="10.0" fill="#15191a" stroke="#f5c860" stroke-width="6"/>
<ellipse cx="825.0" cy="405.0" rx="14.0" ry="10.0" fill="#15191a" stroke="#f5c860" stroke-width="6"/>
<polygon points="700.0,575.0 850.0,475.0 1135.0,680.0 985.0,785.0" fill="#15191a"/>
<polygon points="700.0,575.0 985.0,785.0 985.0,840.0 700.0,628.0" fill="#0b0e0e"/>
<polygon points="985.0,785.0 1135.0,680.0 1135.0,760.0 985.0,840.0" fill="#1d2222"/>
<line x1="760.0" y1="560.0" x2="855.0" y2="498.0" stroke="#8a9090" stroke-width="3" stroke-dasharray="14 9 30 8"/>
<line x1="786.0" y1="579.0" x2="881.0" y2="517.0" stroke="#8a9090" stroke-width="3" stroke-dasharray="14 9 30 8"/>
<line x1="812.0" y1="598.0" x2="907.0" y2="536.0" stroke="#8a9090" stroke-width="3" stroke-dasharray="14 9 30 8"/>
<line x1="838.0" y1="617.0" x2="933.0" y2="555.0" stroke="#8a9090" stroke-width="3" stroke-dasharray="14 9 30 8"/>
<line x1="864.0" y1="636.0" x2="959.0" y2="574.0" stroke="#8a9090" stroke-width="3" stroke-dasharray="14 9 30 8"/>
<line x1="890.0" y1="655.0" x2="985.0" y2="593.0" stroke="#8a9090" stroke-width="3" stroke-dasharray="14 9 30 8"/>
<line x1="916.0" y1="674.0" x2="1011.0" y2="612.0" stroke="#8a9090" stroke-width="3" stroke-dasharray="14 9 30 8"/>
<line x1="942.0" y1="693.0" x2="1037.0" y2="631.0" stroke="#8a9090" stroke-width="3" stroke-dasharray="14 9 30 8"/>
<line x1="968.0" y1="712.0" x2="1063.0" y2="650.0" stroke="#8a9090" stroke-width="3" stroke-dasharray="14 9 30 8"/>
<polygon points="1020.0,805.0 1042.0,790.0 1042.0,813.0 1020.0,828.0" fill="#e8e8e8"/>
<polygon points="1058.0,778.0 1080.0,763.0 1080.0,786.0 1058.0,801.0" fill="#e8e8e8"/>
<polygon points="1096.0,751.0 1118.0,736.0 1118.0,759.0 1096.0,774.0" fill="#e8e8e8"/>
<polygon points="215.0,780.0 300.0,725.0 390.0,790.0 305.0,850.0" fill="#8a8e8e"/>
<polygon points="215.0,780.0 305.0,850.0 305.0,888.0 215.0,818.0" fill="#2a2e2e"/>
<polygon points="305.0,850.0 390.0,790.0 390.0,828.0 305.0,888.0" fill="#4a4e4e"/>
<line x1="232.0" y1="772.0" x2="305.0" y2="725.0" stroke="#d8d8d8" stroke-width="3" stroke-dasharray="6 6"/>
<line x1="249.0" y1="785.0" x2="322.0" y2="738.0" stroke="#d8d8d8" stroke-width="3" stroke-dasharray="6 6"/>
<line x1="266.0" y1="798.0" x2="339.0" y2="751.0" stroke="#d8d8d8" stroke-width="3" stroke-dasharray="6 6"/>
<line x1="283.0" y1="811.0" x2="356.0" y2="764.0" stroke="#d8d8d8" stroke-width="3" stroke-dasharray="6 6"/>
<line x1="300.0" y1="824.0" x2="373.0" y2="777.0" stroke="#d8d8d8" stroke-width="3" stroke-dasharray="6 6"/>
<polygon points="780.0,990.0 855.0,945.0 925.0,1000.0 850.0,1050.0" fill="#6a6e6e"/>
<polygon points="780.0,990.0 850.0,1050.0 850.0,1082.0 780.0,1022.0" fill="#1a1e1e"/>
<polygon points="850.0,1050.0 925.0,1000.0 925.0,1032.0 850.0,1082.0" fill="#3a3e3e"/>
<line x1="798.0" y1="985.0" x2="858.0" y2="948.0" stroke="#c0c0c0" stroke-width="3" stroke-dasharray="6 6"/>
<line x1="815.0" y1="997.0" x2="875.0" y2="960.0" stroke="#c0c0c0" stroke-width="3" stroke-dasharray="6 6"/>
<line x1="832.0" y1="1009.0" x2="892.0" y2="972.0" stroke="#c0c0c0" stroke-width="3" stroke-dasharray="6 6"/>
<line x1="849.0" y1="1021.0" x2="909.0" y2="984.0" stroke="#c0c0c0" stroke-width="3" stroke-dasharray="6 6"/>
<polygon points="980.0,905.0 1050.0,865.0 1150.0,935.0 1075.0,985.0" fill="#202424"/>
<polygon points="980.0,905.0 1075.0,985.0 1075.0,1005.0 980.0,925.0" fill="#0b0e0e"/>
<polygon points="1075.0,985.0 1150.0,935.0 1150.0,955.0 1075.0,1005.0" fill="#151919"/>
<line x1="1052.0" y1="985.0" x2="1062.0" y2="1000.0" stroke="#d8d8d8" stroke-width="0"/>
<line x1="1068.0" y1="985.0" x2="1078.0" y2="1000.0" stroke="#d8d8d8" stroke-width="0"/>
<line x1="1084.0" y1="985.0" x2="1094.0" y2="1000.0" stroke="#d8d8d8" stroke-width="0"/>
<line x1="1100.0" y1="985.0" x2="1110.0" y2="1000.0" stroke="#d8d8d8" stroke-width="0"/>
<line x1="1116.0" y1="985.0" x2="1126.0" y2="1000.0" stroke="#d8d8d8" stroke-width="0"/>
<line x1="1132.0" y1="985.0" x2="1142.0" y2="1000.0" stroke="#d8d8d8" stroke-width="0"/>
<line x1="1000.0" y1="925.0" x2="1045.0" y2="897.0" stroke="#9aa0a0" stroke-width="3" stroke-dasharray="5 5"/>
<line x1="1014.0" y1="935.0" x2="1059.0" y2="907.0" stroke="#9aa0a0" stroke-width="3" stroke-dasharray="5 5"/>
<line x1="1028.0" y1="945.0" x2="1073.0" y2="917.0" stroke="#9aa0a0" stroke-width="3" stroke-dasharray="5 5"/>
<line x1="1042.0" y1="955.0" x2="1087.0" y2="927.0" stroke="#9aa0a0" stroke-width="3" stroke-dasharray="5 5"/>
<line x1="1056.0" y1="965.0" x2="1101.0" y2="937.0" stroke="#9aa0a0" stroke-width="3" stroke-dasharray="5 5"/>
<line x1="1070.0" y1="975.0" x2="1115.0" y2="947.0" stroke="#9aa0a0" stroke-width="3" stroke-dasharray="5 5"/>
<polygon points="545.0,940.0 590.0,915.0 715.0,1010.0 715.0,1075.0 690.0,1095.0 545.0,1000.0" fill="#e8e8e4" stroke="#555" stroke-width="3"/>
<line x1="560.0" y1="955.0" x2="560.0" y2="1003.0" stroke="#666" stroke-width="4"/>
<line x1="579.0" y1="969.0" x2="579.0" y2="1017.0" stroke="#666" stroke-width="4"/>
<line x1="598.0" y1="983.0" x2="598.0" y2="1031.0" stroke="#666" stroke-width="4"/>
<line x1="617.0" y1="997.0" x2="617.0" y2="1045.0" stroke="#666" stroke-width="4"/>
<line x1="636.0" y1="1011.0" x2="636.0" y2="1059.0" stroke="#666" stroke-width="4"/>
<line x1="655.0" y1="1025.0" x2="655.0" y2="1073.0" stroke="#666" stroke-width="4"/>
<line x1="674.0" y1="1039.0" x2="674.0" y2="1087.0" stroke="#666" stroke-width="4"/>
<polygon points="710.0,165.0 800.0,95.0 930.0,180.0 830.0,230.0" fill="#222828"/>
<polygon points="710.0,165.0 830.0,230.0 830.0,375.0 720.0,320.0" fill="#15191a"/>
<polygon points="830.0,230.0 930.0,180.0 930.0,330.0 830.0,375.0" fill="#1d2424"/>
<line x1="845.0" y1="245.0" x2="870.0" y2="236.0" stroke="#d8e8e0" stroke-width="6"/>
<line x1="890.0" y1="228.0" x2="915.0" y2="219.0" stroke="#3aa880" stroke-width="6"/>
<line x1="845.0" y1="265.0" x2="870.0" y2="256.0" stroke="#d8e8e0" stroke-width="6"/>
<line x1="890.0" y1="248.0" x2="915.0" y2="239.0" stroke="#3aa880" stroke-width="6"/>
<line x1="845.0" y1="285.0" x2="870.0" y2="276.0" stroke="#d8e8e0" stroke-width="6"/>
<line x1="890.0" y1="268.0" x2="915.0" y2="259.0" stroke="#3aa880" stroke-width="6"/>
<line x1="845.0" y1="305.0" x2="870.0" y2="296.0" stroke="#d8e8e0" stroke-width="6"/>
<line x1="890.0" y1="288.0" x2="915.0" y2="279.0" stroke="#3aa880" stroke-width="6"/>
<line x1="845.0" y1="325.0" x2="870.0" y2="316.0" stroke="#d8e8e0" stroke-width="6"/>
<line x1="890.0" y1="308.0" x2="915.0" y2="299.0" stroke="#3aa880" stroke-width="6"/>
<line x1="845.0" y1="345.0" x2="870.0" y2="336.0" stroke="#d8e8e0" stroke-width="6"/>
<line x1="890.0" y1="328.0" x2="915.0" y2="319.0" stroke="#3aa880" stroke-width="6"/>
<path d="M138,535 L138,685 A62,38 0 0 0 262,685 L262,535 Z" fill="#f0883e"/>
<path d="M215.5,557.8 L215.5,721.1 A62,38 0 0 0 262,685 L262,535 Z" fill="#f5c060"/>
<line x1="172.1" y1="573.0" x2="172.1" y2="717.3" stroke="#d86a28" stroke-width="5"/>
<ellipse cx="200.0" cy="535.0" rx="62.0" ry="38.0" fill="#f29a50" stroke="#e07830" stroke-width="4"/>
<ellipse cx="200.0" cy="535.0" rx="34.1" ry="20.9" fill="#fdf4ee"/>
<path d="M1177,395 L1177,535 A58,36 0 0 0 1293,535 L1293,395 Z" fill="#f0883e"/>
<path d="M1249.5,416.6 L1249.5,569.2 A58,36 0 0 0 1293,535 L1293,395 Z" fill="#f5c060"/>
<line x1="1208.9" y1="431.0" x2="1208.9" y2="565.6" stroke="#d86a28" stroke-width="5"/>
<ellipse cx="1235.0" cy="395.0" rx="58.0" ry="36.0" fill="#f29a50" stroke="#e07830" stroke-width="4"/>
<ellipse cx="1235.0" cy="395.0" rx="31.9" ry="19.8" fill="#fdf4ee"/>
<line x1="1345.0" y1="560.0" x2="1345.0" y2="510.0" stroke="#cfe8dc" stroke-width="8"/>
<line x1="1359.0" y1="568.0" x2="1359.0" y2="520.0" stroke="#0c5a48" stroke-width="8"/>
<line x1="1385.0" y1="590.0" x2="1385.0" y2="540.0" stroke="#cfe8dc" stroke-width="8"/>
<line x1="1399.0" y1="598.0" x2="1399.0" y2="550.0" stroke="#0c5a48" stroke-width="8"/>
<line x1="1430.0" y1="610.0" x2="1430.0" y2="560.0" stroke="#cfe8dc" stroke-width="8"/>
<line x1="1444.0" y1="618.0" x2="1444.0" y2="570.0" stroke="#0c5a48" stroke-width="8"/>
<circle cx="1400.0" cy="640.0" r="9.0" fill="#f0883e"/>
<line x1="560.0" y1="590.0" x2="590.0" y2="575.0" stroke="#bfe0d4" stroke-width="4"/>
<line x1="568.0" y1="612.0" x2="598.0" y2="597.0" stroke="#bfe0d4" stroke-width="4"/>
<line x1="576.0" y1="634.0" x2="606.0" y2="619.0" stroke="#bfe0d4" stroke-width="4"/>
<line x1="584.0" y1="656.0" x2="614.0" y2="641.0" stroke="#bfe0d4" stroke-width="4"/>
</g>
<text x="1830.8" y="1598.2" font-size="75.5" fill="#000">d</text>
<rect x="1883.8" y="1540.5" width="1461.8" height="525.0" fill="#fcf1e8" rx="16" stroke="#f5b0ba" stroke-width="3.3"/>
<text x="2531.8" y="1593.0" font-size="46.5" fill="#4472c4" font-weight="bold" textLength="167.0" lengthAdjust="spacingAndGlyphs">Results</text>
<g transform="translate(1900,1610) scale(0.15213)" fill="none" stroke="#0a0a0a" stroke-width="34" stroke-linecap="round" stroke-linejoin="round">
<path d="M352,1390 L352,990 C200,900 150,750 155,600 C160,330 380,155 640,155 C900,155 1100,330 1120,640 L1245,850 C1265,890 1245,920 1200,920 L1120,920 L1120,1000 C1120,1130 1040,1200 930,1200 L845,1200 L845,1390 Z" fill="none" stroke-linejoin="miter"/>
<path d="M450,880 C450,810 420,770 365,752 C290,728 245,640 270,560 C250,480 290,400 365,385 C400,310 480,290 530,305 C580,250 680,250 720,290 C790,250 860,290 880,345 C950,350 990,420 965,480 C1040,510 1040,600 985,630 C960,650 930,655 900,655 L740,655 C680,655 640,690 640,750 L640,880" fill="none" stroke-linecap="butt"/>
<path d="M545,880 L545,760 C545,700 510,660 455,640 C410,620 400,560 430,500 C450,450 520,420 580,440" fill="none" stroke-linecap="butt"/>
<path d="M385,668 L430,635" fill="none"/>
<path d="M360,465 C365,500 385,530 410,545" fill="none"/>
<path d="M445,570 L505,565" fill="none"/>
<path d="M440,385 C470,395 490,415 495,440" fill="none"/>
<path d="M600,350 C600,390 580,415 545,430" fill="none"/>
<path d="M495,440 C560,400 640,440 620,520 C610,560 590,585 575,595" fill="none"/>
<path d="M635,545 L690,528" fill="none"/>
<path d="M620,440 C700,445 760,420 785,385" fill="none"/>
<path d="M720,455 C760,490 830,500 895,470" fill="none"/>
<path d="M830,500 C860,530 875,565 873,600" fill="none"/>
</g>
<g transform="translate(1900,1610) scale(0.15213)">
<line x1="1660.0" y1="1060.0" x2="1340.0" y2="1345.0" stroke="#55c4b4" stroke-width="56" stroke-linecap="round"/>
<path d="M1560,970 L1615,920 Q1635,905 1660,925 L1740,990 Q1790,1040 1800,1085 L1745,1145 Q1730,1155 1715,1140 L1690,1100 L1645,1045 L1600,1020 Z" fill="#55c4b4" stroke="#fcf0e8" stroke-width="10"/>
<line x1="1660.0" y1="1060.0" x2="1600.0" y2="1113.0" stroke="#55c4b4" stroke-width="56"/>
<line x1="1420.0" y1="1090.0" x2="1725.0" y2="1350.0" stroke="#fcf0e8" stroke-width="76" stroke-linecap="round"/>
<line x1="1420.0" y1="1090.0" x2="1725.0" y2="1350.0" stroke="#55c4b4" stroke-width="56" stroke-linecap="round"/>
<path d="M1275,1125 L1325,1030 L1325,1000 L1375,985 L1385,955 L1440,935 L1500,985 L1440,1045 L1395,1080 L1385,1110 L1300,1140 Q1275,1145 1275,1125 Z" fill="#55c4b4"/>
</g>
<text x="1964.7" y="1901.9" font-size="41.5" fill="#4472c4" font-weight="bold" textLength="176.8" lengthAdjust="spacingAndGlyphs">Applying</text>
<text x="1919.5" y="1952.2" font-size="41.5" fill="#4472c4" font-weight="bold" textLength="268.0" lengthAdjust="spacingAndGlyphs">neuroscience</text>
<text x="1915.2" y="2001.8" font-size="41.5" fill="#4472c4" font-weight="bold" textLength="274.8" lengthAdjust="spacingAndGlyphs">analysis tools</text>
<rect x="2269.7" y="1618.3" width="248.3" height="95.5" fill="#dae8f8" rx="15" stroke="#4a8fd0" stroke-width="1.8"/>
<text x="2393.8" y="1678.0" font-size="37.2" fill="#000" text-anchor="middle" textLength="128.0" lengthAdjust="spacingAndGlyphs">Context</text>
<rect x="2646.3" y="1618.3" width="248.3" height="95.5" fill="#fff2cc" rx="15" stroke="#e6c65a" stroke-width="1.8"/>
<text x="2770.5" y="1656.5" font-size="37.2" fill="#000" text-anchor="middle" textLength="185.2" lengthAdjust="spacingAndGlyphs">Ambiguous</text>
<text x="2770.5" y="1700.4" font-size="37.2" fill="#000" text-anchor="middle" textLength="169.5" lengthAdjust="spacingAndGlyphs">sentences</text>
<rect x="3014.4" y="1618.3" width="253.9" height="93.1" fill="#b3d98a" rx="15" stroke="#7fbf7f" stroke-width="1.8"/>
<text x="3140.9" y="1656.5" font-size="37.2" fill="#000" text-anchor="middle" textLength="229.0" lengthAdjust="spacingAndGlyphs">Unambiguous</text>
<text x="3140.9" y="1700.4" font-size="37.2" fill="#000" text-anchor="middle" textLength="169.5" lengthAdjust="spacingAndGlyphs">sentences</text>
<line x1="2212.5" y1="1736.2" x2="2212.5" y2="2054.1" stroke="#1a1a1a" stroke-width="2.8" stroke-dasharray="10 5"/>
<line x1="2581.0" y1="1736.2" x2="2581.0" y2="2054.1" stroke="#1a1a1a" stroke-width="2.8" stroke-dasharray="10 5"/>
<line x1="2950.0" y1="1736.2" x2="2950.0" y2="2054.1" stroke="#1a1a1a" stroke-width="2.8" stroke-dasharray="10 5"/>
<line x1="3318.4" y1="1736.2" x2="3318.4" y2="2054.1" stroke="#1a1a1a" stroke-width="2.8" stroke-dasharray="10 5"/>
<line x1="2212.5" y1="1850.8" x2="3318.4" y2="1850.8" stroke="#1a1a1a" stroke-width="2.8" stroke-dasharray="10 5"/>
<text x="2225.3" y="1781.8" font-size="39.3" fill="#000" textLength="339.0" lengthAdjust="spacingAndGlyphs">Generated analysis</text>
<text x="2594.3" y="1781.8" font-size="39.3" fill="#000" textLength="339.0" lengthAdjust="spacingAndGlyphs">Generated analysis</text>
<text x="2962.8" y="1781.8" font-size="39.3" fill="#000" textLength="339.0" lengthAdjust="spacingAndGlyphs">Generated analysis</text>
<text x="2395.8" y="1831.7" font-size="41" fill="#333" text-anchor="middle" font-family="Liberation Serif, serif">I</text>
<text x="2765.7" y="1831.7" font-size="41" fill="#333" text-anchor="middle" font-family="Liberation Serif, serif">II</text>
<text x="3133.7" y="1831.7" font-size="41" fill="#333" text-anchor="middle" font-family="Liberation Serif, serif">III</text>
<text x="2395.8" y="1898.5" font-size="40" fill="#000" text-anchor="middle" textLength="197.0" lengthAdjust="spacingAndGlyphs">KS entropy</text>
<text x="2395.8" y="1946.3" font-size="40" fill="#000" text-anchor="middle" textLength="162.0" lengthAdjust="spacingAndGlyphs">(dynamic</text>
<text x="2395.8" y="1993.0" font-size="40" fill="#000" text-anchor="middle" textLength="234.0" lengthAdjust="spacingAndGlyphs">randomness)</text>
<text x="2765.7" y="1898.5" font-size="40" fill="#000" text-anchor="middle" textLength="301.0" lengthAdjust="spacingAndGlyphs">Shannon entropy</text>
<text x="2765.7" y="1946.3" font-size="40" fill="#000" text-anchor="middle" textLength="294.5" lengthAdjust="spacingAndGlyphs">(neural encoding</text>
<text x="2765.7" y="1993.0" font-size="40" fill="#000" text-anchor="middle" textLength="158.0" lengthAdjust="spacingAndGlyphs">capacity)</text>
<text x="3133.7" y="1898.5" font-size="40" fill="#000" text-anchor="middle" textLength="325.5" lengthAdjust="spacingAndGlyphs">Mutual information</text>
<text x="3133.7" y="1946.3" font-size="40" fill="#000" text-anchor="middle" textLength="261.0" lengthAdjust="spacingAndGlyphs">(extraction and</text>
<text x="3133.7" y="1993.0" font-size="40" fill="#000" text-anchor="middle" textLength="268.0" lengthAdjust="spacingAndGlyphs">representation)</text>
<polygon points="1894.7,1796.0 1857.7,1738.4 1857.7,1767.2 1831.8,1767.2 1831.8,1825.4 1857.7,1825.4 1857.7,1853.4" fill="url(#gAR)"/>
</svg></body></html>
